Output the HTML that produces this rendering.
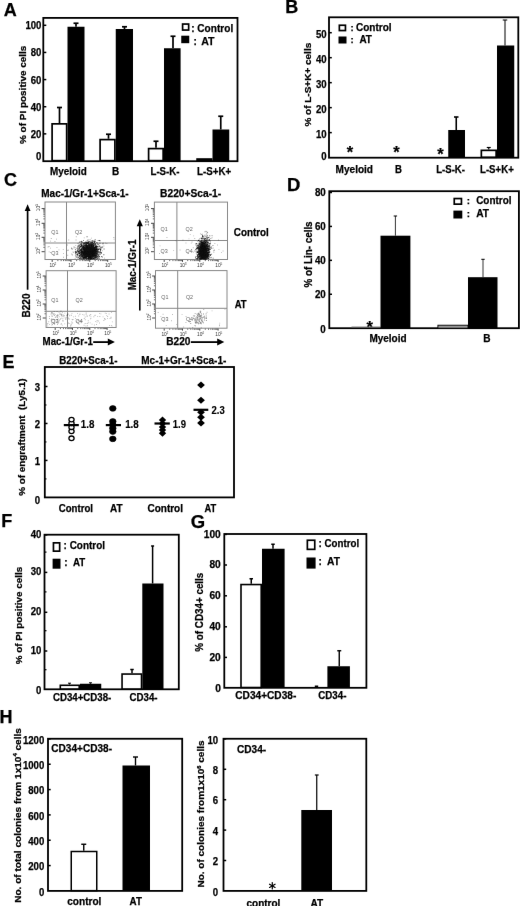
<!DOCTYPE html>
<html><head><meta charset="utf-8"><style>
html,body{margin:0;padding:0;background:#fff;width:520px;height:906px;overflow:hidden}
svg{display:block;will-change:transform;font-family:"Liberation Sans",sans-serif}
</style></head><body><svg width="520" height="906" viewBox="0 0 520 906">
<defs><filter id="bl" x="0" y="0" width="520" height="906" filterUnits="userSpaceOnUse" color-interpolation-filters="sRGB"><feConvolveMatrix order="3" kernelMatrix="0 1 0 1 24 1 0 1 0" divisor="28" edgeMode="duplicate"/></filter></defs>
<g filter="url(#bl)"><rect x="0" y="0" width="520" height="906" fill="#fff"/>
<text x="3.7" y="16.1" font-size="18" font-weight="bold" text-anchor="start" fill="#000" stroke="#000" stroke-width="0.25">A</text>
<rect x="43.3" y="17.9" width="194.2" height="143.3" fill="none" stroke="#000" stroke-width="1.8"/>
<line x1="43.3" y1="25.3" x2="46.3" y2="25.3" stroke="#000" stroke-width="1.5"/>
<text x="41.4" y="29.31" font-size="10.08" font-weight="bold" text-anchor="end" fill="#000" stroke="#000" stroke-width="0.25" textLength="16.01" lengthAdjust="spacingAndGlyphs">100</text>
<line x1="43.3" y1="52.44" x2="46.3" y2="52.44" stroke="#000" stroke-width="1.5"/>
<text x="41.4" y="56.45" font-size="10.08" font-weight="bold" text-anchor="end" fill="#000" stroke="#000" stroke-width="0.25" textLength="10.68" lengthAdjust="spacingAndGlyphs">80</text>
<line x1="43.3" y1="79.58" x2="46.3" y2="79.58" stroke="#000" stroke-width="1.5"/>
<text x="41.4" y="83.59" font-size="10.08" font-weight="bold" text-anchor="end" fill="#000" stroke="#000" stroke-width="0.25" textLength="10.68" lengthAdjust="spacingAndGlyphs">60</text>
<line x1="43.3" y1="106.72" x2="46.3" y2="106.72" stroke="#000" stroke-width="1.5"/>
<text x="41.4" y="110.73" font-size="10.08" font-weight="bold" text-anchor="end" fill="#000" stroke="#000" stroke-width="0.25" textLength="10.68" lengthAdjust="spacingAndGlyphs">40</text>
<line x1="43.3" y1="133.86" x2="46.3" y2="133.86" stroke="#000" stroke-width="1.5"/>
<text x="41.4" y="137.87" font-size="10.08" font-weight="bold" text-anchor="end" fill="#000" stroke="#000" stroke-width="0.25" textLength="10.68" lengthAdjust="spacingAndGlyphs">20</text>
<text x="41.4" y="159.81" font-size="10.08" font-weight="bold" text-anchor="end" fill="#000" stroke="#000" stroke-width="0.25" textLength="5.34" lengthAdjust="spacingAndGlyphs">0</text>
<text transform="translate(26,94.8) rotate(-90)" x="0" y="0" font-size="9.77" font-weight="bold" text-anchor="middle" fill="#000" stroke="#000" stroke-width="0.25" textLength="98.4" lengthAdjust="spacingAndGlyphs">% of PI positive cells</text>
<line x1="59.5" y1="107.5" x2="59.5" y2="123" stroke="#000" stroke-width="1.7"/>
<line x1="57" y1="107.5" x2="62" y2="107.5" stroke="#000" stroke-width="1.7"/>
<rect x="52.1" y="123.85" width="14.55" height="36.8" fill="#fff" stroke="#000" stroke-width="1.7"/>
<line x1="108.5" y1="134.25" x2="108.5" y2="138.75" stroke="#000" stroke-width="1.7"/>
<line x1="106" y1="134.25" x2="111" y2="134.25" stroke="#000" stroke-width="1.7"/>
<rect x="100.1" y="139.6" width="14.8" height="21.05" fill="#fff" stroke="#000" stroke-width="1.7"/>
<line x1="156" y1="141.25" x2="156" y2="147.75" stroke="#000" stroke-width="1.7"/>
<line x1="153.5" y1="141.25" x2="158.5" y2="141.25" stroke="#000" stroke-width="1.7"/>
<rect x="148.6" y="148.6" width="14.55" height="12.05" fill="#fff" stroke="#000" stroke-width="1.7"/>
<rect x="197.1" y="159.05" width="14.55" height="1.6" fill="#fff" stroke="#000" stroke-width="1.7"/>
<line x1="76" y1="23.25" x2="76" y2="26.75" stroke="#000" stroke-width="1.7"/>
<line x1="73.5" y1="23.25" x2="78.5" y2="23.25" stroke="#000" stroke-width="1.7"/>
<rect x="67.5" y="26.75" width="17" height="134.25" fill="#000"/>
<line x1="124.5" y1="26.75" x2="124.5" y2="29" stroke="#000" stroke-width="1.7"/>
<line x1="122" y1="26.75" x2="127" y2="26.75" stroke="#000" stroke-width="1.7"/>
<rect x="115.75" y="29" width="17.25" height="132" fill="#000"/>
<line x1="173" y1="36.25" x2="173" y2="48.25" stroke="#000" stroke-width="1.7"/>
<line x1="170.5" y1="36.25" x2="175.5" y2="36.25" stroke="#000" stroke-width="1.7"/>
<rect x="164" y="48.25" width="16.6" height="112.75" fill="#000"/>
<line x1="220.75" y1="116.25" x2="220.75" y2="129.5" stroke="#000" stroke-width="1.7"/>
<line x1="218.25" y1="116.25" x2="223.25" y2="116.25" stroke="#000" stroke-width="1.7"/>
<rect x="212.5" y="129.5" width="16.75" height="31.5" fill="#000"/>
<rect x="182.6" y="24.05" width="6.05" height="6" fill="#fff" stroke="#000" stroke-width="1.7"/>
<rect x="181.25" y="35.7" width="8" height="7.5" fill="#000"/>
<text x="191.2" y="31.7" font-size="10.5" font-weight="bold" text-anchor="start" fill="#000" stroke="#000" stroke-width="0.25" textLength="42" lengthAdjust="spacingAndGlyphs">: Control</text>
<text x="193.6" y="44.6" font-size="10" font-weight="bold" text-anchor="start" fill="#000" stroke="#000" stroke-width="0.25">:</text>
<text x="201.2" y="44.8" font-size="10.82" font-weight="bold" text-anchor="start" fill="#000" stroke="#000" stroke-width="0.25" textLength="13.3" lengthAdjust="spacingAndGlyphs">AT</text>
<text x="68.4" y="174.9" font-size="10.82" font-weight="bold" text-anchor="middle" fill="#000" stroke="#000" stroke-width="0.25" textLength="36.75" lengthAdjust="spacingAndGlyphs">Myeloid</text>
<text x="115.6" y="174.9" font-size="10.82" font-weight="bold" text-anchor="middle" fill="#000" stroke="#000" stroke-width="0.25" textLength="7.2" lengthAdjust="spacingAndGlyphs">B</text>
<text x="165" y="174.9" font-size="10.82" font-weight="bold" text-anchor="middle" fill="#000" stroke="#000" stroke-width="0.25" textLength="29" lengthAdjust="spacingAndGlyphs">L-S-K-</text>
<text x="214.1" y="174.9" font-size="10.82" font-weight="bold" text-anchor="middle" fill="#000" stroke="#000" stroke-width="0.25" textLength="34.25" lengthAdjust="spacingAndGlyphs">L-S+K+</text>
<text x="285.3" y="13" font-size="18" font-weight="bold" text-anchor="start" fill="#000" stroke="#000" stroke-width="0.25">B</text>
<rect x="329" y="17.3" width="189.3" height="140.4" fill="none" stroke="#000" stroke-width="1.8"/>
<line x1="329" y1="32.7" x2="331.8" y2="32.7" stroke="#000" stroke-width="1.5"/>
<text x="326.6" y="37.88" font-size="10.29" font-weight="bold" text-anchor="end" fill="#000" stroke="#000" stroke-width="0.25" textLength="10.68" lengthAdjust="spacingAndGlyphs">50</text>
<line x1="329" y1="57.68" x2="331.8" y2="57.68" stroke="#000" stroke-width="1.5"/>
<text x="326.6" y="62.86" font-size="10.29" font-weight="bold" text-anchor="end" fill="#000" stroke="#000" stroke-width="0.25" textLength="10.68" lengthAdjust="spacingAndGlyphs">40</text>
<line x1="329" y1="82.66" x2="331.8" y2="82.66" stroke="#000" stroke-width="1.5"/>
<text x="326.6" y="87.84" font-size="10.29" font-weight="bold" text-anchor="end" fill="#000" stroke="#000" stroke-width="0.25" textLength="10.68" lengthAdjust="spacingAndGlyphs">30</text>
<line x1="329" y1="107.64" x2="331.8" y2="107.64" stroke="#000" stroke-width="1.5"/>
<text x="326.6" y="112.82" font-size="10.29" font-weight="bold" text-anchor="end" fill="#000" stroke="#000" stroke-width="0.25" textLength="10.68" lengthAdjust="spacingAndGlyphs">20</text>
<line x1="329" y1="132.62" x2="331.8" y2="132.62" stroke="#000" stroke-width="1.5"/>
<text x="326.6" y="137.8" font-size="10.29" font-weight="bold" text-anchor="end" fill="#000" stroke="#000" stroke-width="0.25" textLength="10.68" lengthAdjust="spacingAndGlyphs">10</text>
<text x="326.6" y="159.58" font-size="10.29" font-weight="bold" text-anchor="end" fill="#000" stroke="#000" stroke-width="0.25" textLength="5.34" lengthAdjust="spacingAndGlyphs">0</text>
<text transform="translate(311.4,84.7) rotate(-90)" x="0" y="0" font-size="9.77" font-weight="bold" text-anchor="middle" fill="#000" stroke="#000" stroke-width="0.25" textLength="83.8" lengthAdjust="spacingAndGlyphs">% of L-S+K+ cells</text>
<rect x="339.35" y="25.25" width="6.1" height="5.3" fill="#fff" stroke="#000" stroke-width="1.7"/>
<rect x="338.5" y="36.5" width="8" height="7" fill="#000"/>
<text x="350.4" y="31" font-size="9.5" font-weight="bold" text-anchor="start" fill="#000" stroke="#000" stroke-width="0.25">:</text>
<text x="356" y="31.2" font-size="10.4" font-weight="bold" text-anchor="start" fill="#000" stroke="#000" stroke-width="0.25" textLength="35.6" lengthAdjust="spacingAndGlyphs">Control</text>
<text x="350.6" y="43" font-size="9.5" font-weight="bold" text-anchor="start" fill="#000" stroke="#000" stroke-width="0.25">:</text>
<text x="359.4" y="43.2" font-size="10.4" font-weight="bold" text-anchor="start" fill="#000" stroke="#000" stroke-width="0.25" textLength="12.5" lengthAdjust="spacingAndGlyphs">AT</text>
<text x="349.9" y="157.68" font-size="16.5" font-weight="bold" text-anchor="middle" fill="#000" stroke="#000" stroke-width="0.25">*</text>
<text x="396.4" y="157.98" font-size="16.5" font-weight="bold" text-anchor="middle" fill="#000" stroke="#000" stroke-width="0.25">*</text>
<text x="440.4" y="160.48" font-size="16.5" font-weight="bold" text-anchor="middle" fill="#000" stroke="#000" stroke-width="0.25">*</text>
<line x1="456.25" y1="117" x2="456.25" y2="130" stroke="#000" stroke-width="1.6"/>
<line x1="454" y1="117" x2="458.5" y2="117" stroke="#000" stroke-width="1.6"/>
<rect x="448.25" y="130" width="16.75" height="27.6" fill="#000"/>
<line x1="488.75" y1="147.5" x2="488.75" y2="149.5" stroke="#000" stroke-width="1.2"/>
<line x1="486.75" y1="147.5" x2="490.75" y2="147.5" stroke="#000" stroke-width="1.2"/>
<rect x="481.35" y="150.35" width="14.8" height="6.9" fill="#fff" stroke="#000" stroke-width="1.7"/>
<line x1="505" y1="20" x2="505" y2="45.5" stroke="#000" stroke-width="1"/>
<line x1="502.75" y1="20" x2="507.25" y2="20" stroke="#000" stroke-width="1"/>
<rect x="497" y="45.5" width="17.25" height="112.1" fill="#000"/>
<text x="354.3" y="172.8" font-size="10.19" font-weight="bold" text-anchor="middle" fill="#000" stroke="#000" stroke-width="0.25" textLength="37.4" lengthAdjust="spacingAndGlyphs">Myeloid</text>
<text x="398.4" y="172.8" font-size="10.19" font-weight="bold" text-anchor="middle" fill="#000" stroke="#000" stroke-width="0.25" textLength="6.9" lengthAdjust="spacingAndGlyphs">B</text>
<text x="450.6" y="172.8" font-size="10.19" font-weight="bold" text-anchor="middle" fill="#000" stroke="#000" stroke-width="0.25" textLength="28.75" lengthAdjust="spacingAndGlyphs">L-S-K-</text>
<text x="496.9" y="172.8" font-size="10.19" font-weight="bold" text-anchor="middle" fill="#000" stroke="#000" stroke-width="0.25" textLength="33.75" lengthAdjust="spacingAndGlyphs">L-S+K+</text>
<text x="3.9" y="186.4" font-size="18" font-weight="bold" text-anchor="start" fill="#000" stroke="#000" stroke-width="0.25">C</text>
<text x="41.3" y="197.1" font-size="10.29" font-weight="bold" text-anchor="start" fill="#000" stroke="#000" stroke-width="0.25" textLength="87.4" lengthAdjust="spacingAndGlyphs">Mac-1/Gr-1+Sca-1-</text>
<text x="160.1" y="197.2" font-size="10.29" font-weight="bold" text-anchor="start" fill="#000" stroke="#000" stroke-width="0.25" textLength="61.1" lengthAdjust="spacingAndGlyphs">B220+Sca-1-</text>
<line x1="52.2" y1="259.5" x2="52.2" y2="261.9" stroke="#333" stroke-width="0.9"/>
<text x="49.4" y="267.4" font-size="4.8" font-weight="normal" text-anchor="start" fill="#333">10</text>
<text x="54.5" y="265.1" font-size="3.2" font-weight="normal" text-anchor="start" fill="#333">2</text>
<line x1="57.86" y1="259.5" x2="57.86" y2="261.1" stroke="#444" stroke-width="0.8"/>
<line x1="61.17" y1="259.5" x2="61.17" y2="261.1" stroke="#444" stroke-width="0.8"/>
<line x1="63.52" y1="259.5" x2="63.52" y2="261.1" stroke="#444" stroke-width="0.8"/>
<line x1="65.34" y1="259.5" x2="65.34" y2="261.1" stroke="#444" stroke-width="0.8"/>
<line x1="66.83" y1="259.5" x2="66.83" y2="261.1" stroke="#444" stroke-width="0.8"/>
<line x1="68.09" y1="259.5" x2="68.09" y2="261.1" stroke="#444" stroke-width="0.8"/>
<line x1="69.18" y1="259.5" x2="69.18" y2="261.1" stroke="#444" stroke-width="0.8"/>
<line x1="70.14" y1="259.5" x2="70.14" y2="261.1" stroke="#444" stroke-width="0.8"/>
<line x1="71" y1="259.5" x2="71" y2="261.9" stroke="#333" stroke-width="0.9"/>
<text x="68.2" y="267.4" font-size="4.8" font-weight="normal" text-anchor="start" fill="#333">10</text>
<text x="73.3" y="265.1" font-size="3.2" font-weight="normal" text-anchor="start" fill="#333">3</text>
<line x1="76.66" y1="259.5" x2="76.66" y2="261.1" stroke="#444" stroke-width="0.8"/>
<line x1="79.97" y1="259.5" x2="79.97" y2="261.1" stroke="#444" stroke-width="0.8"/>
<line x1="82.32" y1="259.5" x2="82.32" y2="261.1" stroke="#444" stroke-width="0.8"/>
<line x1="84.14" y1="259.5" x2="84.14" y2="261.1" stroke="#444" stroke-width="0.8"/>
<line x1="85.63" y1="259.5" x2="85.63" y2="261.1" stroke="#444" stroke-width="0.8"/>
<line x1="86.89" y1="259.5" x2="86.89" y2="261.1" stroke="#444" stroke-width="0.8"/>
<line x1="87.98" y1="259.5" x2="87.98" y2="261.1" stroke="#444" stroke-width="0.8"/>
<line x1="88.94" y1="259.5" x2="88.94" y2="261.1" stroke="#444" stroke-width="0.8"/>
<line x1="89.8" y1="259.5" x2="89.8" y2="261.9" stroke="#333" stroke-width="0.9"/>
<text x="87" y="267.4" font-size="4.8" font-weight="normal" text-anchor="start" fill="#333">10</text>
<text x="92.1" y="265.1" font-size="3.2" font-weight="normal" text-anchor="start" fill="#333">4</text>
<line x1="95.19" y1="259.5" x2="95.19" y2="261.1" stroke="#444" stroke-width="0.8"/>
<line x1="98.34" y1="259.5" x2="98.34" y2="261.1" stroke="#444" stroke-width="0.8"/>
<line x1="100.58" y1="259.5" x2="100.58" y2="261.1" stroke="#444" stroke-width="0.8"/>
<line x1="102.31" y1="259.5" x2="102.31" y2="261.1" stroke="#444" stroke-width="0.8"/>
<line x1="103.73" y1="259.5" x2="103.73" y2="261.1" stroke="#444" stroke-width="0.8"/>
<line x1="104.93" y1="259.5" x2="104.93" y2="261.1" stroke="#444" stroke-width="0.8"/>
<line x1="105.97" y1="259.5" x2="105.97" y2="261.1" stroke="#444" stroke-width="0.8"/>
<line x1="106.88" y1="259.5" x2="106.88" y2="261.1" stroke="#444" stroke-width="0.8"/>
<line x1="107.7" y1="259.5" x2="107.7" y2="261.9" stroke="#333" stroke-width="0.9"/>
<text x="104.9" y="267.4" font-size="4.8" font-weight="normal" text-anchor="start" fill="#333">10</text>
<text x="110" y="265.1" font-size="3.2" font-weight="normal" text-anchor="start" fill="#333">5</text>
<line x1="41.6" y1="251.7" x2="45" y2="251.7" stroke="#333" stroke-width="0.9"/>
<text transform="translate(40,254.3) rotate(-90)" font-size="4.8" fill="#333">10<tspan font-size="3.2" dy="-1.9">2</tspan></text>
<line x1="43.4" y1="247.37" x2="45" y2="247.37" stroke="#444" stroke-width="0.8"/>
<line x1="43.4" y1="244.83" x2="45" y2="244.83" stroke="#444" stroke-width="0.8"/>
<line x1="43.4" y1="243.03" x2="45" y2="243.03" stroke="#444" stroke-width="0.8"/>
<line x1="43.4" y1="241.63" x2="45" y2="241.63" stroke="#444" stroke-width="0.8"/>
<line x1="43.4" y1="240.49" x2="45" y2="240.49" stroke="#444" stroke-width="0.8"/>
<line x1="43.4" y1="239.53" x2="45" y2="239.53" stroke="#444" stroke-width="0.8"/>
<line x1="43.4" y1="238.7" x2="45" y2="238.7" stroke="#444" stroke-width="0.8"/>
<line x1="43.4" y1="237.96" x2="45" y2="237.96" stroke="#444" stroke-width="0.8"/>
<line x1="41.6" y1="237.3" x2="45" y2="237.3" stroke="#333" stroke-width="0.9"/>
<text transform="translate(40,239.9) rotate(-90)" font-size="4.8" fill="#333">10<tspan font-size="3.2" dy="-1.9">3</tspan></text>
<line x1="43.4" y1="233.09" x2="45" y2="233.09" stroke="#444" stroke-width="0.8"/>
<line x1="43.4" y1="230.62" x2="45" y2="230.62" stroke="#444" stroke-width="0.8"/>
<line x1="43.4" y1="228.87" x2="45" y2="228.87" stroke="#444" stroke-width="0.8"/>
<line x1="43.4" y1="227.51" x2="45" y2="227.51" stroke="#444" stroke-width="0.8"/>
<line x1="43.4" y1="226.41" x2="45" y2="226.41" stroke="#444" stroke-width="0.8"/>
<line x1="43.4" y1="225.47" x2="45" y2="225.47" stroke="#444" stroke-width="0.8"/>
<line x1="43.4" y1="224.66" x2="45" y2="224.66" stroke="#444" stroke-width="0.8"/>
<line x1="43.4" y1="223.94" x2="45" y2="223.94" stroke="#444" stroke-width="0.8"/>
<line x1="41.6" y1="223.3" x2="45" y2="223.3" stroke="#333" stroke-width="0.9"/>
<text transform="translate(40,225.9) rotate(-90)" font-size="4.8" fill="#333">10<tspan font-size="3.2" dy="-1.9">4</tspan></text>
<line x1="43.4" y1="218.87" x2="45" y2="218.87" stroke="#444" stroke-width="0.8"/>
<line x1="43.4" y1="216.29" x2="45" y2="216.29" stroke="#444" stroke-width="0.8"/>
<line x1="43.4" y1="214.45" x2="45" y2="214.45" stroke="#444" stroke-width="0.8"/>
<line x1="43.4" y1="213.03" x2="45" y2="213.03" stroke="#444" stroke-width="0.8"/>
<line x1="43.4" y1="211.86" x2="45" y2="211.86" stroke="#444" stroke-width="0.8"/>
<line x1="43.4" y1="210.88" x2="45" y2="210.88" stroke="#444" stroke-width="0.8"/>
<line x1="43.4" y1="210.02" x2="45" y2="210.02" stroke="#444" stroke-width="0.8"/>
<line x1="43.4" y1="209.27" x2="45" y2="209.27" stroke="#444" stroke-width="0.8"/>
<line x1="41.6" y1="208.6" x2="45" y2="208.6" stroke="#333" stroke-width="0.9"/>
<text transform="translate(40,211.2) rotate(-90)" font-size="4.8" fill="#333">10<tspan font-size="3.2" dy="-1.9">5</tspan></text>
<rect x="45" y="202" width="70.4" height="57.5" fill="none" stroke="#888" stroke-width="1"/>
<line x1="66.5" y1="202" x2="66.5" y2="259.5" stroke="#888" stroke-width="1"/>
<line x1="45" y1="243" x2="115.4" y2="243" stroke="#888" stroke-width="1"/>
<text x="51.3" y="234.4" font-size="5.4" font-weight="normal" text-anchor="start" fill="#666">Q1</text>
<text x="75" y="234.4" font-size="5.4" font-weight="normal" text-anchor="start" fill="#666">Q2</text>
<text x="51.3" y="255.4" font-size="5.4" font-weight="normal" text-anchor="start" fill="#666">Q3</text>
<text x="75" y="255.4" font-size="5.4" font-weight="normal" text-anchor="start" fill="#666">Q4</text>
<path d="M68.3 239.5h0.9v0.9h-0.9zM90.9 237.7h0.9v0.9h-0.9zM83.0 244.4h0.9v0.9h-0.9zM50.0 247.7h0.9v0.9h-0.9zM48.6 246.0h0.9v0.9h-0.9zM50.8 238.1h0.9v0.9h-0.9zM75.3 255.0h0.9v0.9h-0.9zM54.5 241.1h0.9v0.9h-0.9zM89.3 257.8h0.9v0.9h-0.9zM85.8 245.1h0.9v0.9h-0.9zM113.4 237.1h0.9v0.9h-0.9zM105.2 242.7h0.9v0.9h-0.9zM56.0 238.7h0.9v0.9h-0.9zM67.3 254.8h0.9v0.9h-0.9zM58.5 249.4h0.9v0.9h-0.9zM90.1 244.6h0.9v0.9h-0.9zM83.8 237.4h0.9v0.9h-0.9zM50.1 240.7h0.9v0.9h-0.9zM92.9 245.8h0.9v0.9h-0.9zM67.7 249.5h0.9v0.9h-0.9zM77.3 242.9h0.9v0.9h-0.9zM100.8 252.1h0.9v0.9h-0.9zM62.8 249.2h0.9v0.9h-0.9zM82.2 256.1h0.9v0.9h-0.9zM96.3 242.6h0.9v0.9h-0.9zM113.6 238.7h0.9v0.9h-0.9zM74.9 253.4h0.9v0.9h-0.9zM56.5 247.2h0.9v0.9h-0.9zM48.7 251.4h0.9v0.9h-0.9zM98.8 249.2h0.9v0.9h-0.9zM106.4 243.2h0.9v0.9h-0.9zM94.0 249.7h0.9v0.9h-0.9zM86.0 246.5h0.9v0.9h-0.9zM104.0 257.7h0.9v0.9h-0.9zM78.7 251.3h0.9v0.9h-0.9zM50.2 252.1h0.9v0.9h-0.9zM90.7 258.8h0.9v0.9h-0.9zM102.7 242.5h0.9v0.9h-0.9zM72.6 251.4h0.9v0.9h-0.9zM47.6 246.6h0.9v0.9h-0.9z" fill="#000" fill-opacity="0.35"/>
<path d="M89.7 253.4h0.9v0.9h-0.9zM96.5 254.2h0.9v0.9h-0.9zM91.1 253.9h0.9v0.9h-0.9zM80.7 257.1h0.9v0.9h-0.9zM93.3 253.8h0.9v0.9h-0.9zM78.6 248.7h0.9v0.9h-0.9zM92.7 243.5h0.9v0.9h-0.9zM87.6 256.0h0.9v0.9h-0.9zM81.9 258.6h0.9v0.9h-0.9zM91.3 250.8h0.9v0.9h-0.9zM90.1 254.4h0.9v0.9h-0.9zM89.1 256.5h0.9v0.9h-0.9zM85.2 249.7h0.9v0.9h-0.9zM93.7 251.6h0.9v0.9h-0.9zM84.1 255.7h0.9v0.9h-0.9zM95.8 249.5h0.9v0.9h-0.9zM81.6 250.9h0.9v0.9h-0.9zM87.8 250.2h0.9v0.9h-0.9zM95.5 247.0h0.9v0.9h-0.9zM94.8 245.9h0.9v0.9h-0.9zM84.6 254.3h0.9v0.9h-0.9zM94.1 255.3h0.9v0.9h-0.9zM90.2 252.1h0.9v0.9h-0.9zM89.3 254.0h0.9v0.9h-0.9zM87.6 252.7h0.9v0.9h-0.9zM91.4 251.5h0.9v0.9h-0.9zM92.3 254.0h0.9v0.9h-0.9zM98.6 252.9h0.9v0.9h-0.9zM86.4 249.9h0.9v0.9h-0.9zM88.4 255.6h0.9v0.9h-0.9zM86.8 253.2h0.9v0.9h-0.9zM97.7 240.2h0.9v0.9h-0.9zM82.9 252.6h0.9v0.9h-0.9zM90.5 252.5h0.9v0.9h-0.9zM86.3 254.4h0.9v0.9h-0.9zM89.9 249.2h0.9v0.9h-0.9zM100.7 253.1h0.9v0.9h-0.9zM85.7 251.1h0.9v0.9h-0.9zM87.4 251.2h0.9v0.9h-0.9zM74.9 249.4h0.9v0.9h-0.9zM93.5 246.4h0.9v0.9h-0.9zM88.2 255.7h0.9v0.9h-0.9zM92.8 258.1h0.9v0.9h-0.9zM80.0 249.9h0.9v0.9h-0.9zM86.8 254.2h0.9v0.9h-0.9zM94.0 239.7h0.9v0.9h-0.9zM93.9 245.1h0.9v0.9h-0.9zM91.9 244.9h0.9v0.9h-0.9zM89.4 256.8h0.9v0.9h-0.9zM87.8 252.3h0.9v0.9h-0.9zM92.5 252.1h0.9v0.9h-0.9zM88.1 258.2h0.9v0.9h-0.9zM93.7 250.2h0.9v0.9h-0.9zM102.2 246.5h0.9v0.9h-0.9zM93.1 250.3h0.9v0.9h-0.9zM89.2 254.6h0.9v0.9h-0.9zM89.6 254.3h0.9v0.9h-0.9zM80.9 244.9h0.9v0.9h-0.9zM91.6 247.3h0.9v0.9h-0.9zM83.4 245.0h0.9v0.9h-0.9zM94.8 254.8h0.9v0.9h-0.9zM95.9 247.4h0.9v0.9h-0.9zM88.5 246.5h0.9v0.9h-0.9zM92.3 258.5h0.9v0.9h-0.9zM84.0 258.4h0.9v0.9h-0.9zM93.4 250.7h0.9v0.9h-0.9zM78.6 257.7h0.9v0.9h-0.9zM88.0 248.8h0.9v0.9h-0.9zM90.5 253.3h0.9v0.9h-0.9zM96.0 247.0h0.9v0.9h-0.9zM94.2 258.0h0.9v0.9h-0.9zM95.8 250.7h0.9v0.9h-0.9zM84.8 256.0h0.9v0.9h-0.9zM89.1 252.0h0.9v0.9h-0.9zM95.6 250.3h0.9v0.9h-0.9zM77.0 249.8h0.9v0.9h-0.9zM79.2 255.1h0.9v0.9h-0.9zM90.1 248.8h0.9v0.9h-0.9zM88.5 255.2h0.9v0.9h-0.9zM88.9 257.3h0.9v0.9h-0.9zM88.2 256.1h0.9v0.9h-0.9zM96.0 258.6h0.9v0.9h-0.9zM85.1 255.4h0.9v0.9h-0.9zM79.1 246.7h0.9v0.9h-0.9zM78.7 256.2h0.9v0.9h-0.9zM82.3 251.4h0.9v0.9h-0.9zM87.5 251.4h0.9v0.9h-0.9zM85.5 252.5h0.9v0.9h-0.9zM97.5 251.7h0.9v0.9h-0.9zM91.2 255.9h0.9v0.9h-0.9zM87.5 246.0h0.9v0.9h-0.9zM85.7 256.2h0.9v0.9h-0.9zM80.3 248.9h0.9v0.9h-0.9zM93.5 255.0h0.9v0.9h-0.9zM88.5 255.0h0.9v0.9h-0.9zM89.3 246.3h0.9v0.9h-0.9zM80.7 248.7h0.9v0.9h-0.9zM93.1 249.0h0.9v0.9h-0.9zM84.0 248.1h0.9v0.9h-0.9zM80.8 251.0h0.9v0.9h-0.9zM82.6 253.1h0.9v0.9h-0.9zM76.7 252.9h0.9v0.9h-0.9zM85.3 243.0h0.9v0.9h-0.9zM92.1 250.3h0.9v0.9h-0.9zM77.3 247.6h0.9v0.9h-0.9zM90.0 249.5h0.9v0.9h-0.9zM92.4 254.8h0.9v0.9h-0.9zM91.8 252.9h0.9v0.9h-0.9zM95.2 254.4h0.9v0.9h-0.9zM90.8 242.3h0.9v0.9h-0.9zM93.0 257.3h0.9v0.9h-0.9zM87.0 249.4h0.9v0.9h-0.9zM98.2 243.8h0.9v0.9h-0.9zM83.9 254.5h0.9v0.9h-0.9zM97.9 251.0h0.9v0.9h-0.9zM91.3 255.5h0.9v0.9h-0.9zM84.0 251.1h0.9v0.9h-0.9zM90.0 255.1h0.9v0.9h-0.9zM88.3 250.6h0.9v0.9h-0.9zM83.4 249.9h0.9v0.9h-0.9zM93.0 251.9h0.9v0.9h-0.9zM84.2 247.8h0.9v0.9h-0.9zM101.8 256.5h0.9v0.9h-0.9zM91.7 240.1h0.9v0.9h-0.9zM91.6 253.6h0.9v0.9h-0.9zM96.9 253.4h0.9v0.9h-0.9zM88.2 253.8h0.9v0.9h-0.9zM78.8 256.0h0.9v0.9h-0.9zM90.1 248.4h0.9v0.9h-0.9zM81.5 248.6h0.9v0.9h-0.9zM90.0 252.3h0.9v0.9h-0.9zM86.5 247.2h0.9v0.9h-0.9zM99.1 256.1h0.9v0.9h-0.9zM82.5 245.6h0.9v0.9h-0.9zM97.0 255.9h0.9v0.9h-0.9zM97.6 255.1h0.9v0.9h-0.9zM84.1 252.6h0.9v0.9h-0.9zM77.7 248.2h0.9v0.9h-0.9zM88.2 253.8h0.9v0.9h-0.9zM84.9 251.0h0.9v0.9h-0.9zM90.8 253.2h0.9v0.9h-0.9zM91.7 252.4h0.9v0.9h-0.9zM86.9 255.0h0.9v0.9h-0.9zM88.7 247.9h0.9v0.9h-0.9zM85.4 251.5h0.9v0.9h-0.9zM88.0 252.2h0.9v0.9h-0.9zM88.5 252.3h0.9v0.9h-0.9zM87.8 246.0h0.9v0.9h-0.9zM90.6 256.1h0.9v0.9h-0.9zM90.7 250.7h0.9v0.9h-0.9zM90.7 247.3h0.9v0.9h-0.9zM79.0 251.8h0.9v0.9h-0.9zM83.8 254.8h0.9v0.9h-0.9zM83.1 239.9h0.9v0.9h-0.9zM83.3 258.4h0.9v0.9h-0.9zM86.6 245.5h0.9v0.9h-0.9zM84.7 253.8h0.9v0.9h-0.9zM91.0 252.3h0.9v0.9h-0.9zM95.9 254.6h0.9v0.9h-0.9zM88.4 254.1h0.9v0.9h-0.9zM96.8 255.8h0.9v0.9h-0.9zM93.6 246.7h0.9v0.9h-0.9zM87.8 254.7h0.9v0.9h-0.9zM87.0 256.2h0.9v0.9h-0.9zM91.5 255.5h0.9v0.9h-0.9zM94.7 250.6h0.9v0.9h-0.9zM86.8 255.3h0.9v0.9h-0.9zM93.4 251.5h0.9v0.9h-0.9zM82.7 252.3h0.9v0.9h-0.9zM90.3 256.5h0.9v0.9h-0.9zM92.4 251.6h0.9v0.9h-0.9zM92.8 253.9h0.9v0.9h-0.9zM89.5 251.7h0.9v0.9h-0.9zM87.3 254.5h0.9v0.9h-0.9zM83.2 248.7h0.9v0.9h-0.9zM88.5 245.1h0.9v0.9h-0.9zM86.3 242.7h0.9v0.9h-0.9zM85.1 254.0h0.9v0.9h-0.9zM91.3 251.3h0.9v0.9h-0.9zM87.3 245.3h0.9v0.9h-0.9zM97.6 253.8h0.9v0.9h-0.9zM94.0 247.6h0.9v0.9h-0.9zM87.6 243.5h0.9v0.9h-0.9zM92.4 255.6h0.9v0.9h-0.9zM79.0 251.3h0.9v0.9h-0.9zM91.7 243.7h0.9v0.9h-0.9zM79.4 246.8h0.9v0.9h-0.9zM85.4 245.3h0.9v0.9h-0.9zM88.7 252.6h0.9v0.9h-0.9zM91.7 254.6h0.9v0.9h-0.9zM96.0 256.6h0.9v0.9h-0.9zM81.9 249.3h0.9v0.9h-0.9zM83.2 246.8h0.9v0.9h-0.9zM88.1 251.5h0.9v0.9h-0.9zM91.0 244.5h0.9v0.9h-0.9zM82.3 251.4h0.9v0.9h-0.9zM87.5 250.1h0.9v0.9h-0.9zM88.2 248.2h0.9v0.9h-0.9zM92.0 253.1h0.9v0.9h-0.9zM88.1 248.5h0.9v0.9h-0.9zM87.6 239.5h0.9v0.9h-0.9zM83.6 251.7h0.9v0.9h-0.9zM81.0 252.4h0.9v0.9h-0.9zM89.2 245.4h0.9v0.9h-0.9zM87.2 250.1h0.9v0.9h-0.9zM90.8 254.2h0.9v0.9h-0.9zM88.3 247.8h0.9v0.9h-0.9zM87.8 251.2h0.9v0.9h-0.9zM92.2 252.8h0.9v0.9h-0.9zM84.9 245.5h0.9v0.9h-0.9zM86.6 248.2h0.9v0.9h-0.9zM82.9 251.0h0.9v0.9h-0.9zM86.0 252.0h0.9v0.9h-0.9zM91.1 249.7h0.9v0.9h-0.9zM100.1 250.1h0.9v0.9h-0.9zM94.0 252.0h0.9v0.9h-0.9zM94.1 241.0h0.9v0.9h-0.9zM84.7 252.6h0.9v0.9h-0.9zM90.1 257.1h0.9v0.9h-0.9zM92.3 255.7h0.9v0.9h-0.9zM91.1 250.8h0.9v0.9h-0.9zM91.0 246.8h0.9v0.9h-0.9zM94.4 247.0h0.9v0.9h-0.9zM87.4 251.6h0.9v0.9h-0.9zM94.3 251.6h0.9v0.9h-0.9zM84.5 252.6h0.9v0.9h-0.9zM91.4 254.6h0.9v0.9h-0.9zM96.8 251.6h0.9v0.9h-0.9zM89.8 249.6h0.9v0.9h-0.9zM95.6 248.4h0.9v0.9h-0.9zM91.9 249.4h0.9v0.9h-0.9zM85.0 254.7h0.9v0.9h-0.9zM95.2 251.5h0.9v0.9h-0.9zM85.1 255.1h0.9v0.9h-0.9zM88.3 252.9h0.9v0.9h-0.9zM96.1 256.5h0.9v0.9h-0.9zM88.5 255.0h0.9v0.9h-0.9zM85.3 251.3h0.9v0.9h-0.9zM95.3 246.2h0.9v0.9h-0.9zM81.0 244.4h0.9v0.9h-0.9zM94.4 249.5h0.9v0.9h-0.9zM88.2 250.1h0.9v0.9h-0.9zM87.9 246.7h0.9v0.9h-0.9zM88.6 245.2h0.9v0.9h-0.9zM88.1 252.9h0.9v0.9h-0.9zM90.8 250.5h0.9v0.9h-0.9zM84.0 252.2h0.9v0.9h-0.9zM86.1 258.4h0.9v0.9h-0.9zM92.3 251.0h0.9v0.9h-0.9zM86.1 248.4h0.9v0.9h-0.9zM83.8 249.9h0.9v0.9h-0.9zM90.0 253.8h0.9v0.9h-0.9zM85.0 251.6h0.9v0.9h-0.9zM102.5 243.3h0.9v0.9h-0.9zM85.9 252.2h0.9v0.9h-0.9zM89.3 253.3h0.9v0.9h-0.9zM87.3 253.1h0.9v0.9h-0.9zM88.8 254.9h0.9v0.9h-0.9zM79.0 247.6h0.9v0.9h-0.9zM88.5 247.0h0.9v0.9h-0.9zM83.3 254.3h0.9v0.9h-0.9zM85.3 254.3h0.9v0.9h-0.9zM92.2 252.8h0.9v0.9h-0.9zM91.0 251.0h0.9v0.9h-0.9zM81.5 251.4h0.9v0.9h-0.9zM90.8 249.2h0.9v0.9h-0.9zM88.0 254.8h0.9v0.9h-0.9zM84.1 254.3h0.9v0.9h-0.9zM97.8 249.1h0.9v0.9h-0.9zM89.2 250.8h0.9v0.9h-0.9zM96.2 252.9h0.9v0.9h-0.9zM93.0 248.5h0.9v0.9h-0.9zM88.4 251.5h0.9v0.9h-0.9zM79.6 257.8h0.9v0.9h-0.9zM93.0 243.8h0.9v0.9h-0.9zM92.2 250.9h0.9v0.9h-0.9zM90.7 253.1h0.9v0.9h-0.9zM81.0 250.6h0.9v0.9h-0.9zM96.0 249.0h0.9v0.9h-0.9zM83.4 245.5h0.9v0.9h-0.9zM82.4 253.0h0.9v0.9h-0.9zM97.0 253.4h0.9v0.9h-0.9zM85.9 248.5h0.9v0.9h-0.9zM91.1 253.9h0.9v0.9h-0.9zM83.4 246.4h0.9v0.9h-0.9zM90.0 252.6h0.9v0.9h-0.9zM82.0 250.6h0.9v0.9h-0.9zM85.8 253.5h0.9v0.9h-0.9zM87.9 251.1h0.9v0.9h-0.9zM86.7 256.1h0.9v0.9h-0.9zM95.5 249.9h0.9v0.9h-0.9zM92.7 248.2h0.9v0.9h-0.9zM88.9 254.8h0.9v0.9h-0.9zM96.1 249.8h0.9v0.9h-0.9zM88.1 252.4h0.9v0.9h-0.9zM81.0 251.6h0.9v0.9h-0.9zM85.1 253.1h0.9v0.9h-0.9zM82.9 242.8h0.9v0.9h-0.9zM88.7 252.6h0.9v0.9h-0.9zM85.8 255.4h0.9v0.9h-0.9zM87.1 248.8h0.9v0.9h-0.9zM90.9 244.6h0.9v0.9h-0.9zM85.1 251.4h0.9v0.9h-0.9zM92.7 250.8h0.9v0.9h-0.9zM90.0 248.6h0.9v0.9h-0.9zM90.0 258.8h0.9v0.9h-0.9zM85.3 251.6h0.9v0.9h-0.9zM89.4 256.0h0.9v0.9h-0.9zM82.3 242.3h0.9v0.9h-0.9zM91.5 255.0h0.9v0.9h-0.9zM89.5 252.6h0.9v0.9h-0.9zM93.1 253.1h0.9v0.9h-0.9zM96.8 246.1h0.9v0.9h-0.9zM86.6 236.3h0.9v0.9h-0.9zM92.6 249.9h0.9v0.9h-0.9zM88.5 250.4h0.9v0.9h-0.9zM86.0 247.8h0.9v0.9h-0.9zM85.3 254.3h0.9v0.9h-0.9zM88.7 251.8h0.9v0.9h-0.9zM87.6 255.5h0.9v0.9h-0.9zM91.0 250.9h0.9v0.9h-0.9zM91.8 250.8h0.9v0.9h-0.9zM82.7 257.9h0.9v0.9h-0.9zM90.8 247.3h0.9v0.9h-0.9zM93.9 253.0h0.9v0.9h-0.9zM80.7 258.6h0.9v0.9h-0.9zM90.2 255.4h0.9v0.9h-0.9zM89.5 250.8h0.9v0.9h-0.9zM80.8 255.8h0.9v0.9h-0.9zM88.7 250.2h0.9v0.9h-0.9zM90.3 251.8h0.9v0.9h-0.9zM91.9 249.9h0.9v0.9h-0.9zM88.3 242.1h0.9v0.9h-0.9zM86.4 254.5h0.9v0.9h-0.9zM95.2 249.9h0.9v0.9h-0.9zM87.9 258.5h0.9v0.9h-0.9zM86.9 254.7h0.9v0.9h-0.9zM96.9 251.7h0.9v0.9h-0.9zM94.6 248.4h0.9v0.9h-0.9zM89.5 251.2h0.9v0.9h-0.9zM89.1 256.5h0.9v0.9h-0.9zM100.4 248.6h0.9v0.9h-0.9zM85.6 253.7h0.9v0.9h-0.9zM83.2 253.7h0.9v0.9h-0.9zM91.4 250.3h0.9v0.9h-0.9zM91.2 244.7h0.9v0.9h-0.9zM92.3 244.7h0.9v0.9h-0.9zM85.0 249.1h0.9v0.9h-0.9zM86.5 255.3h0.9v0.9h-0.9zM88.9 249.8h0.9v0.9h-0.9zM91.2 258.5h0.9v0.9h-0.9zM88.5 253.1h0.9v0.9h-0.9zM94.7 252.7h0.9v0.9h-0.9zM99.5 242.8h0.9v0.9h-0.9zM88.3 253.3h0.9v0.9h-0.9zM93.3 254.4h0.9v0.9h-0.9zM87.1 246.9h0.9v0.9h-0.9zM89.0 256.0h0.9v0.9h-0.9zM83.1 247.0h0.9v0.9h-0.9zM88.4 243.0h0.9v0.9h-0.9zM87.2 249.6h0.9v0.9h-0.9zM90.8 248.4h0.9v0.9h-0.9zM84.1 249.8h0.9v0.9h-0.9zM88.3 248.6h0.9v0.9h-0.9zM88.6 254.8h0.9v0.9h-0.9zM84.6 249.7h0.9v0.9h-0.9zM84.9 251.4h0.9v0.9h-0.9zM91.1 245.5h0.9v0.9h-0.9zM90.8 251.4h0.9v0.9h-0.9zM79.4 252.8h0.9v0.9h-0.9zM94.5 243.3h0.9v0.9h-0.9zM92.5 252.4h0.9v0.9h-0.9zM90.9 253.4h0.9v0.9h-0.9zM95.0 250.5h0.9v0.9h-0.9zM92.9 249.7h0.9v0.9h-0.9zM92.1 247.9h0.9v0.9h-0.9zM90.7 250.8h0.9v0.9h-0.9zM82.8 248.0h0.9v0.9h-0.9zM89.5 255.6h0.9v0.9h-0.9zM90.6 253.8h0.9v0.9h-0.9zM88.3 257.4h0.9v0.9h-0.9zM86.5 249.1h0.9v0.9h-0.9zM92.9 251.8h0.9v0.9h-0.9zM87.1 249.0h0.9v0.9h-0.9zM87.2 254.2h0.9v0.9h-0.9zM90.3 246.2h0.9v0.9h-0.9zM90.6 252.3h0.9v0.9h-0.9zM83.5 254.9h0.9v0.9h-0.9zM87.1 250.0h0.9v0.9h-0.9zM92.5 257.3h0.9v0.9h-0.9zM85.1 253.4h0.9v0.9h-0.9zM86.0 256.8h0.9v0.9h-0.9zM85.3 255.1h0.9v0.9h-0.9zM99.6 240.3h0.9v0.9h-0.9zM86.3 253.7h0.9v0.9h-0.9zM88.0 248.6h0.9v0.9h-0.9zM99.3 251.8h0.9v0.9h-0.9zM80.3 255.3h0.9v0.9h-0.9zM79.9 256.6h0.9v0.9h-0.9zM85.6 252.1h0.9v0.9h-0.9zM94.8 252.0h0.9v0.9h-0.9zM81.5 244.0h0.9v0.9h-0.9zM94.4 254.8h0.9v0.9h-0.9zM84.4 255.3h0.9v0.9h-0.9zM91.0 254.3h0.9v0.9h-0.9zM77.2 250.2h0.9v0.9h-0.9zM93.0 254.7h0.9v0.9h-0.9zM92.9 240.7h0.9v0.9h-0.9zM89.3 253.7h0.9v0.9h-0.9zM101.3 247.3h0.9v0.9h-0.9zM86.9 251.7h0.9v0.9h-0.9zM92.9 249.5h0.9v0.9h-0.9zM94.2 248.0h0.9v0.9h-0.9zM89.8 249.2h0.9v0.9h-0.9zM89.3 248.5h0.9v0.9h-0.9zM80.5 256.3h0.9v0.9h-0.9zM90.0 249.0h0.9v0.9h-0.9zM89.5 255.9h0.9v0.9h-0.9zM83.6 251.0h0.9v0.9h-0.9zM91.2 253.8h0.9v0.9h-0.9zM86.8 242.2h0.9v0.9h-0.9zM94.7 252.9h0.9v0.9h-0.9zM88.6 250.3h0.9v0.9h-0.9zM89.8 249.6h0.9v0.9h-0.9zM83.4 248.2h0.9v0.9h-0.9zM85.5 248.8h0.9v0.9h-0.9zM82.7 254.3h0.9v0.9h-0.9zM82.0 254.4h0.9v0.9h-0.9zM83.4 253.1h0.9v0.9h-0.9zM95.4 252.4h0.9v0.9h-0.9zM84.8 251.7h0.9v0.9h-0.9zM89.2 243.9h0.9v0.9h-0.9zM85.5 252.2h0.9v0.9h-0.9zM86.2 251.9h0.9v0.9h-0.9zM92.2 254.9h0.9v0.9h-0.9zM93.0 254.1h0.9v0.9h-0.9zM87.1 251.4h0.9v0.9h-0.9zM87.1 250.1h0.9v0.9h-0.9zM87.6 243.9h0.9v0.9h-0.9zM86.8 251.4h0.9v0.9h-0.9zM83.6 251.4h0.9v0.9h-0.9zM91.1 250.8h0.9v0.9h-0.9zM98.9 240.0h0.9v0.9h-0.9zM87.5 243.5h0.9v0.9h-0.9zM76.0 252.1h0.9v0.9h-0.9zM91.1 250.2h0.9v0.9h-0.9zM91.3 241.6h0.9v0.9h-0.9zM92.8 253.1h0.9v0.9h-0.9zM88.6 248.9h0.9v0.9h-0.9zM91.7 249.4h0.9v0.9h-0.9zM89.6 249.3h0.9v0.9h-0.9zM77.3 251.4h0.9v0.9h-0.9zM89.5 254.8h0.9v0.9h-0.9zM84.1 251.4h0.9v0.9h-0.9zM91.6 252.1h0.9v0.9h-0.9zM84.0 243.0h0.9v0.9h-0.9zM92.8 258.2h0.9v0.9h-0.9zM93.1 255.1h0.9v0.9h-0.9zM85.4 248.4h0.9v0.9h-0.9zM92.9 247.5h0.9v0.9h-0.9zM79.4 247.1h0.9v0.9h-0.9zM85.1 248.3h0.9v0.9h-0.9zM89.7 248.2h0.9v0.9h-0.9zM95.1 251.2h0.9v0.9h-0.9zM83.1 257.3h0.9v0.9h-0.9zM85.6 252.5h0.9v0.9h-0.9zM88.4 250.1h0.9v0.9h-0.9zM90.1 248.5h0.9v0.9h-0.9zM79.3 241.8h0.9v0.9h-0.9zM82.2 248.2h0.9v0.9h-0.9zM88.4 251.7h0.9v0.9h-0.9zM91.3 252.0h0.9v0.9h-0.9zM84.5 248.4h0.9v0.9h-0.9zM77.9 250.8h0.9v0.9h-0.9zM90.9 253.8h0.9v0.9h-0.9zM87.9 250.7h0.9v0.9h-0.9zM93.2 251.6h0.9v0.9h-0.9zM92.2 254.1h0.9v0.9h-0.9zM89.6 257.2h0.9v0.9h-0.9zM85.6 249.9h0.9v0.9h-0.9zM84.5 248.0h0.9v0.9h-0.9zM88.6 254.0h0.9v0.9h-0.9zM94.4 255.1h0.9v0.9h-0.9zM94.5 245.9h0.9v0.9h-0.9zM85.3 253.5h0.9v0.9h-0.9zM95.7 252.0h0.9v0.9h-0.9zM84.2 249.9h0.9v0.9h-0.9zM85.2 247.7h0.9v0.9h-0.9zM96.0 248.7h0.9v0.9h-0.9zM94.4 253.0h0.9v0.9h-0.9zM85.4 253.3h0.9v0.9h-0.9zM96.6 254.2h0.9v0.9h-0.9zM94.8 251.9h0.9v0.9h-0.9zM91.1 250.6h0.9v0.9h-0.9zM90.6 257.2h0.9v0.9h-0.9zM81.3 251.2h0.9v0.9h-0.9zM89.7 249.0h0.9v0.9h-0.9zM87.0 255.0h0.9v0.9h-0.9zM98.5 254.3h0.9v0.9h-0.9zM90.1 244.7h0.9v0.9h-0.9zM98.1 251.8h0.9v0.9h-0.9zM88.3 246.6h0.9v0.9h-0.9zM88.2 246.7h0.9v0.9h-0.9zM88.9 253.6h0.9v0.9h-0.9zM88.7 252.7h0.9v0.9h-0.9zM84.2 257.8h0.9v0.9h-0.9zM85.2 243.5h0.9v0.9h-0.9zM87.6 248.1h0.9v0.9h-0.9zM83.5 249.9h0.9v0.9h-0.9zM90.0 246.3h0.9v0.9h-0.9zM87.8 257.8h0.9v0.9h-0.9zM91.9 250.8h0.9v0.9h-0.9zM89.1 251.0h0.9v0.9h-0.9zM88.3 254.7h0.9v0.9h-0.9zM88.0 240.9h0.9v0.9h-0.9zM88.4 247.6h0.9v0.9h-0.9zM91.8 248.8h0.9v0.9h-0.9zM83.3 246.6h0.9v0.9h-0.9zM81.4 241.0h0.9v0.9h-0.9zM79.1 253.1h0.9v0.9h-0.9zM85.3 243.3h0.9v0.9h-0.9zM81.1 254.2h0.9v0.9h-0.9zM84.6 249.9h0.9v0.9h-0.9zM90.2 257.5h0.9v0.9h-0.9zM98.2 256.0h0.9v0.9h-0.9zM89.2 252.3h0.9v0.9h-0.9zM97.5 257.8h0.9v0.9h-0.9zM86.9 253.5h0.9v0.9h-0.9zM89.9 251.7h0.9v0.9h-0.9zM86.0 245.7h0.9v0.9h-0.9zM85.8 244.7h0.9v0.9h-0.9zM94.6 253.9h0.9v0.9h-0.9zM82.5 257.6h0.9v0.9h-0.9zM93.0 243.1h0.9v0.9h-0.9zM97.7 255.1h0.9v0.9h-0.9zM98.8 246.1h0.9v0.9h-0.9zM91.2 253.4h0.9v0.9h-0.9zM89.5 252.3h0.9v0.9h-0.9zM93.8 244.9h0.9v0.9h-0.9zM82.3 245.4h0.9v0.9h-0.9zM85.7 248.8h0.9v0.9h-0.9zM90.3 252.7h0.9v0.9h-0.9zM88.7 248.5h0.9v0.9h-0.9zM86.3 255.7h0.9v0.9h-0.9zM92.3 251.9h0.9v0.9h-0.9zM86.9 258.3h0.9v0.9h-0.9zM85.5 254.4h0.9v0.9h-0.9zM94.3 250.3h0.9v0.9h-0.9zM92.6 246.6h0.9v0.9h-0.9zM93.6 252.4h0.9v0.9h-0.9zM80.6 254.4h0.9v0.9h-0.9zM84.0 257.1h0.9v0.9h-0.9zM85.1 250.8h0.9v0.9h-0.9zM89.9 250.0h0.9v0.9h-0.9zM89.8 249.1h0.9v0.9h-0.9zM91.9 251.5h0.9v0.9h-0.9zM89.6 239.4h0.9v0.9h-0.9zM94.3 251.6h0.9v0.9h-0.9zM79.6 251.9h0.9v0.9h-0.9zM90.8 256.2h0.9v0.9h-0.9zM83.1 258.3h0.9v0.9h-0.9zM87.8 254.5h0.9v0.9h-0.9zM86.7 246.6h0.9v0.9h-0.9zM94.0 255.5h0.9v0.9h-0.9zM96.2 255.3h0.9v0.9h-0.9zM85.6 244.2h0.9v0.9h-0.9zM85.2 248.5h0.9v0.9h-0.9zM84.4 254.1h0.9v0.9h-0.9zM90.1 250.3h0.9v0.9h-0.9zM89.4 250.9h0.9v0.9h-0.9zM89.6 254.8h0.9v0.9h-0.9zM93.3 248.5h0.9v0.9h-0.9zM81.0 257.8h0.9v0.9h-0.9zM89.1 256.4h0.9v0.9h-0.9zM80.3 250.0h0.9v0.9h-0.9zM88.6 245.2h0.9v0.9h-0.9zM85.9 254.7h0.9v0.9h-0.9zM93.9 258.5h0.9v0.9h-0.9zM84.2 245.3h0.9v0.9h-0.9zM91.1 255.6h0.9v0.9h-0.9zM89.5 245.8h0.9v0.9h-0.9zM92.4 255.0h0.9v0.9h-0.9zM91.3 249.4h0.9v0.9h-0.9zM90.0 255.0h0.9v0.9h-0.9zM85.7 243.4h0.9v0.9h-0.9zM90.1 253.6h0.9v0.9h-0.9zM88.6 255.4h0.9v0.9h-0.9zM85.6 251.1h0.9v0.9h-0.9zM87.0 254.0h0.9v0.9h-0.9zM96.5 250.4h0.9v0.9h-0.9zM98.8 258.2h0.9v0.9h-0.9zM92.5 254.1h0.9v0.9h-0.9zM97.4 250.7h0.9v0.9h-0.9zM87.9 246.8h0.9v0.9h-0.9zM90.9 257.4h0.9v0.9h-0.9zM91.2 253.4h0.9v0.9h-0.9zM87.5 252.2h0.9v0.9h-0.9zM81.4 256.1h0.9v0.9h-0.9zM86.5 246.6h0.9v0.9h-0.9zM84.7 247.9h0.9v0.9h-0.9zM92.8 256.2h0.9v0.9h-0.9zM81.7 255.6h0.9v0.9h-0.9zM92.9 249.0h0.9v0.9h-0.9zM81.1 248.2h0.9v0.9h-0.9zM85.3 253.0h0.9v0.9h-0.9zM86.7 242.6h0.9v0.9h-0.9zM89.7 244.7h0.9v0.9h-0.9zM93.0 246.2h0.9v0.9h-0.9zM85.0 247.7h0.9v0.9h-0.9zM85.8 257.2h0.9v0.9h-0.9zM92.8 254.1h0.9v0.9h-0.9zM90.1 244.7h0.9v0.9h-0.9zM85.9 249.1h0.9v0.9h-0.9zM83.6 253.7h0.9v0.9h-0.9zM84.8 248.4h0.9v0.9h-0.9zM83.3 242.4h0.9v0.9h-0.9zM91.5 257.4h0.9v0.9h-0.9zM89.4 247.2h0.9v0.9h-0.9zM75.0 252.3h0.9v0.9h-0.9zM94.6 252.8h0.9v0.9h-0.9zM93.1 258.0h0.9v0.9h-0.9zM94.1 249.6h0.9v0.9h-0.9zM93.8 254.9h0.9v0.9h-0.9zM80.8 249.7h0.9v0.9h-0.9zM81.4 251.0h0.9v0.9h-0.9zM91.4 246.8h0.9v0.9h-0.9zM78.2 257.2h0.9v0.9h-0.9zM90.4 258.0h0.9v0.9h-0.9zM81.9 256.2h0.9v0.9h-0.9zM87.4 252.7h0.9v0.9h-0.9zM87.7 255.9h0.9v0.9h-0.9zM93.7 251.9h0.9v0.9h-0.9zM81.7 254.8h0.9v0.9h-0.9zM86.2 254.3h0.9v0.9h-0.9zM89.8 258.6h0.9v0.9h-0.9zM94.2 249.5h0.9v0.9h-0.9zM85.8 253.4h0.9v0.9h-0.9zM94.5 257.0h0.9v0.9h-0.9zM91.1 245.7h0.9v0.9h-0.9zM82.2 252.6h0.9v0.9h-0.9zM84.2 256.5h0.9v0.9h-0.9zM92.4 244.1h0.9v0.9h-0.9zM84.4 252.2h0.9v0.9h-0.9zM86.0 250.8h0.9v0.9h-0.9zM90.9 247.9h0.9v0.9h-0.9zM90.8 248.7h0.9v0.9h-0.9zM85.8 253.9h0.9v0.9h-0.9zM85.6 252.8h0.9v0.9h-0.9zM96.5 251.6h0.9v0.9h-0.9zM87.8 254.7h0.9v0.9h-0.9zM86.7 256.3h0.9v0.9h-0.9zM82.1 254.2h0.9v0.9h-0.9zM85.9 248.0h0.9v0.9h-0.9zM97.3 247.8h0.9v0.9h-0.9zM97.3 254.4h0.9v0.9h-0.9zM95.8 247.2h0.9v0.9h-0.9zM94.5 257.9h0.9v0.9h-0.9zM87.9 250.9h0.9v0.9h-0.9zM100.8 252.3h0.9v0.9h-0.9zM86.4 248.7h0.9v0.9h-0.9zM90.7 253.0h0.9v0.9h-0.9zM86.9 253.6h0.9v0.9h-0.9zM95.8 247.1h0.9v0.9h-0.9zM81.7 246.7h0.9v0.9h-0.9zM83.3 243.4h0.9v0.9h-0.9zM90.8 243.3h0.9v0.9h-0.9zM91.0 257.9h0.9v0.9h-0.9zM80.4 250.1h0.9v0.9h-0.9zM78.9 254.9h0.9v0.9h-0.9zM84.8 250.3h0.9v0.9h-0.9zM88.8 253.9h0.9v0.9h-0.9zM86.8 251.6h0.9v0.9h-0.9zM85.8 252.0h0.9v0.9h-0.9zM82.6 251.8h0.9v0.9h-0.9zM78.8 249.3h0.9v0.9h-0.9zM98.1 251.9h0.9v0.9h-0.9zM82.2 252.6h0.9v0.9h-0.9zM83.6 244.2h0.9v0.9h-0.9zM84.8 254.7h0.9v0.9h-0.9zM90.4 251.1h0.9v0.9h-0.9zM83.9 246.8h0.9v0.9h-0.9zM95.2 252.6h0.9v0.9h-0.9zM83.7 242.2h0.9v0.9h-0.9zM82.8 251.2h0.9v0.9h-0.9zM89.6 250.8h0.9v0.9h-0.9zM87.1 245.5h0.9v0.9h-0.9zM84.7 255.2h0.9v0.9h-0.9zM80.0 250.3h0.9v0.9h-0.9zM89.8 256.1h0.9v0.9h-0.9zM82.9 254.1h0.9v0.9h-0.9zM90.4 248.3h0.9v0.9h-0.9zM90.9 247.5h0.9v0.9h-0.9zM84.5 251.4h0.9v0.9h-0.9zM74.9 251.0h0.9v0.9h-0.9zM83.5 245.1h0.9v0.9h-0.9zM86.4 254.9h0.9v0.9h-0.9zM86.5 257.1h0.9v0.9h-0.9zM82.7 245.7h0.9v0.9h-0.9zM96.3 253.3h0.9v0.9h-0.9zM93.2 247.9h0.9v0.9h-0.9zM92.5 252.6h0.9v0.9h-0.9zM91.7 251.6h0.9v0.9h-0.9zM94.5 248.6h0.9v0.9h-0.9zM83.7 245.0h0.9v0.9h-0.9zM94.3 248.3h0.9v0.9h-0.9zM83.3 247.4h0.9v0.9h-0.9zM86.3 245.9h0.9v0.9h-0.9zM87.0 248.7h0.9v0.9h-0.9zM85.7 247.3h0.9v0.9h-0.9zM88.7 249.5h0.9v0.9h-0.9zM89.1 252.6h0.9v0.9h-0.9zM90.2 241.9h0.9v0.9h-0.9zM85.8 248.0h0.9v0.9h-0.9zM92.4 244.6h0.9v0.9h-0.9zM84.9 250.2h0.9v0.9h-0.9zM86.8 255.9h0.9v0.9h-0.9zM86.3 255.7h0.9v0.9h-0.9zM81.2 243.5h0.9v0.9h-0.9zM94.6 253.4h0.9v0.9h-0.9zM90.9 252.0h0.9v0.9h-0.9zM90.9 246.2h0.9v0.9h-0.9zM93.2 249.2h0.9v0.9h-0.9zM93.4 251.9h0.9v0.9h-0.9zM78.6 245.8h0.9v0.9h-0.9zM94.1 250.9h0.9v0.9h-0.9zM86.5 252.6h0.9v0.9h-0.9zM86.4 249.1h0.9v0.9h-0.9zM89.0 252.1h0.9v0.9h-0.9zM96.1 251.7h0.9v0.9h-0.9zM97.1 256.2h0.9v0.9h-0.9zM89.2 252.1h0.9v0.9h-0.9zM87.8 248.3h0.9v0.9h-0.9zM88.2 248.7h0.9v0.9h-0.9zM96.7 253.9h0.9v0.9h-0.9zM86.3 243.1h0.9v0.9h-0.9zM88.2 249.7h0.9v0.9h-0.9zM83.1 246.5h0.9v0.9h-0.9zM77.2 254.0h0.9v0.9h-0.9zM88.3 250.8h0.9v0.9h-0.9zM95.7 252.1h0.9v0.9h-0.9zM89.3 249.9h0.9v0.9h-0.9zM85.5 258.1h0.9v0.9h-0.9zM86.8 251.6h0.9v0.9h-0.9zM84.1 255.8h0.9v0.9h-0.9zM81.5 254.0h0.9v0.9h-0.9zM94.0 257.7h0.9v0.9h-0.9zM83.8 256.3h0.9v0.9h-0.9zM84.9 248.2h0.9v0.9h-0.9zM81.9 256.6h0.9v0.9h-0.9zM96.7 248.9h0.9v0.9h-0.9zM84.7 250.0h0.9v0.9h-0.9zM101.0 255.9h0.9v0.9h-0.9zM85.8 243.6h0.9v0.9h-0.9zM85.1 256.7h0.9v0.9h-0.9zM97.8 250.3h0.9v0.9h-0.9zM85.0 249.3h0.9v0.9h-0.9zM79.1 255.5h0.9v0.9h-0.9zM83.1 256.2h0.9v0.9h-0.9zM80.0 245.9h0.9v0.9h-0.9zM89.9 248.1h0.9v0.9h-0.9zM92.4 251.5h0.9v0.9h-0.9zM82.6 254.2h0.9v0.9h-0.9zM92.7 243.1h0.9v0.9h-0.9zM97.6 253.7h0.9v0.9h-0.9zM92.3 243.3h0.9v0.9h-0.9zM84.9 250.0h0.9v0.9h-0.9zM93.9 245.1h0.9v0.9h-0.9zM84.1 242.6h0.9v0.9h-0.9zM87.3 253.0h0.9v0.9h-0.9zM80.1 248.9h0.9v0.9h-0.9zM91.1 258.5h0.9v0.9h-0.9zM91.8 250.2h0.9v0.9h-0.9zM82.6 247.4h0.9v0.9h-0.9zM85.2 252.1h0.9v0.9h-0.9zM88.3 258.8h0.9v0.9h-0.9zM89.9 246.8h0.9v0.9h-0.9zM96.2 255.7h0.9v0.9h-0.9zM89.0 248.3h0.9v0.9h-0.9zM79.1 247.0h0.9v0.9h-0.9zM93.1 248.0h0.9v0.9h-0.9zM81.9 252.4h0.9v0.9h-0.9zM89.7 254.2h0.9v0.9h-0.9zM91.8 257.7h0.9v0.9h-0.9zM84.3 255.8h0.9v0.9h-0.9zM83.6 254.6h0.9v0.9h-0.9zM89.4 252.6h0.9v0.9h-0.9zM93.3 251.4h0.9v0.9h-0.9zM94.1 255.4h0.9v0.9h-0.9zM89.2 249.0h0.9v0.9h-0.9zM84.7 249.2h0.9v0.9h-0.9zM87.5 251.4h0.9v0.9h-0.9zM103.4 254.3h0.9v0.9h-0.9zM92.3 247.7h0.9v0.9h-0.9zM84.9 250.1h0.9v0.9h-0.9zM89.5 246.9h0.9v0.9h-0.9zM96.6 249.0h0.9v0.9h-0.9zM93.9 241.2h0.9v0.9h-0.9zM88.5 252.7h0.9v0.9h-0.9zM89.5 254.1h0.9v0.9h-0.9zM89.9 252.2h0.9v0.9h-0.9zM79.0 248.4h0.9v0.9h-0.9zM76.8 254.3h0.9v0.9h-0.9zM90.0 250.6h0.9v0.9h-0.9zM84.4 248.9h0.9v0.9h-0.9zM88.2 257.2h0.9v0.9h-0.9zM80.6 243.0h0.9v0.9h-0.9zM86.1 247.7h0.9v0.9h-0.9zM85.7 252.3h0.9v0.9h-0.9zM103.6 248.6h0.9v0.9h-0.9zM88.7 252.7h0.9v0.9h-0.9zM88.3 255.6h0.9v0.9h-0.9zM97.4 246.0h0.9v0.9h-0.9zM89.3 250.3h0.9v0.9h-0.9zM90.3 244.8h0.9v0.9h-0.9zM79.7 241.3h0.9v0.9h-0.9zM91.1 252.3h0.9v0.9h-0.9zM88.9 241.1h0.9v0.9h-0.9zM86.6 248.2h0.9v0.9h-0.9zM81.4 247.5h0.9v0.9h-0.9zM92.0 253.9h0.9v0.9h-0.9zM88.4 253.8h0.9v0.9h-0.9zM85.5 251.8h0.9v0.9h-0.9zM88.7 253.9h0.9v0.9h-0.9zM88.2 250.9h0.9v0.9h-0.9zM87.8 248.7h0.9v0.9h-0.9zM99.7 253.8h0.9v0.9h-0.9zM95.5 244.7h0.9v0.9h-0.9zM92.0 255.2h0.9v0.9h-0.9zM97.9 257.3h0.9v0.9h-0.9zM92.4 246.3h0.9v0.9h-0.9zM84.1 252.7h0.9v0.9h-0.9zM91.0 247.0h0.9v0.9h-0.9zM86.6 249.7h0.9v0.9h-0.9zM88.8 253.0h0.9v0.9h-0.9zM87.1 246.1h0.9v0.9h-0.9zM94.7 258.5h0.9v0.9h-0.9zM88.0 256.0h0.9v0.9h-0.9zM90.7 254.4h0.9v0.9h-0.9zM90.9 248.1h0.9v0.9h-0.9zM91.4 255.9h0.9v0.9h-0.9zM98.4 254.8h0.9v0.9h-0.9zM86.8 248.9h0.9v0.9h-0.9zM84.4 252.0h0.9v0.9h-0.9zM88.3 254.4h0.9v0.9h-0.9zM99.9 251.4h0.9v0.9h-0.9zM91.9 253.6h0.9v0.9h-0.9zM89.9 250.6h0.9v0.9h-0.9zM87.9 247.9h0.9v0.9h-0.9zM89.4 251.4h0.9v0.9h-0.9zM90.1 247.7h0.9v0.9h-0.9zM88.7 251.7h0.9v0.9h-0.9zM91.5 246.8h0.9v0.9h-0.9zM90.6 255.8h0.9v0.9h-0.9zM91.5 249.9h0.9v0.9h-0.9zM86.0 250.5h0.9v0.9h-0.9zM92.1 258.3h0.9v0.9h-0.9zM87.7 248.7h0.9v0.9h-0.9zM90.4 252.4h0.9v0.9h-0.9zM84.0 248.3h0.9v0.9h-0.9zM88.0 254.5h0.9v0.9h-0.9zM82.5 247.0h0.9v0.9h-0.9zM91.0 246.1h0.9v0.9h-0.9zM89.0 253.0h0.9v0.9h-0.9zM87.9 247.0h0.9v0.9h-0.9zM88.2 250.0h0.9v0.9h-0.9zM90.2 247.8h0.9v0.9h-0.9zM94.0 244.1h0.9v0.9h-0.9zM87.6 251.5h0.9v0.9h-0.9zM93.3 248.8h0.9v0.9h-0.9zM91.2 249.0h0.9v0.9h-0.9zM86.5 253.4h0.9v0.9h-0.9zM83.9 255.8h0.9v0.9h-0.9zM94.6 251.7h0.9v0.9h-0.9zM82.8 253.3h0.9v0.9h-0.9zM94.2 256.3h0.9v0.9h-0.9zM92.6 243.4h0.9v0.9h-0.9zM85.1 257.8h0.9v0.9h-0.9zM82.4 256.5h0.9v0.9h-0.9zM97.9 254.9h0.9v0.9h-0.9zM94.1 250.0h0.9v0.9h-0.9zM82.4 251.0h0.9v0.9h-0.9zM87.5 251.3h0.9v0.9h-0.9zM92.0 250.9h0.9v0.9h-0.9zM89.5 253.4h0.9v0.9h-0.9zM90.7 251.9h0.9v0.9h-0.9zM87.5 248.7h0.9v0.9h-0.9zM95.2 252.2h0.9v0.9h-0.9zM83.1 249.0h0.9v0.9h-0.9zM87.8 249.5h0.9v0.9h-0.9zM93.9 246.4h0.9v0.9h-0.9zM91.0 252.1h0.9v0.9h-0.9zM82.6 251.7h0.9v0.9h-0.9zM88.0 253.7h0.9v0.9h-0.9zM86.2 252.8h0.9v0.9h-0.9zM80.2 246.7h0.9v0.9h-0.9zM92.4 256.1h0.9v0.9h-0.9zM88.4 248.9h0.9v0.9h-0.9zM93.9 242.3h0.9v0.9h-0.9zM84.5 254.5h0.9v0.9h-0.9zM91.8 247.0h0.9v0.9h-0.9zM79.1 257.9h0.9v0.9h-0.9zM89.3 247.6h0.9v0.9h-0.9zM88.8 255.5h0.9v0.9h-0.9zM75.5 256.4h0.9v0.9h-0.9zM92.2 242.3h0.9v0.9h-0.9zM92.4 243.7h0.9v0.9h-0.9zM94.2 253.3h0.9v0.9h-0.9zM99.8 248.8h0.9v0.9h-0.9zM88.5 256.1h0.9v0.9h-0.9zM85.3 248.4h0.9v0.9h-0.9zM86.6 251.2h0.9v0.9h-0.9zM83.1 253.6h0.9v0.9h-0.9zM91.2 251.8h0.9v0.9h-0.9zM97.0 250.1h0.9v0.9h-0.9zM95.0 249.1h0.9v0.9h-0.9zM92.3 243.0h0.9v0.9h-0.9zM89.5 250.7h0.9v0.9h-0.9zM86.0 248.8h0.9v0.9h-0.9zM86.8 248.3h0.9v0.9h-0.9zM77.5 248.9h0.9v0.9h-0.9zM85.8 249.2h0.9v0.9h-0.9zM83.2 250.9h0.9v0.9h-0.9zM92.4 250.4h0.9v0.9h-0.9zM86.0 257.5h0.9v0.9h-0.9zM93.4 255.6h0.9v0.9h-0.9zM94.3 250.1h0.9v0.9h-0.9zM87.9 256.4h0.9v0.9h-0.9zM85.7 251.0h0.9v0.9h-0.9zM90.4 253.1h0.9v0.9h-0.9zM87.1 255.8h0.9v0.9h-0.9zM87.6 254.7h0.9v0.9h-0.9zM93.9 254.4h0.9v0.9h-0.9zM92.2 246.4h0.9v0.9h-0.9zM81.9 248.8h0.9v0.9h-0.9zM90.9 258.1h0.9v0.9h-0.9zM82.4 252.8h0.9v0.9h-0.9zM84.2 248.3h0.9v0.9h-0.9zM87.1 254.5h0.9v0.9h-0.9zM89.6 256.7h0.9v0.9h-0.9zM83.6 255.4h0.9v0.9h-0.9zM93.2 251.8h0.9v0.9h-0.9zM90.9 249.0h0.9v0.9h-0.9zM83.1 249.7h0.9v0.9h-0.9zM86.1 258.8h0.9v0.9h-0.9zM89.5 252.9h0.9v0.9h-0.9zM92.2 248.1h0.9v0.9h-0.9zM93.1 253.2h0.9v0.9h-0.9zM80.9 254.1h0.9v0.9h-0.9zM91.3 253.5h0.9v0.9h-0.9zM96.4 249.7h0.9v0.9h-0.9zM91.1 254.8h0.9v0.9h-0.9zM84.0 256.8h0.9v0.9h-0.9zM81.2 245.8h0.9v0.9h-0.9zM91.1 246.7h0.9v0.9h-0.9zM87.9 244.3h0.9v0.9h-0.9zM88.8 246.5h0.9v0.9h-0.9zM90.2 244.8h0.9v0.9h-0.9zM90.7 250.3h0.9v0.9h-0.9zM88.8 251.2h0.9v0.9h-0.9zM89.2 245.7h0.9v0.9h-0.9zM75.7 251.7h0.9v0.9h-0.9zM83.8 249.5h0.9v0.9h-0.9zM90.6 242.8h0.9v0.9h-0.9zM84.7 248.8h0.9v0.9h-0.9zM83.2 252.9h0.9v0.9h-0.9zM87.8 247.9h0.9v0.9h-0.9zM83.6 255.1h0.9v0.9h-0.9zM85.2 254.1h0.9v0.9h-0.9zM90.7 243.2h0.9v0.9h-0.9zM83.1 251.5h0.9v0.9h-0.9zM90.2 254.9h0.9v0.9h-0.9zM92.5 256.1h0.9v0.9h-0.9zM86.6 250.6h0.9v0.9h-0.9zM92.4 249.6h0.9v0.9h-0.9zM93.8 244.5h0.9v0.9h-0.9zM91.8 250.7h0.9v0.9h-0.9zM78.7 255.8h0.9v0.9h-0.9zM90.1 251.6h0.9v0.9h-0.9zM83.1 249.5h0.9v0.9h-0.9zM96.1 247.9h0.9v0.9h-0.9zM71.1 247.7h0.9v0.9h-0.9zM82.5 250.9h0.9v0.9h-0.9zM86.5 247.5h0.9v0.9h-0.9zM84.3 256.1h0.9v0.9h-0.9zM85.8 246.7h0.9v0.9h-0.9zM92.4 254.0h0.9v0.9h-0.9zM83.3 254.8h0.9v0.9h-0.9zM79.3 247.4h0.9v0.9h-0.9zM94.1 250.4h0.9v0.9h-0.9zM82.0 253.8h0.9v0.9h-0.9zM93.1 251.4h0.9v0.9h-0.9zM79.5 250.0h0.9v0.9h-0.9zM90.6 254.9h0.9v0.9h-0.9zM97.8 250.4h0.9v0.9h-0.9zM86.1 251.3h0.9v0.9h-0.9zM94.5 247.4h0.9v0.9h-0.9zM95.0 239.4h0.9v0.9h-0.9zM92.5 248.5h0.9v0.9h-0.9zM90.8 254.5h0.9v0.9h-0.9zM82.6 251.1h0.9v0.9h-0.9zM89.7 254.1h0.9v0.9h-0.9zM83.8 247.1h0.9v0.9h-0.9zM87.5 250.5h0.9v0.9h-0.9zM81.0 255.6h0.9v0.9h-0.9zM85.8 257.8h0.9v0.9h-0.9zM92.8 251.6h0.9v0.9h-0.9zM92.1 246.6h0.9v0.9h-0.9zM86.9 249.0h0.9v0.9h-0.9zM82.2 251.6h0.9v0.9h-0.9zM87.8 257.8h0.9v0.9h-0.9zM71.7 248.5h0.9v0.9h-0.9zM83.9 249.5h0.9v0.9h-0.9zM90.6 253.3h0.9v0.9h-0.9zM88.6 249.4h0.9v0.9h-0.9zM91.0 253.1h0.9v0.9h-0.9zM79.3 250.3h0.9v0.9h-0.9zM81.6 246.3h0.9v0.9h-0.9zM89.2 251.8h0.9v0.9h-0.9zM89.1 247.6h0.9v0.9h-0.9zM87.5 247.5h0.9v0.9h-0.9zM90.4 254.5h0.9v0.9h-0.9zM97.3 257.1h0.9v0.9h-0.9zM84.5 249.5h0.9v0.9h-0.9zM83.8 252.8h0.9v0.9h-0.9zM98.4 254.6h0.9v0.9h-0.9zM77.5 246.0h0.9v0.9h-0.9zM82.0 253.8h0.9v0.9h-0.9zM88.5 252.8h0.9v0.9h-0.9zM97.4 247.9h0.9v0.9h-0.9zM90.2 248.1h0.9v0.9h-0.9zM78.4 244.8h0.9v0.9h-0.9zM76.3 251.8h0.9v0.9h-0.9zM88.7 255.9h0.9v0.9h-0.9zM87.8 248.4h0.9v0.9h-0.9zM79.7 252.3h0.9v0.9h-0.9zM88.6 254.2h0.9v0.9h-0.9zM86.5 253.7h0.9v0.9h-0.9zM92.6 250.9h0.9v0.9h-0.9zM86.2 250.7h0.9v0.9h-0.9zM83.7 250.6h0.9v0.9h-0.9zM87.0 252.4h0.9v0.9h-0.9zM95.2 257.3h0.9v0.9h-0.9zM86.3 254.2h0.9v0.9h-0.9zM90.0 254.9h0.9v0.9h-0.9zM88.6 252.7h0.9v0.9h-0.9zM86.2 248.0h0.9v0.9h-0.9zM92.9 257.2h0.9v0.9h-0.9zM91.8 253.4h0.9v0.9h-0.9zM89.8 249.5h0.9v0.9h-0.9zM79.6 254.4h0.9v0.9h-0.9zM89.5 249.1h0.9v0.9h-0.9zM83.7 257.1h0.9v0.9h-0.9zM84.9 251.4h0.9v0.9h-0.9zM86.0 252.2h0.9v0.9h-0.9zM87.5 248.2h0.9v0.9h-0.9zM93.9 248.0h0.9v0.9h-0.9zM86.0 253.9h0.9v0.9h-0.9zM85.8 249.6h0.9v0.9h-0.9zM90.3 249.9h0.9v0.9h-0.9zM82.3 251.1h0.9v0.9h-0.9zM83.0 255.8h0.9v0.9h-0.9zM84.6 249.9h0.9v0.9h-0.9zM86.9 252.7h0.9v0.9h-0.9zM85.3 257.4h0.9v0.9h-0.9zM93.5 255.1h0.9v0.9h-0.9zM84.7 255.5h0.9v0.9h-0.9zM88.0 253.1h0.9v0.9h-0.9zM87.2 254.4h0.9v0.9h-0.9zM94.1 256.5h0.9v0.9h-0.9zM87.5 255.9h0.9v0.9h-0.9zM95.8 247.4h0.9v0.9h-0.9zM95.9 245.6h0.9v0.9h-0.9zM91.2 254.1h0.9v0.9h-0.9zM95.9 252.7h0.9v0.9h-0.9zM86.1 248.0h0.9v0.9h-0.9zM82.2 254.9h0.9v0.9h-0.9zM87.3 248.3h0.9v0.9h-0.9zM91.2 248.1h0.9v0.9h-0.9zM86.3 249.5h0.9v0.9h-0.9zM96.8 257.9h0.9v0.9h-0.9zM87.7 244.6h0.9v0.9h-0.9zM89.9 251.8h0.9v0.9h-0.9zM90.2 254.0h0.9v0.9h-0.9zM86.9 255.6h0.9v0.9h-0.9zM92.7 252.4h0.9v0.9h-0.9zM86.5 249.4h0.9v0.9h-0.9zM92.0 246.7h0.9v0.9h-0.9zM87.7 248.2h0.9v0.9h-0.9zM81.5 254.2h0.9v0.9h-0.9zM88.4 251.7h0.9v0.9h-0.9zM92.9 244.9h0.9v0.9h-0.9zM88.2 252.8h0.9v0.9h-0.9zM92.7 246.7h0.9v0.9h-0.9zM92.1 252.5h0.9v0.9h-0.9zM95.3 256.5h0.9v0.9h-0.9zM88.5 249.6h0.9v0.9h-0.9zM86.8 247.4h0.9v0.9h-0.9zM88.4 243.2h0.9v0.9h-0.9zM88.1 253.4h0.9v0.9h-0.9zM93.5 250.0h0.9v0.9h-0.9zM95.4 248.6h0.9v0.9h-0.9zM87.8 243.2h0.9v0.9h-0.9zM84.7 248.0h0.9v0.9h-0.9zM95.8 253.8h0.9v0.9h-0.9zM83.1 253.8h0.9v0.9h-0.9zM90.9 250.5h0.9v0.9h-0.9zM88.6 250.2h0.9v0.9h-0.9zM85.9 243.9h0.9v0.9h-0.9zM88.1 257.0h0.9v0.9h-0.9zM95.5 250.3h0.9v0.9h-0.9zM84.9 250.6h0.9v0.9h-0.9zM92.9 253.0h0.9v0.9h-0.9zM85.7 253.1h0.9v0.9h-0.9zM87.5 253.7h0.9v0.9h-0.9zM86.5 245.2h0.9v0.9h-0.9zM88.8 254.8h0.9v0.9h-0.9zM83.1 251.0h0.9v0.9h-0.9zM92.8 249.9h0.9v0.9h-0.9zM92.5 255.9h0.9v0.9h-0.9zM83.9 258.5h0.9v0.9h-0.9zM80.4 249.3h0.9v0.9h-0.9zM92.1 257.2h0.9v0.9h-0.9zM84.0 248.7h0.9v0.9h-0.9zM89.5 243.2h0.9v0.9h-0.9zM91.6 253.9h0.9v0.9h-0.9zM86.3 253.8h0.9v0.9h-0.9zM92.3 252.8h0.9v0.9h-0.9zM91.0 258.0h0.9v0.9h-0.9zM86.2 252.2h0.9v0.9h-0.9zM86.0 255.9h0.9v0.9h-0.9zM86.5 253.5h0.9v0.9h-0.9zM89.2 251.8h0.9v0.9h-0.9zM96.8 251.1h0.9v0.9h-0.9zM95.4 255.0h0.9v0.9h-0.9zM94.9 250.8h0.9v0.9h-0.9zM93.0 254.7h0.9v0.9h-0.9zM85.5 252.6h0.9v0.9h-0.9zM87.9 251.3h0.9v0.9h-0.9zM94.8 248.4h0.9v0.9h-0.9zM80.4 244.1h0.9v0.9h-0.9zM86.3 248.8h0.9v0.9h-0.9zM88.6 253.9h0.9v0.9h-0.9zM97.0 252.8h0.9v0.9h-0.9zM90.7 248.4h0.9v0.9h-0.9zM91.3 257.3h0.9v0.9h-0.9zM95.0 243.2h0.9v0.9h-0.9z" fill="#000" fill-opacity="0.7"/>
<path d="M92.0 256.1h0.9v0.9h-0.9zM91.8 245.8h0.9v0.9h-0.9zM88.0 252.8h0.9v0.9h-0.9zM90.4 248.1h0.9v0.9h-0.9zM86.0 254.1h0.9v0.9h-0.9zM84.5 255.6h0.9v0.9h-0.9zM89.1 251.8h0.9v0.9h-0.9zM84.5 248.8h0.9v0.9h-0.9zM91.3 245.8h0.9v0.9h-0.9zM96.0 246.1h0.9v0.9h-0.9zM84.9 250.9h0.9v0.9h-0.9zM90.6 253.3h0.9v0.9h-0.9zM87.8 250.1h0.9v0.9h-0.9zM88.2 248.9h0.9v0.9h-0.9zM80.3 254.0h0.9v0.9h-0.9zM89.8 251.3h0.9v0.9h-0.9zM86.9 251.6h0.9v0.9h-0.9zM89.0 250.5h0.9v0.9h-0.9zM92.7 245.0h0.9v0.9h-0.9zM89.8 247.2h0.9v0.9h-0.9zM87.9 255.8h0.9v0.9h-0.9zM85.4 250.5h0.9v0.9h-0.9zM87.0 254.0h0.9v0.9h-0.9zM85.7 245.1h0.9v0.9h-0.9zM90.7 249.6h0.9v0.9h-0.9zM87.9 254.4h0.9v0.9h-0.9zM86.0 249.5h0.9v0.9h-0.9zM89.5 252.2h0.9v0.9h-0.9zM87.3 254.3h0.9v0.9h-0.9zM96.5 249.4h0.9v0.9h-0.9zM95.3 243.7h0.9v0.9h-0.9zM93.7 249.6h0.9v0.9h-0.9zM89.5 249.7h0.9v0.9h-0.9zM86.9 246.5h0.9v0.9h-0.9zM87.7 255.2h0.9v0.9h-0.9zM92.8 249.6h0.9v0.9h-0.9zM87.2 248.4h0.9v0.9h-0.9zM85.0 256.9h0.9v0.9h-0.9zM91.2 251.2h0.9v0.9h-0.9zM87.3 247.4h0.9v0.9h-0.9zM93.4 253.4h0.9v0.9h-0.9zM85.8 254.1h0.9v0.9h-0.9zM85.3 253.0h0.9v0.9h-0.9zM85.8 249.4h0.9v0.9h-0.9zM90.7 252.3h0.9v0.9h-0.9zM92.4 248.0h0.9v0.9h-0.9zM94.3 255.3h0.9v0.9h-0.9zM89.0 252.4h0.9v0.9h-0.9zM86.4 250.3h0.9v0.9h-0.9zM84.6 251.1h0.9v0.9h-0.9zM89.7 255.3h0.9v0.9h-0.9zM92.2 253.5h0.9v0.9h-0.9zM87.8 250.0h0.9v0.9h-0.9zM87.9 251.5h0.9v0.9h-0.9zM82.5 253.4h0.9v0.9h-0.9zM83.7 249.1h0.9v0.9h-0.9zM89.1 249.1h0.9v0.9h-0.9zM94.6 250.5h0.9v0.9h-0.9zM94.3 254.7h0.9v0.9h-0.9zM87.3 252.1h0.9v0.9h-0.9zM93.4 249.7h0.9v0.9h-0.9zM89.3 248.9h0.9v0.9h-0.9zM89.2 249.6h0.9v0.9h-0.9zM89.3 254.2h0.9v0.9h-0.9zM93.7 251.2h0.9v0.9h-0.9zM89.7 253.7h0.9v0.9h-0.9zM88.0 247.2h0.9v0.9h-0.9zM92.7 247.7h0.9v0.9h-0.9zM92.1 247.6h0.9v0.9h-0.9zM95.2 247.3h0.9v0.9h-0.9zM91.9 255.8h0.9v0.9h-0.9zM85.8 255.8h0.9v0.9h-0.9zM86.2 244.9h0.9v0.9h-0.9zM91.4 253.2h0.9v0.9h-0.9zM88.3 242.3h0.9v0.9h-0.9zM88.8 249.8h0.9v0.9h-0.9zM87.7 249.8h0.9v0.9h-0.9zM83.0 248.9h0.9v0.9h-0.9zM95.0 256.0h0.9v0.9h-0.9zM87.8 248.4h0.9v0.9h-0.9zM90.3 254.4h0.9v0.9h-0.9zM91.4 246.9h0.9v0.9h-0.9zM89.5 251.3h0.9v0.9h-0.9zM93.8 254.8h0.9v0.9h-0.9zM90.8 254.9h0.9v0.9h-0.9zM87.7 256.0h0.9v0.9h-0.9zM87.6 252.1h0.9v0.9h-0.9zM92.1 247.7h0.9v0.9h-0.9zM86.6 244.9h0.9v0.9h-0.9zM89.6 250.6h0.9v0.9h-0.9zM87.9 252.5h0.9v0.9h-0.9zM81.9 250.7h0.9v0.9h-0.9zM89.3 249.9h0.9v0.9h-0.9zM91.7 256.7h0.9v0.9h-0.9zM87.5 247.6h0.9v0.9h-0.9zM87.0 251.1h0.9v0.9h-0.9zM91.0 247.9h0.9v0.9h-0.9zM92.4 247.4h0.9v0.9h-0.9zM91.8 252.2h0.9v0.9h-0.9zM90.6 258.0h0.9v0.9h-0.9zM88.1 250.2h0.9v0.9h-0.9zM90.6 253.7h0.9v0.9h-0.9zM84.5 251.7h0.9v0.9h-0.9zM86.5 252.9h0.9v0.9h-0.9zM93.6 251.0h0.9v0.9h-0.9zM88.6 251.4h0.9v0.9h-0.9zM79.1 253.4h0.9v0.9h-0.9zM90.9 251.4h0.9v0.9h-0.9zM87.7 248.3h0.9v0.9h-0.9zM88.4 254.9h0.9v0.9h-0.9zM88.7 255.3h0.9v0.9h-0.9zM80.4 249.3h0.9v0.9h-0.9zM89.9 250.8h0.9v0.9h-0.9zM83.4 248.6h0.9v0.9h-0.9zM93.2 246.5h0.9v0.9h-0.9zM85.7 247.1h0.9v0.9h-0.9zM87.1 253.0h0.9v0.9h-0.9zM91.0 244.0h0.9v0.9h-0.9zM93.9 248.8h0.9v0.9h-0.9zM87.0 256.4h0.9v0.9h-0.9zM88.7 246.6h0.9v0.9h-0.9zM86.9 248.4h0.9v0.9h-0.9zM85.6 249.7h0.9v0.9h-0.9zM91.9 252.0h0.9v0.9h-0.9zM85.7 251.2h0.9v0.9h-0.9zM89.1 253.4h0.9v0.9h-0.9zM87.9 252.3h0.9v0.9h-0.9zM96.1 251.1h0.9v0.9h-0.9zM85.4 251.9h0.9v0.9h-0.9zM86.3 249.6h0.9v0.9h-0.9zM89.6 251.9h0.9v0.9h-0.9zM88.0 253.7h0.9v0.9h-0.9zM88.4 246.4h0.9v0.9h-0.9zM91.9 249.6h0.9v0.9h-0.9zM93.1 248.6h0.9v0.9h-0.9zM90.9 251.9h0.9v0.9h-0.9zM79.9 245.8h0.9v0.9h-0.9zM85.2 255.5h0.9v0.9h-0.9zM82.7 253.9h0.9v0.9h-0.9zM92.7 252.5h0.9v0.9h-0.9zM91.3 249.1h0.9v0.9h-0.9zM89.0 251.6h0.9v0.9h-0.9zM90.4 253.2h0.9v0.9h-0.9zM88.3 248.4h0.9v0.9h-0.9zM87.1 252.2h0.9v0.9h-0.9zM83.4 246.6h0.9v0.9h-0.9zM87.6 248.9h0.9v0.9h-0.9zM88.1 241.9h0.9v0.9h-0.9zM87.9 250.0h0.9v0.9h-0.9zM91.6 244.1h0.9v0.9h-0.9zM88.0 252.4h0.9v0.9h-0.9zM90.6 254.8h0.9v0.9h-0.9zM92.5 247.3h0.9v0.9h-0.9zM91.1 249.7h0.9v0.9h-0.9zM86.3 256.0h0.9v0.9h-0.9zM86.9 247.9h0.9v0.9h-0.9zM87.6 247.9h0.9v0.9h-0.9zM92.4 252.1h0.9v0.9h-0.9zM93.7 252.2h0.9v0.9h-0.9zM86.9 254.3h0.9v0.9h-0.9zM86.8 249.2h0.9v0.9h-0.9zM88.4 250.9h0.9v0.9h-0.9zM93.0 248.8h0.9v0.9h-0.9zM90.2 250.7h0.9v0.9h-0.9zM84.8 247.1h0.9v0.9h-0.9zM88.3 252.2h0.9v0.9h-0.9zM90.1 252.4h0.9v0.9h-0.9zM89.2 249.3h0.9v0.9h-0.9zM90.4 247.4h0.9v0.9h-0.9zM84.5 249.7h0.9v0.9h-0.9zM84.2 249.1h0.9v0.9h-0.9zM86.5 248.9h0.9v0.9h-0.9zM88.8 248.1h0.9v0.9h-0.9zM87.6 245.0h0.9v0.9h-0.9zM89.5 247.8h0.9v0.9h-0.9zM90.4 241.3h0.9v0.9h-0.9zM86.3 251.6h0.9v0.9h-0.9zM80.8 249.6h0.9v0.9h-0.9zM89.3 251.1h0.9v0.9h-0.9zM84.0 251.6h0.9v0.9h-0.9zM89.5 247.5h0.9v0.9h-0.9zM91.5 250.6h0.9v0.9h-0.9zM89.1 249.3h0.9v0.9h-0.9zM90.8 251.1h0.9v0.9h-0.9zM92.8 252.3h0.9v0.9h-0.9zM86.9 250.0h0.9v0.9h-0.9zM92.1 249.6h0.9v0.9h-0.9zM90.3 252.6h0.9v0.9h-0.9zM88.4 242.9h0.9v0.9h-0.9zM89.4 251.5h0.9v0.9h-0.9zM89.5 248.2h0.9v0.9h-0.9zM93.1 250.3h0.9v0.9h-0.9zM86.9 248.4h0.9v0.9h-0.9zM90.2 247.1h0.9v0.9h-0.9zM85.6 257.6h0.9v0.9h-0.9zM93.4 254.4h0.9v0.9h-0.9zM93.6 252.8h0.9v0.9h-0.9zM83.3 254.8h0.9v0.9h-0.9zM93.2 252.5h0.9v0.9h-0.9zM82.4 255.0h0.9v0.9h-0.9zM93.6 249.1h0.9v0.9h-0.9zM89.4 253.4h0.9v0.9h-0.9zM88.7 254.5h0.9v0.9h-0.9zM89.3 253.1h0.9v0.9h-0.9zM89.3 245.8h0.9v0.9h-0.9zM89.9 255.2h0.9v0.9h-0.9zM92.9 256.6h0.9v0.9h-0.9zM90.9 248.8h0.9v0.9h-0.9zM89.1 244.3h0.9v0.9h-0.9zM88.4 253.9h0.9v0.9h-0.9zM81.7 251.5h0.9v0.9h-0.9zM91.8 255.3h0.9v0.9h-0.9zM85.9 248.6h0.9v0.9h-0.9zM82.6 247.3h0.9v0.9h-0.9zM90.8 257.8h0.9v0.9h-0.9zM85.1 255.5h0.9v0.9h-0.9zM90.5 249.1h0.9v0.9h-0.9zM96.5 242.2h0.9v0.9h-0.9zM88.8 251.5h0.9v0.9h-0.9zM96.2 256.9h0.9v0.9h-0.9zM96.7 251.3h0.9v0.9h-0.9zM92.3 255.4h0.9v0.9h-0.9zM90.7 252.0h0.9v0.9h-0.9zM88.4 249.4h0.9v0.9h-0.9zM84.8 257.4h0.9v0.9h-0.9zM87.5 243.7h0.9v0.9h-0.9zM89.9 250.7h0.9v0.9h-0.9zM89.6 257.0h0.9v0.9h-0.9zM88.6 249.9h0.9v0.9h-0.9zM86.5 250.7h0.9v0.9h-0.9zM87.5 251.5h0.9v0.9h-0.9zM99.6 252.1h0.9v0.9h-0.9zM86.1 257.4h0.9v0.9h-0.9zM91.9 253.6h0.9v0.9h-0.9zM91.4 253.6h0.9v0.9h-0.9zM91.3 255.6h0.9v0.9h-0.9zM92.4 255.4h0.9v0.9h-0.9zM87.3 250.8h0.9v0.9h-0.9zM86.5 254.1h0.9v0.9h-0.9zM91.8 249.2h0.9v0.9h-0.9zM93.2 247.0h0.9v0.9h-0.9zM88.7 253.0h0.9v0.9h-0.9zM88.9 252.1h0.9v0.9h-0.9zM93.0 251.9h0.9v0.9h-0.9zM85.3 253.2h0.9v0.9h-0.9zM88.7 251.2h0.9v0.9h-0.9zM87.1 246.1h0.9v0.9h-0.9zM84.8 249.6h0.9v0.9h-0.9zM85.4 241.5h0.9v0.9h-0.9zM92.9 246.8h0.9v0.9h-0.9zM86.5 252.6h0.9v0.9h-0.9zM80.8 255.4h0.9v0.9h-0.9zM86.4 253.0h0.9v0.9h-0.9zM87.4 251.8h0.9v0.9h-0.9zM89.4 250.8h0.9v0.9h-0.9zM82.8 245.8h0.9v0.9h-0.9zM88.9 255.6h0.9v0.9h-0.9zM87.1 252.6h0.9v0.9h-0.9zM89.6 252.4h0.9v0.9h-0.9zM92.4 245.7h0.9v0.9h-0.9zM89.9 250.2h0.9v0.9h-0.9zM87.9 247.9h0.9v0.9h-0.9zM86.3 247.3h0.9v0.9h-0.9zM94.8 250.8h0.9v0.9h-0.9zM91.5 247.5h0.9v0.9h-0.9zM79.5 244.6h0.9v0.9h-0.9zM89.5 255.7h0.9v0.9h-0.9zM88.9 247.4h0.9v0.9h-0.9zM88.2 247.4h0.9v0.9h-0.9zM84.2 250.0h0.9v0.9h-0.9zM87.6 248.0h0.9v0.9h-0.9zM86.0 247.6h0.9v0.9h-0.9zM89.8 255.6h0.9v0.9h-0.9zM88.3 258.4h0.9v0.9h-0.9zM83.5 251.7h0.9v0.9h-0.9zM85.1 250.3h0.9v0.9h-0.9zM89.3 252.7h0.9v0.9h-0.9zM92.9 248.9h0.9v0.9h-0.9zM84.8 250.2h0.9v0.9h-0.9zM90.0 248.4h0.9v0.9h-0.9zM92.0 256.5h0.9v0.9h-0.9zM84.1 252.0h0.9v0.9h-0.9zM92.5 244.2h0.9v0.9h-0.9zM89.7 250.0h0.9v0.9h-0.9zM84.1 255.3h0.9v0.9h-0.9zM89.7 249.2h0.9v0.9h-0.9zM90.5 253.0h0.9v0.9h-0.9zM91.6 252.8h0.9v0.9h-0.9zM90.4 246.8h0.9v0.9h-0.9zM87.6 251.2h0.9v0.9h-0.9zM79.6 258.1h0.9v0.9h-0.9zM87.7 247.2h0.9v0.9h-0.9zM82.8 251.6h0.9v0.9h-0.9zM89.1 248.8h0.9v0.9h-0.9zM87.6 247.8h0.9v0.9h-0.9zM86.4 250.5h0.9v0.9h-0.9zM86.8 253.1h0.9v0.9h-0.9zM88.5 251.3h0.9v0.9h-0.9zM90.4 255.1h0.9v0.9h-0.9zM91.1 251.6h0.9v0.9h-0.9zM88.4 248.1h0.9v0.9h-0.9zM87.8 253.1h0.9v0.9h-0.9zM89.8 249.5h0.9v0.9h-0.9zM84.5 245.6h0.9v0.9h-0.9zM90.1 254.3h0.9v0.9h-0.9zM90.3 246.1h0.9v0.9h-0.9zM88.3 251.6h0.9v0.9h-0.9zM85.9 252.0h0.9v0.9h-0.9zM88.3 248.0h0.9v0.9h-0.9zM84.8 253.6h0.9v0.9h-0.9zM90.2 247.8h0.9v0.9h-0.9zM85.5 253.8h0.9v0.9h-0.9zM91.0 249.8h0.9v0.9h-0.9zM94.4 249.8h0.9v0.9h-0.9zM85.4 254.5h0.9v0.9h-0.9zM88.4 252.0h0.9v0.9h-0.9zM89.1 247.4h0.9v0.9h-0.9zM85.0 250.1h0.9v0.9h-0.9zM93.8 247.4h0.9v0.9h-0.9zM93.6 251.6h0.9v0.9h-0.9zM85.2 251.7h0.9v0.9h-0.9zM90.9 247.7h0.9v0.9h-0.9zM81.7 252.0h0.9v0.9h-0.9zM85.2 252.3h0.9v0.9h-0.9zM82.5 250.3h0.9v0.9h-0.9zM86.2 245.8h0.9v0.9h-0.9zM88.2 251.4h0.9v0.9h-0.9zM87.1 246.8h0.9v0.9h-0.9zM89.7 244.8h0.9v0.9h-0.9zM90.8 252.5h0.9v0.9h-0.9zM94.7 253.8h0.9v0.9h-0.9zM90.2 251.7h0.9v0.9h-0.9zM89.1 246.3h0.9v0.9h-0.9zM94.0 252.6h0.9v0.9h-0.9zM88.0 246.9h0.9v0.9h-0.9zM94.0 252.6h0.9v0.9h-0.9zM85.0 253.1h0.9v0.9h-0.9zM95.4 250.7h0.9v0.9h-0.9zM90.4 249.4h0.9v0.9h-0.9zM86.9 254.4h0.9v0.9h-0.9zM99.5 251.2h0.9v0.9h-0.9zM88.6 253.5h0.9v0.9h-0.9zM88.0 253.3h0.9v0.9h-0.9zM91.8 247.3h0.9v0.9h-0.9zM85.4 250.5h0.9v0.9h-0.9zM91.8 251.7h0.9v0.9h-0.9zM93.2 246.1h0.9v0.9h-0.9zM90.7 248.7h0.9v0.9h-0.9zM89.3 251.9h0.9v0.9h-0.9zM85.7 250.0h0.9v0.9h-0.9zM85.0 251.7h0.9v0.9h-0.9zM86.1 249.1h0.9v0.9h-0.9zM89.7 248.6h0.9v0.9h-0.9zM92.9 248.6h0.9v0.9h-0.9zM91.9 251.8h0.9v0.9h-0.9zM85.5 250.1h0.9v0.9h-0.9zM86.2 249.6h0.9v0.9h-0.9zM88.1 257.0h0.9v0.9h-0.9zM87.6 256.1h0.9v0.9h-0.9zM90.5 246.4h0.9v0.9h-0.9zM81.2 253.1h0.9v0.9h-0.9zM82.2 253.2h0.9v0.9h-0.9zM92.5 252.1h0.9v0.9h-0.9zM88.3 249.9h0.9v0.9h-0.9zM89.9 249.8h0.9v0.9h-0.9zM87.2 249.5h0.9v0.9h-0.9zM93.0 248.7h0.9v0.9h-0.9zM90.3 246.9h0.9v0.9h-0.9zM86.6 246.1h0.9v0.9h-0.9zM88.3 253.1h0.9v0.9h-0.9zM90.0 249.1h0.9v0.9h-0.9zM91.1 249.6h0.9v0.9h-0.9zM90.3 251.7h0.9v0.9h-0.9zM90.8 242.4h0.9v0.9h-0.9zM84.6 253.4h0.9v0.9h-0.9zM88.6 258.4h0.9v0.9h-0.9zM88.2 248.9h0.9v0.9h-0.9zM94.1 252.7h0.9v0.9h-0.9zM95.4 252.5h0.9v0.9h-0.9zM88.3 253.3h0.9v0.9h-0.9zM86.3 249.3h0.9v0.9h-0.9zM87.1 250.0h0.9v0.9h-0.9zM91.6 249.2h0.9v0.9h-0.9zM90.1 249.1h0.9v0.9h-0.9zM92.0 241.5h0.9v0.9h-0.9zM88.3 251.4h0.9v0.9h-0.9zM85.3 254.2h0.9v0.9h-0.9zM89.7 255.1h0.9v0.9h-0.9zM92.3 253.0h0.9v0.9h-0.9zM88.5 247.1h0.9v0.9h-0.9zM88.3 249.2h0.9v0.9h-0.9zM89.8 249.2h0.9v0.9h-0.9zM99.3 245.4h0.9v0.9h-0.9zM93.0 249.2h0.9v0.9h-0.9zM88.2 253.9h0.9v0.9h-0.9zM89.0 246.7h0.9v0.9h-0.9zM90.4 250.1h0.9v0.9h-0.9zM82.0 251.5h0.9v0.9h-0.9zM85.4 248.3h0.9v0.9h-0.9zM90.6 251.8h0.9v0.9h-0.9zM88.0 258.1h0.9v0.9h-0.9zM90.4 248.7h0.9v0.9h-0.9zM89.8 250.4h0.9v0.9h-0.9zM81.6 245.5h0.9v0.9h-0.9zM84.3 257.8h0.9v0.9h-0.9zM88.4 249.9h0.9v0.9h-0.9zM87.1 254.1h0.9v0.9h-0.9zM89.1 256.6h0.9v0.9h-0.9zM91.7 256.4h0.9v0.9h-0.9zM88.6 252.1h0.9v0.9h-0.9zM87.5 250.2h0.9v0.9h-0.9zM83.2 248.8h0.9v0.9h-0.9zM85.8 248.6h0.9v0.9h-0.9zM93.1 251.7h0.9v0.9h-0.9zM93.1 253.7h0.9v0.9h-0.9zM92.1 254.2h0.9v0.9h-0.9zM87.0 253.5h0.9v0.9h-0.9zM87.9 249.0h0.9v0.9h-0.9zM93.0 258.1h0.9v0.9h-0.9zM85.7 256.7h0.9v0.9h-0.9zM91.8 247.9h0.9v0.9h-0.9zM89.9 252.1h0.9v0.9h-0.9zM90.3 249.6h0.9v0.9h-0.9zM84.7 250.9h0.9v0.9h-0.9zM91.9 253.4h0.9v0.9h-0.9zM91.2 254.5h0.9v0.9h-0.9zM85.7 250.7h0.9v0.9h-0.9zM90.1 254.2h0.9v0.9h-0.9zM89.5 252.5h0.9v0.9h-0.9zM89.5 257.9h0.9v0.9h-0.9zM81.6 250.7h0.9v0.9h-0.9zM97.3 251.6h0.9v0.9h-0.9zM82.8 251.3h0.9v0.9h-0.9zM84.2 248.5h0.9v0.9h-0.9zM89.8 256.6h0.9v0.9h-0.9zM90.6 253.1h0.9v0.9h-0.9zM92.4 251.5h0.9v0.9h-0.9zM86.1 250.5h0.9v0.9h-0.9zM90.1 249.9h0.9v0.9h-0.9zM86.7 249.6h0.9v0.9h-0.9zM83.9 247.3h0.9v0.9h-0.9zM88.7 249.6h0.9v0.9h-0.9zM89.1 255.5h0.9v0.9h-0.9zM90.0 250.7h0.9v0.9h-0.9zM85.0 247.2h0.9v0.9h-0.9zM90.3 247.9h0.9v0.9h-0.9zM90.4 247.2h0.9v0.9h-0.9zM89.5 250.6h0.9v0.9h-0.9zM92.4 249.5h0.9v0.9h-0.9zM87.7 251.6h0.9v0.9h-0.9zM89.2 256.5h0.9v0.9h-0.9zM88.1 249.0h0.9v0.9h-0.9zM87.9 252.4h0.9v0.9h-0.9zM89.8 253.1h0.9v0.9h-0.9zM95.2 250.7h0.9v0.9h-0.9zM84.9 251.3h0.9v0.9h-0.9zM90.4 243.3h0.9v0.9h-0.9zM89.0 245.8h0.9v0.9h-0.9zM90.5 255.5h0.9v0.9h-0.9zM92.5 245.7h0.9v0.9h-0.9zM93.7 253.9h0.9v0.9h-0.9zM87.8 252.5h0.9v0.9h-0.9zM94.1 249.7h0.9v0.9h-0.9zM88.9 248.9h0.9v0.9h-0.9zM92.9 243.5h0.9v0.9h-0.9zM93.8 247.5h0.9v0.9h-0.9zM92.1 245.3h0.9v0.9h-0.9zM85.8 248.8h0.9v0.9h-0.9zM91.8 245.3h0.9v0.9h-0.9zM91.0 248.7h0.9v0.9h-0.9zM93.2 249.8h0.9v0.9h-0.9zM90.6 250.2h0.9v0.9h-0.9zM95.0 249.6h0.9v0.9h-0.9zM88.9 257.5h0.9v0.9h-0.9zM89.3 253.1h0.9v0.9h-0.9zM86.5 251.5h0.9v0.9h-0.9zM81.4 251.2h0.9v0.9h-0.9zM86.8 245.7h0.9v0.9h-0.9zM84.2 254.6h0.9v0.9h-0.9zM90.4 245.7h0.9v0.9h-0.9zM95.1 248.5h0.9v0.9h-0.9zM87.8 251.6h0.9v0.9h-0.9zM85.2 245.4h0.9v0.9h-0.9zM86.5 254.8h0.9v0.9h-0.9zM92.2 245.5h0.9v0.9h-0.9zM93.1 250.9h0.9v0.9h-0.9zM90.7 251.0h0.9v0.9h-0.9zM90.4 247.4h0.9v0.9h-0.9zM85.9 248.4h0.9v0.9h-0.9zM87.8 252.9h0.9v0.9h-0.9zM84.9 256.2h0.9v0.9h-0.9zM86.9 248.8h0.9v0.9h-0.9zM91.4 252.3h0.9v0.9h-0.9zM87.9 247.2h0.9v0.9h-0.9zM85.6 245.4h0.9v0.9h-0.9zM92.9 254.4h0.9v0.9h-0.9zM95.3 252.5h0.9v0.9h-0.9zM90.1 253.4h0.9v0.9h-0.9zM92.2 249.9h0.9v0.9h-0.9zM90.2 258.1h0.9v0.9h-0.9zM83.3 246.1h0.9v0.9h-0.9zM85.8 253.3h0.9v0.9h-0.9zM93.0 249.7h0.9v0.9h-0.9zM91.3 250.6h0.9v0.9h-0.9zM90.0 249.0h0.9v0.9h-0.9zM88.9 250.8h0.9v0.9h-0.9zM92.8 258.3h0.9v0.9h-0.9zM82.9 252.6h0.9v0.9h-0.9zM89.0 254.1h0.9v0.9h-0.9zM92.6 253.4h0.9v0.9h-0.9zM91.7 247.6h0.9v0.9h-0.9zM83.3 256.4h0.9v0.9h-0.9zM93.1 247.6h0.9v0.9h-0.9zM93.3 253.0h0.9v0.9h-0.9zM80.7 253.8h0.9v0.9h-0.9zM85.7 254.7h0.9v0.9h-0.9zM86.7 248.3h0.9v0.9h-0.9zM83.8 250.1h0.9v0.9h-0.9zM92.4 248.5h0.9v0.9h-0.9zM82.7 258.0h0.9v0.9h-0.9zM95.2 253.1h0.9v0.9h-0.9zM87.2 246.7h0.9v0.9h-0.9zM83.5 252.7h0.9v0.9h-0.9zM93.4 247.2h0.9v0.9h-0.9zM89.0 249.9h0.9v0.9h-0.9zM88.1 252.5h0.9v0.9h-0.9zM96.1 248.7h0.9v0.9h-0.9zM91.9 254.5h0.9v0.9h-0.9zM88.0 250.3h0.9v0.9h-0.9zM84.5 254.4h0.9v0.9h-0.9zM87.2 248.6h0.9v0.9h-0.9zM89.2 247.9h0.9v0.9h-0.9zM85.5 249.8h0.9v0.9h-0.9zM94.0 250.1h0.9v0.9h-0.9zM90.8 245.9h0.9v0.9h-0.9zM82.4 256.9h0.9v0.9h-0.9zM87.7 245.6h0.9v0.9h-0.9zM88.6 252.8h0.9v0.9h-0.9zM83.2 247.8h0.9v0.9h-0.9zM89.9 247.7h0.9v0.9h-0.9zM91.7 254.0h0.9v0.9h-0.9zM90.5 249.4h0.9v0.9h-0.9zM88.8 248.7h0.9v0.9h-0.9zM88.6 251.9h0.9v0.9h-0.9zM88.0 254.1h0.9v0.9h-0.9zM97.8 249.0h0.9v0.9h-0.9zM90.2 253.6h0.9v0.9h-0.9zM91.2 250.0h0.9v0.9h-0.9zM87.4 254.2h0.9v0.9h-0.9zM91.1 252.5h0.9v0.9h-0.9zM86.3 252.9h0.9v0.9h-0.9zM91.7 250.2h0.9v0.9h-0.9zM91.2 258.1h0.9v0.9h-0.9zM82.7 252.9h0.9v0.9h-0.9zM85.0 246.2h0.9v0.9h-0.9zM88.2 252.6h0.9v0.9h-0.9zM89.2 246.9h0.9v0.9h-0.9zM84.1 248.9h0.9v0.9h-0.9zM89.0 248.0h0.9v0.9h-0.9zM83.9 256.7h0.9v0.9h-0.9zM86.2 250.3h0.9v0.9h-0.9zM87.1 248.8h0.9v0.9h-0.9zM89.1 249.8h0.9v0.9h-0.9zM91.1 246.8h0.9v0.9h-0.9zM84.0 257.4h0.9v0.9h-0.9zM88.7 253.4h0.9v0.9h-0.9zM93.0 252.7h0.9v0.9h-0.9zM89.1 245.5h0.9v0.9h-0.9zM83.6 254.1h0.9v0.9h-0.9zM91.3 252.7h0.9v0.9h-0.9zM83.4 243.6h0.9v0.9h-0.9zM85.4 246.8h0.9v0.9h-0.9zM89.5 247.3h0.9v0.9h-0.9zM94.4 248.7h0.9v0.9h-0.9zM87.1 253.7h0.9v0.9h-0.9zM90.1 247.7h0.9v0.9h-0.9zM91.8 257.3h0.9v0.9h-0.9zM84.8 250.0h0.9v0.9h-0.9zM85.3 244.2h0.9v0.9h-0.9zM91.1 253.2h0.9v0.9h-0.9zM92.3 252.3h0.9v0.9h-0.9zM82.2 250.7h0.9v0.9h-0.9zM86.7 246.8h0.9v0.9h-0.9zM85.2 253.4h0.9v0.9h-0.9zM88.0 257.5h0.9v0.9h-0.9zM90.6 244.3h0.9v0.9h-0.9zM92.0 255.0h0.9v0.9h-0.9zM89.1 246.7h0.9v0.9h-0.9zM95.0 246.3h0.9v0.9h-0.9zM88.7 244.3h0.9v0.9h-0.9zM84.7 245.0h0.9v0.9h-0.9zM92.7 254.8h0.9v0.9h-0.9zM87.6 246.2h0.9v0.9h-0.9zM88.8 252.1h0.9v0.9h-0.9zM83.8 246.9h0.9v0.9h-0.9zM88.7 253.2h0.9v0.9h-0.9zM89.3 252.3h0.9v0.9h-0.9zM84.7 242.3h0.9v0.9h-0.9zM90.1 247.7h0.9v0.9h-0.9zM88.6 249.5h0.9v0.9h-0.9zM90.6 248.2h0.9v0.9h-0.9zM93.9 250.9h0.9v0.9h-0.9zM90.8 252.9h0.9v0.9h-0.9zM92.5 252.2h0.9v0.9h-0.9zM83.0 248.7h0.9v0.9h-0.9zM95.4 252.4h0.9v0.9h-0.9zM90.9 252.4h0.9v0.9h-0.9zM86.8 248.5h0.9v0.9h-0.9zM86.8 254.8h0.9v0.9h-0.9zM90.2 256.9h0.9v0.9h-0.9zM90.7 257.3h0.9v0.9h-0.9zM90.6 246.7h0.9v0.9h-0.9zM95.0 252.0h0.9v0.9h-0.9zM93.1 251.5h0.9v0.9h-0.9zM87.9 251.4h0.9v0.9h-0.9zM85.2 246.7h0.9v0.9h-0.9zM86.0 249.0h0.9v0.9h-0.9zM84.3 250.4h0.9v0.9h-0.9zM90.0 257.8h0.9v0.9h-0.9zM95.3 250.6h0.9v0.9h-0.9zM92.0 250.0h0.9v0.9h-0.9zM90.3 250.7h0.9v0.9h-0.9zM87.1 251.1h0.9v0.9h-0.9zM83.9 252.3h0.9v0.9h-0.9zM88.0 247.1h0.9v0.9h-0.9zM87.8 252.7h0.9v0.9h-0.9zM86.7 252.4h0.9v0.9h-0.9zM91.0 256.2h0.9v0.9h-0.9zM85.3 250.4h0.9v0.9h-0.9zM90.8 256.0h0.9v0.9h-0.9zM89.9 253.4h0.9v0.9h-0.9zM83.9 248.8h0.9v0.9h-0.9zM94.7 249.8h0.9v0.9h-0.9zM96.5 248.3h0.9v0.9h-0.9zM88.0 245.3h0.9v0.9h-0.9zM91.2 251.7h0.9v0.9h-0.9zM96.0 251.4h0.9v0.9h-0.9zM88.1 245.9h0.9v0.9h-0.9zM88.7 254.1h0.9v0.9h-0.9zM91.6 255.0h0.9v0.9h-0.9zM92.0 250.6h0.9v0.9h-0.9zM91.1 251.4h0.9v0.9h-0.9zM84.4 256.7h0.9v0.9h-0.9zM90.3 247.2h0.9v0.9h-0.9zM90.3 251.8h0.9v0.9h-0.9zM92.4 255.8h0.9v0.9h-0.9zM78.5 252.7h0.9v0.9h-0.9zM94.3 247.5h0.9v0.9h-0.9zM82.6 251.8h0.9v0.9h-0.9zM90.2 252.0h0.9v0.9h-0.9zM85.2 249.2h0.9v0.9h-0.9zM89.7 253.4h0.9v0.9h-0.9zM96.6 251.8h0.9v0.9h-0.9zM86.9 242.6h0.9v0.9h-0.9zM92.7 250.3h0.9v0.9h-0.9zM88.6 247.4h0.9v0.9h-0.9zM91.5 244.6h0.9v0.9h-0.9zM89.4 251.2h0.9v0.9h-0.9zM90.0 255.3h0.9v0.9h-0.9zM88.7 251.1h0.9v0.9h-0.9zM92.0 245.4h0.9v0.9h-0.9zM88.0 251.0h0.9v0.9h-0.9zM92.3 248.0h0.9v0.9h-0.9zM91.8 252.1h0.9v0.9h-0.9zM83.8 245.7h0.9v0.9h-0.9zM84.0 251.3h0.9v0.9h-0.9zM89.7 253.3h0.9v0.9h-0.9zM91.9 248.9h0.9v0.9h-0.9zM92.7 253.6h0.9v0.9h-0.9zM90.6 252.5h0.9v0.9h-0.9zM84.5 252.1h0.9v0.9h-0.9zM85.4 246.7h0.9v0.9h-0.9zM87.8 251.3h0.9v0.9h-0.9zM88.8 249.7h0.9v0.9h-0.9zM85.5 251.4h0.9v0.9h-0.9zM86.4 245.9h0.9v0.9h-0.9zM89.3 255.9h0.9v0.9h-0.9zM87.6 247.1h0.9v0.9h-0.9zM93.8 256.8h0.9v0.9h-0.9zM88.0 250.1h0.9v0.9h-0.9zM89.5 254.3h0.9v0.9h-0.9zM90.5 244.5h0.9v0.9h-0.9zM85.2 246.5h0.9v0.9h-0.9zM90.5 251.2h0.9v0.9h-0.9zM95.2 249.9h0.9v0.9h-0.9zM90.1 251.1h0.9v0.9h-0.9zM89.5 258.9h0.9v0.9h-0.9zM90.0 255.9h0.9v0.9h-0.9zM93.5 248.7h0.9v0.9h-0.9zM91.4 249.5h0.9v0.9h-0.9zM89.4 251.4h0.9v0.9h-0.9zM89.1 249.2h0.9v0.9h-0.9zM94.4 249.9h0.9v0.9h-0.9zM91.5 256.7h0.9v0.9h-0.9zM91.2 254.4h0.9v0.9h-0.9zM93.8 254.6h0.9v0.9h-0.9zM95.0 245.8h0.9v0.9h-0.9zM95.8 250.9h0.9v0.9h-0.9zM82.9 248.6h0.9v0.9h-0.9zM84.1 250.7h0.9v0.9h-0.9zM83.8 247.3h0.9v0.9h-0.9zM90.0 251.3h0.9v0.9h-0.9zM86.2 250.0h0.9v0.9h-0.9zM88.7 251.1h0.9v0.9h-0.9zM89.0 250.0h0.9v0.9h-0.9zM92.1 245.2h0.9v0.9h-0.9zM87.3 251.3h0.9v0.9h-0.9zM87.6 248.9h0.9v0.9h-0.9zM87.5 251.5h0.9v0.9h-0.9zM93.4 250.2h0.9v0.9h-0.9zM88.1 252.0h0.9v0.9h-0.9zM88.2 244.0h0.9v0.9h-0.9zM89.9 249.5h0.9v0.9h-0.9zM87.0 253.0h0.9v0.9h-0.9zM89.2 248.8h0.9v0.9h-0.9zM81.4 244.8h0.9v0.9h-0.9zM89.0 250.4h0.9v0.9h-0.9zM90.5 251.6h0.9v0.9h-0.9zM87.3 246.4h0.9v0.9h-0.9zM85.2 250.3h0.9v0.9h-0.9zM85.0 253.4h0.9v0.9h-0.9zM84.4 244.5h0.9v0.9h-0.9zM88.3 244.6h0.9v0.9h-0.9zM94.7 247.3h0.9v0.9h-0.9zM88.8 249.9h0.9v0.9h-0.9zM86.1 244.6h0.9v0.9h-0.9zM82.5 253.8h0.9v0.9h-0.9zM92.6 258.4h0.9v0.9h-0.9zM83.9 252.8h0.9v0.9h-0.9zM89.0 253.8h0.9v0.9h-0.9zM87.2 253.3h0.9v0.9h-0.9zM92.1 252.9h0.9v0.9h-0.9zM94.1 250.2h0.9v0.9h-0.9zM94.4 248.3h0.9v0.9h-0.9zM94.8 241.2h0.9v0.9h-0.9zM89.0 248.0h0.9v0.9h-0.9zM89.0 254.4h0.9v0.9h-0.9zM91.5 251.1h0.9v0.9h-0.9zM95.0 245.6h0.9v0.9h-0.9zM86.2 256.1h0.9v0.9h-0.9zM90.1 243.5h0.9v0.9h-0.9zM90.2 246.7h0.9v0.9h-0.9zM94.2 254.8h0.9v0.9h-0.9zM87.1 255.3h0.9v0.9h-0.9zM86.1 254.0h0.9v0.9h-0.9zM91.0 250.4h0.9v0.9h-0.9zM84.0 249.8h0.9v0.9h-0.9zM81.0 248.8h0.9v0.9h-0.9zM82.5 255.1h0.9v0.9h-0.9zM85.6 242.3h0.9v0.9h-0.9zM91.0 252.1h0.9v0.9h-0.9zM87.2 258.2h0.9v0.9h-0.9zM91.7 251.0h0.9v0.9h-0.9zM86.7 240.5h0.9v0.9h-0.9zM90.7 254.2h0.9v0.9h-0.9zM86.9 245.9h0.9v0.9h-0.9zM88.9 244.9h0.9v0.9h-0.9zM89.0 253.5h0.9v0.9h-0.9zM94.3 251.7h0.9v0.9h-0.9zM89.7 253.4h0.9v0.9h-0.9zM93.9 249.7h0.9v0.9h-0.9zM84.7 248.0h0.9v0.9h-0.9zM84.6 247.7h0.9v0.9h-0.9zM88.6 252.0h0.9v0.9h-0.9zM89.5 251.0h0.9v0.9h-0.9zM87.8 252.3h0.9v0.9h-0.9zM92.1 253.5h0.9v0.9h-0.9zM94.2 249.8h0.9v0.9h-0.9zM88.1 256.7h0.9v0.9h-0.9zM89.7 252.2h0.9v0.9h-0.9zM87.8 254.2h0.9v0.9h-0.9zM87.6 247.3h0.9v0.9h-0.9zM88.8 249.3h0.9v0.9h-0.9zM91.9 249.5h0.9v0.9h-0.9zM89.4 250.0h0.9v0.9h-0.9zM90.2 248.6h0.9v0.9h-0.9zM92.9 245.8h0.9v0.9h-0.9zM87.7 248.3h0.9v0.9h-0.9zM91.3 250.9h0.9v0.9h-0.9zM90.7 249.6h0.9v0.9h-0.9zM86.5 246.9h0.9v0.9h-0.9zM87.8 248.9h0.9v0.9h-0.9zM90.0 252.0h0.9v0.9h-0.9zM92.4 250.4h0.9v0.9h-0.9zM86.4 247.1h0.9v0.9h-0.9zM89.2 252.1h0.9v0.9h-0.9zM95.8 251.4h0.9v0.9h-0.9zM95.2 257.4h0.9v0.9h-0.9zM85.3 255.0h0.9v0.9h-0.9zM93.0 255.5h0.9v0.9h-0.9zM89.0 254.1h0.9v0.9h-0.9zM87.3 250.6h0.9v0.9h-0.9zM89.1 257.0h0.9v0.9h-0.9zM88.2 254.1h0.9v0.9h-0.9zM89.2 248.3h0.9v0.9h-0.9zM89.8 253.1h0.9v0.9h-0.9zM86.5 253.0h0.9v0.9h-0.9zM86.5 247.7h0.9v0.9h-0.9zM89.8 250.0h0.9v0.9h-0.9zM85.6 245.1h0.9v0.9h-0.9zM89.1 251.7h0.9v0.9h-0.9zM87.4 251.5h0.9v0.9h-0.9zM83.7 252.2h0.9v0.9h-0.9zM90.5 251.8h0.9v0.9h-0.9zM86.9 251.1h0.9v0.9h-0.9zM89.5 254.5h0.9v0.9h-0.9zM90.0 251.7h0.9v0.9h-0.9zM86.5 253.8h0.9v0.9h-0.9zM93.1 249.1h0.9v0.9h-0.9zM91.2 251.9h0.9v0.9h-0.9zM88.8 246.3h0.9v0.9h-0.9zM95.1 244.3h0.9v0.9h-0.9zM90.1 249.5h0.9v0.9h-0.9zM93.0 249.3h0.9v0.9h-0.9zM89.1 252.9h0.9v0.9h-0.9zM90.6 249.0h0.9v0.9h-0.9zM91.4 252.2h0.9v0.9h-0.9zM92.5 249.0h0.9v0.9h-0.9zM88.8 249.4h0.9v0.9h-0.9zM86.1 251.7h0.9v0.9h-0.9zM90.4 255.8h0.9v0.9h-0.9zM87.9 252.2h0.9v0.9h-0.9zM93.0 250.4h0.9v0.9h-0.9zM89.2 251.3h0.9v0.9h-0.9zM86.6 247.3h0.9v0.9h-0.9zM92.9 251.4h0.9v0.9h-0.9zM88.7 246.5h0.9v0.9h-0.9zM89.4 254.9h0.9v0.9h-0.9zM85.0 247.7h0.9v0.9h-0.9zM92.9 255.8h0.9v0.9h-0.9zM94.4 248.9h0.9v0.9h-0.9zM91.1 248.2h0.9v0.9h-0.9zM90.8 249.5h0.9v0.9h-0.9zM89.7 255.5h0.9v0.9h-0.9zM90.2 250.0h0.9v0.9h-0.9zM89.2 251.7h0.9v0.9h-0.9zM87.2 251.5h0.9v0.9h-0.9zM91.1 256.2h0.9v0.9h-0.9zM81.8 246.7h0.9v0.9h-0.9zM84.7 253.8h0.9v0.9h-0.9zM97.5 251.5h0.9v0.9h-0.9zM89.4 254.8h0.9v0.9h-0.9zM80.5 250.2h0.9v0.9h-0.9zM78.2 251.3h0.9v0.9h-0.9zM87.2 249.1h0.9v0.9h-0.9zM90.2 248.8h0.9v0.9h-0.9zM92.9 250.8h0.9v0.9h-0.9zM87.4 254.0h0.9v0.9h-0.9zM86.1 255.1h0.9v0.9h-0.9zM92.4 251.3h0.9v0.9h-0.9zM92.4 256.4h0.9v0.9h-0.9zM93.8 250.8h0.9v0.9h-0.9zM88.8 254.6h0.9v0.9h-0.9zM83.9 248.7h0.9v0.9h-0.9zM90.7 252.8h0.9v0.9h-0.9zM95.5 256.9h0.9v0.9h-0.9zM90.1 252.3h0.9v0.9h-0.9zM84.4 250.2h0.9v0.9h-0.9zM89.9 250.0h0.9v0.9h-0.9zM89.2 252.9h0.9v0.9h-0.9zM85.7 248.8h0.9v0.9h-0.9zM82.8 254.8h0.9v0.9h-0.9zM85.3 244.9h0.9v0.9h-0.9zM91.7 250.1h0.9v0.9h-0.9zM92.3 249.5h0.9v0.9h-0.9zM96.4 253.3h0.9v0.9h-0.9zM89.5 251.2h0.9v0.9h-0.9zM88.3 253.6h0.9v0.9h-0.9zM95.9 249.3h0.9v0.9h-0.9zM85.2 252.9h0.9v0.9h-0.9zM92.7 245.6h0.9v0.9h-0.9zM86.6 247.4h0.9v0.9h-0.9zM90.9 252.5h0.9v0.9h-0.9zM86.5 246.9h0.9v0.9h-0.9zM91.4 243.7h0.9v0.9h-0.9zM91.2 250.3h0.9v0.9h-0.9zM95.6 254.2h0.9v0.9h-0.9zM87.0 249.9h0.9v0.9h-0.9zM88.0 248.3h0.9v0.9h-0.9zM89.3 254.1h0.9v0.9h-0.9zM83.8 250.0h0.9v0.9h-0.9zM94.2 253.4h0.9v0.9h-0.9zM86.2 248.0h0.9v0.9h-0.9zM86.0 245.3h0.9v0.9h-0.9zM93.0 251.0h0.9v0.9h-0.9zM86.6 245.9h0.9v0.9h-0.9zM87.7 249.0h0.9v0.9h-0.9zM94.9 249.2h0.9v0.9h-0.9zM89.4 254.5h0.9v0.9h-0.9zM91.3 250.2h0.9v0.9h-0.9zM81.5 255.6h0.9v0.9h-0.9zM91.1 249.3h0.9v0.9h-0.9zM88.7 247.5h0.9v0.9h-0.9zM85.9 245.7h0.9v0.9h-0.9zM90.7 252.6h0.9v0.9h-0.9zM89.6 253.5h0.9v0.9h-0.9zM90.8 251.2h0.9v0.9h-0.9zM86.0 252.8h0.9v0.9h-0.9zM93.1 253.0h0.9v0.9h-0.9zM93.3 249.2h0.9v0.9h-0.9zM85.6 255.1h0.9v0.9h-0.9zM87.0 251.6h0.9v0.9h-0.9zM88.3 250.9h0.9v0.9h-0.9zM88.1 248.9h0.9v0.9h-0.9zM82.9 257.3h0.9v0.9h-0.9zM89.7 244.2h0.9v0.9h-0.9zM85.9 246.9h0.9v0.9h-0.9zM86.5 242.0h0.9v0.9h-0.9zM91.0 256.4h0.9v0.9h-0.9zM88.2 253.4h0.9v0.9h-0.9zM91.1 246.5h0.9v0.9h-0.9zM93.2 245.0h0.9v0.9h-0.9zM87.0 249.6h0.9v0.9h-0.9zM93.3 251.2h0.9v0.9h-0.9zM88.6 248.0h0.9v0.9h-0.9zM89.3 250.9h0.9v0.9h-0.9zM91.5 255.6h0.9v0.9h-0.9zM91.5 250.9h0.9v0.9h-0.9zM88.5 256.3h0.9v0.9h-0.9zM89.7 250.7h0.9v0.9h-0.9zM95.2 256.2h0.9v0.9h-0.9zM91.0 250.4h0.9v0.9h-0.9zM86.8 254.5h0.9v0.9h-0.9zM87.4 254.1h0.9v0.9h-0.9zM86.3 251.2h0.9v0.9h-0.9zM90.4 251.3h0.9v0.9h-0.9zM89.8 252.1h0.9v0.9h-0.9zM85.2 247.0h0.9v0.9h-0.9zM88.5 257.0h0.9v0.9h-0.9zM88.6 247.6h0.9v0.9h-0.9zM86.7 250.9h0.9v0.9h-0.9zM93.0 248.9h0.9v0.9h-0.9zM90.9 251.4h0.9v0.9h-0.9zM87.8 247.6h0.9v0.9h-0.9zM88.5 248.3h0.9v0.9h-0.9zM90.8 244.8h0.9v0.9h-0.9zM92.9 253.4h0.9v0.9h-0.9zM91.0 255.9h0.9v0.9h-0.9zM91.1 245.0h0.9v0.9h-0.9zM89.2 252.3h0.9v0.9h-0.9zM86.7 246.9h0.9v0.9h-0.9zM90.5 252.5h0.9v0.9h-0.9zM87.5 250.0h0.9v0.9h-0.9zM87.3 248.9h0.9v0.9h-0.9zM88.8 254.5h0.9v0.9h-0.9zM83.5 249.6h0.9v0.9h-0.9zM94.5 251.9h0.9v0.9h-0.9zM89.5 253.7h0.9v0.9h-0.9zM85.6 246.7h0.9v0.9h-0.9zM83.3 245.8h0.9v0.9h-0.9zM89.8 253.7h0.9v0.9h-0.9zM87.6 248.5h0.9v0.9h-0.9zM90.4 252.9h0.9v0.9h-0.9zM89.9 244.3h0.9v0.9h-0.9zM87.1 242.2h0.9v0.9h-0.9zM89.8 247.9h0.9v0.9h-0.9zM86.8 255.9h0.9v0.9h-0.9zM93.5 252.4h0.9v0.9h-0.9zM89.9 251.4h0.9v0.9h-0.9zM87.0 250.6h0.9v0.9h-0.9zM95.5 247.8h0.9v0.9h-0.9zM86.7 251.4h0.9v0.9h-0.9zM92.0 253.6h0.9v0.9h-0.9zM85.7 250.4h0.9v0.9h-0.9zM88.1 246.6h0.9v0.9h-0.9zM89.3 249.2h0.9v0.9h-0.9zM92.1 252.3h0.9v0.9h-0.9zM86.3 251.1h0.9v0.9h-0.9zM87.8 248.6h0.9v0.9h-0.9zM87.3 254.4h0.9v0.9h-0.9zM87.6 245.0h0.9v0.9h-0.9zM86.4 253.5h0.9v0.9h-0.9zM96.3 247.2h0.9v0.9h-0.9zM87.8 249.7h0.9v0.9h-0.9zM84.2 252.2h0.9v0.9h-0.9zM88.8 251.8h0.9v0.9h-0.9zM96.6 249.9h0.9v0.9h-0.9zM91.7 253.6h0.9v0.9h-0.9zM86.8 248.8h0.9v0.9h-0.9zM94.3 253.2h0.9v0.9h-0.9zM89.5 247.1h0.9v0.9h-0.9zM92.0 252.6h0.9v0.9h-0.9zM96.5 255.8h0.9v0.9h-0.9zM91.7 251.7h0.9v0.9h-0.9zM89.2 248.9h0.9v0.9h-0.9zM90.1 251.6h0.9v0.9h-0.9zM91.2 254.5h0.9v0.9h-0.9zM90.1 249.0h0.9v0.9h-0.9zM91.7 256.1h0.9v0.9h-0.9zM86.2 252.2h0.9v0.9h-0.9zM90.9 252.6h0.9v0.9h-0.9zM90.7 250.5h0.9v0.9h-0.9zM88.7 256.5h0.9v0.9h-0.9zM94.9 246.0h0.9v0.9h-0.9zM80.4 252.3h0.9v0.9h-0.9zM86.7 249.0h0.9v0.9h-0.9zM83.6 252.0h0.9v0.9h-0.9zM88.8 249.0h0.9v0.9h-0.9zM94.0 254.8h0.9v0.9h-0.9zM87.6 253.0h0.9v0.9h-0.9zM88.9 254.7h0.9v0.9h-0.9zM91.0 250.7h0.9v0.9h-0.9zM90.9 248.4h0.9v0.9h-0.9zM91.7 255.9h0.9v0.9h-0.9zM87.8 252.7h0.9v0.9h-0.9zM83.3 254.0h0.9v0.9h-0.9zM92.0 247.3h0.9v0.9h-0.9zM94.9 251.2h0.9v0.9h-0.9zM83.1 246.1h0.9v0.9h-0.9zM92.0 249.9h0.9v0.9h-0.9zM92.8 245.5h0.9v0.9h-0.9zM88.7 254.1h0.9v0.9h-0.9zM86.7 253.1h0.9v0.9h-0.9zM87.8 252.0h0.9v0.9h-0.9zM90.1 258.4h0.9v0.9h-0.9zM84.8 253.5h0.9v0.9h-0.9zM93.5 247.0h0.9v0.9h-0.9zM89.3 258.7h0.9v0.9h-0.9zM92.6 240.7h0.9v0.9h-0.9zM88.2 245.0h0.9v0.9h-0.9zM90.0 248.3h0.9v0.9h-0.9zM87.1 248.0h0.9v0.9h-0.9zM90.0 249.2h0.9v0.9h-0.9zM85.9 250.0h0.9v0.9h-0.9zM90.4 247.9h0.9v0.9h-0.9zM92.8 245.2h0.9v0.9h-0.9zM90.4 249.5h0.9v0.9h-0.9zM94.4 248.6h0.9v0.9h-0.9zM86.7 246.2h0.9v0.9h-0.9zM95.8 252.9h0.9v0.9h-0.9zM85.3 249.7h0.9v0.9h-0.9zM85.7 256.0h0.9v0.9h-0.9zM90.4 243.9h0.9v0.9h-0.9zM89.7 253.9h0.9v0.9h-0.9zM89.0 252.4h0.9v0.9h-0.9zM88.6 251.5h0.9v0.9h-0.9zM89.7 248.4h0.9v0.9h-0.9zM90.2 251.4h0.9v0.9h-0.9zM88.9 248.5h0.9v0.9h-0.9zM85.6 251.6h0.9v0.9h-0.9zM91.8 242.6h0.9v0.9h-0.9zM87.2 255.4h0.9v0.9h-0.9zM92.1 248.4h0.9v0.9h-0.9zM93.6 247.4h0.9v0.9h-0.9zM86.3 257.4h0.9v0.9h-0.9zM87.5 250.1h0.9v0.9h-0.9zM83.4 247.4h0.9v0.9h-0.9zM85.0 250.3h0.9v0.9h-0.9zM82.8 254.4h0.9v0.9h-0.9zM87.8 248.7h0.9v0.9h-0.9zM86.8 253.3h0.9v0.9h-0.9zM94.2 249.4h0.9v0.9h-0.9zM94.5 256.3h0.9v0.9h-0.9zM93.6 251.8h0.9v0.9h-0.9zM83.9 253.1h0.9v0.9h-0.9zM87.6 251.5h0.9v0.9h-0.9zM82.6 249.8h0.9v0.9h-0.9zM89.8 247.6h0.9v0.9h-0.9zM90.0 256.5h0.9v0.9h-0.9zM89.8 248.5h0.9v0.9h-0.9zM97.1 243.5h0.9v0.9h-0.9zM85.9 252.2h0.9v0.9h-0.9zM87.0 243.0h0.9v0.9h-0.9zM89.9 253.6h0.9v0.9h-0.9zM86.3 255.8h0.9v0.9h-0.9zM90.7 254.9h0.9v0.9h-0.9zM83.8 250.8h0.9v0.9h-0.9zM94.5 257.7h0.9v0.9h-0.9zM93.5 250.8h0.9v0.9h-0.9zM89.6 248.7h0.9v0.9h-0.9zM92.7 248.4h0.9v0.9h-0.9zM89.4 243.8h0.9v0.9h-0.9zM83.9 256.9h0.9v0.9h-0.9zM89.2 251.5h0.9v0.9h-0.9zM81.5 250.7h0.9v0.9h-0.9zM96.1 245.7h0.9v0.9h-0.9zM80.9 250.2h0.9v0.9h-0.9zM87.2 250.1h0.9v0.9h-0.9zM84.7 246.2h0.9v0.9h-0.9zM84.8 253.0h0.9v0.9h-0.9zM88.8 253.6h0.9v0.9h-0.9zM85.3 252.8h0.9v0.9h-0.9zM87.5 251.1h0.9v0.9h-0.9zM92.2 250.9h0.9v0.9h-0.9zM87.8 245.1h0.9v0.9h-0.9zM89.2 253.5h0.9v0.9h-0.9zM86.8 250.6h0.9v0.9h-0.9zM83.0 246.2h0.9v0.9h-0.9zM90.4 255.2h0.9v0.9h-0.9zM87.9 245.1h0.9v0.9h-0.9zM87.7 245.4h0.9v0.9h-0.9zM88.1 257.4h0.9v0.9h-0.9zM90.0 250.3h0.9v0.9h-0.9zM92.6 249.5h0.9v0.9h-0.9zM90.1 251.5h0.9v0.9h-0.9zM90.5 245.8h0.9v0.9h-0.9zM91.4 253.8h0.9v0.9h-0.9zM81.2 241.5h0.9v0.9h-0.9zM85.9 255.9h0.9v0.9h-0.9zM89.1 253.1h0.9v0.9h-0.9zM90.9 253.9h0.9v0.9h-0.9zM86.8 248.8h0.9v0.9h-0.9zM90.3 252.9h0.9v0.9h-0.9zM91.0 252.0h0.9v0.9h-0.9zM87.3 254.6h0.9v0.9h-0.9zM90.6 254.5h0.9v0.9h-0.9zM80.3 254.3h0.9v0.9h-0.9zM80.6 251.5h0.9v0.9h-0.9zM86.7 251.2h0.9v0.9h-0.9zM87.4 249.7h0.9v0.9h-0.9zM89.7 252.0h0.9v0.9h-0.9zM86.2 242.1h0.9v0.9h-0.9zM86.3 252.7h0.9v0.9h-0.9zM86.1 252.3h0.9v0.9h-0.9zM87.7 247.5h0.9v0.9h-0.9zM93.0 256.5h0.9v0.9h-0.9zM88.6 250.6h0.9v0.9h-0.9zM92.3 246.2h0.9v0.9h-0.9zM86.0 254.7h0.9v0.9h-0.9zM92.1 249.1h0.9v0.9h-0.9zM86.3 252.0h0.9v0.9h-0.9zM84.1 249.1h0.9v0.9h-0.9zM88.2 242.3h0.9v0.9h-0.9zM91.0 253.4h0.9v0.9h-0.9zM92.7 245.8h0.9v0.9h-0.9zM84.6 248.0h0.9v0.9h-0.9zM84.5 257.9h0.9v0.9h-0.9zM85.6 249.7h0.9v0.9h-0.9zM89.7 252.4h0.9v0.9h-0.9zM94.0 247.0h0.9v0.9h-0.9zM92.0 251.3h0.9v0.9h-0.9zM84.9 251.3h0.9v0.9h-0.9zM84.1 256.4h0.9v0.9h-0.9zM86.5 254.3h0.9v0.9h-0.9zM93.5 248.7h0.9v0.9h-0.9zM85.9 251.3h0.9v0.9h-0.9zM85.4 253.9h0.9v0.9h-0.9zM89.6 248.1h0.9v0.9h-0.9zM86.6 253.3h0.9v0.9h-0.9zM84.0 256.7h0.9v0.9h-0.9zM86.3 250.1h0.9v0.9h-0.9zM85.8 256.4h0.9v0.9h-0.9zM91.9 255.3h0.9v0.9h-0.9zM91.3 251.1h0.9v0.9h-0.9zM94.9 253.1h0.9v0.9h-0.9zM90.5 252.8h0.9v0.9h-0.9zM91.6 251.8h0.9v0.9h-0.9zM88.4 245.2h0.9v0.9h-0.9zM96.2 246.3h0.9v0.9h-0.9zM81.5 248.3h0.9v0.9h-0.9zM95.7 255.1h0.9v0.9h-0.9zM86.9 251.7h0.9v0.9h-0.9zM88.9 243.9h0.9v0.9h-0.9zM87.8 251.8h0.9v0.9h-0.9zM93.1 246.6h0.9v0.9h-0.9zM81.1 245.3h0.9v0.9h-0.9zM90.2 251.1h0.9v0.9h-0.9zM89.5 251.3h0.9v0.9h-0.9zM87.7 246.0h0.9v0.9h-0.9zM90.6 252.1h0.9v0.9h-0.9zM91.0 255.2h0.9v0.9h-0.9zM84.7 242.6h0.9v0.9h-0.9zM82.8 258.3h0.9v0.9h-0.9zM85.8 252.2h0.9v0.9h-0.9zM88.9 253.3h0.9v0.9h-0.9zM100.2 249.0h0.9v0.9h-0.9zM88.4 248.7h0.9v0.9h-0.9zM89.9 252.6h0.9v0.9h-0.9zM85.6 255.4h0.9v0.9h-0.9zM93.0 252.4h0.9v0.9h-0.9zM88.6 250.0h0.9v0.9h-0.9zM83.2 253.1h0.9v0.9h-0.9zM85.6 249.0h0.9v0.9h-0.9zM92.5 247.6h0.9v0.9h-0.9zM87.2 253.8h0.9v0.9h-0.9zM95.5 248.4h0.9v0.9h-0.9zM92.9 248.5h0.9v0.9h-0.9zM90.4 252.5h0.9v0.9h-0.9zM85.0 254.4h0.9v0.9h-0.9zM95.3 251.0h0.9v0.9h-0.9zM89.9 246.7h0.9v0.9h-0.9zM95.3 251.0h0.9v0.9h-0.9zM84.5 253.5h0.9v0.9h-0.9zM83.9 248.4h0.9v0.9h-0.9zM81.5 255.6h0.9v0.9h-0.9zM96.7 248.6h0.9v0.9h-0.9zM86.7 248.8h0.9v0.9h-0.9zM87.0 252.7h0.9v0.9h-0.9zM94.1 247.3h0.9v0.9h-0.9zM90.5 244.5h0.9v0.9h-0.9zM94.3 250.5h0.9v0.9h-0.9zM86.5 256.2h0.9v0.9h-0.9zM88.6 255.6h0.9v0.9h-0.9zM92.8 256.6h0.9v0.9h-0.9zM86.2 251.0h0.9v0.9h-0.9zM90.3 250.1h0.9v0.9h-0.9zM94.3 248.3h0.9v0.9h-0.9zM92.5 255.6h0.9v0.9h-0.9zM82.2 247.4h0.9v0.9h-0.9zM85.8 248.9h0.9v0.9h-0.9zM90.4 250.2h0.9v0.9h-0.9zM89.3 249.2h0.9v0.9h-0.9zM88.7 252.5h0.9v0.9h-0.9zM91.6 248.1h0.9v0.9h-0.9zM88.6 248.1h0.9v0.9h-0.9zM88.4 245.8h0.9v0.9h-0.9zM92.3 253.2h0.9v0.9h-0.9zM88.6 248.4h0.9v0.9h-0.9zM87.4 248.5h0.9v0.9h-0.9zM83.6 256.5h0.9v0.9h-0.9zM100.5 246.5h0.9v0.9h-0.9zM84.9 252.8h0.9v0.9h-0.9zM91.1 245.3h0.9v0.9h-0.9zM82.3 252.7h0.9v0.9h-0.9zM82.0 255.8h0.9v0.9h-0.9zM87.3 251.1h0.9v0.9h-0.9zM89.0 248.8h0.9v0.9h-0.9zM88.5 249.8h0.9v0.9h-0.9zM93.4 250.5h0.9v0.9h-0.9zM88.9 248.9h0.9v0.9h-0.9zM86.8 248.2h0.9v0.9h-0.9zM89.0 257.2h0.9v0.9h-0.9zM92.9 251.6h0.9v0.9h-0.9zM94.8 254.3h0.9v0.9h-0.9zM89.7 250.2h0.9v0.9h-0.9zM85.2 251.7h0.9v0.9h-0.9zM87.9 245.3h0.9v0.9h-0.9zM84.5 257.6h0.9v0.9h-0.9zM89.8 252.5h0.9v0.9h-0.9zM89.7 249.2h0.9v0.9h-0.9zM90.6 254.6h0.9v0.9h-0.9zM87.9 252.6h0.9v0.9h-0.9zM92.6 249.1h0.9v0.9h-0.9zM89.6 248.2h0.9v0.9h-0.9zM91.1 249.5h0.9v0.9h-0.9zM93.0 248.1h0.9v0.9h-0.9zM94.9 249.7h0.9v0.9h-0.9zM86.1 247.6h0.9v0.9h-0.9zM91.3 247.8h0.9v0.9h-0.9zM95.3 255.3h0.9v0.9h-0.9zM90.8 245.8h0.9v0.9h-0.9zM88.9 248.3h0.9v0.9h-0.9zM82.7 252.3h0.9v0.9h-0.9zM96.7 248.9h0.9v0.9h-0.9zM91.8 255.3h0.9v0.9h-0.9zM85.6 249.6h0.9v0.9h-0.9zM89.9 252.5h0.9v0.9h-0.9zM85.0 251.6h0.9v0.9h-0.9zM88.6 254.1h0.9v0.9h-0.9zM83.4 248.8h0.9v0.9h-0.9zM87.2 249.7h0.9v0.9h-0.9zM91.5 248.6h0.9v0.9h-0.9zM98.6 248.3h0.9v0.9h-0.9zM91.9 254.4h0.9v0.9h-0.9zM92.4 250.1h0.9v0.9h-0.9zM86.1 249.9h0.9v0.9h-0.9zM91.3 251.2h0.9v0.9h-0.9zM91.0 252.8h0.9v0.9h-0.9zM85.9 247.5h0.9v0.9h-0.9zM94.0 249.1h0.9v0.9h-0.9zM83.5 257.3h0.9v0.9h-0.9zM86.1 247.5h0.9v0.9h-0.9zM92.4 246.8h0.9v0.9h-0.9zM86.0 254.5h0.9v0.9h-0.9zM89.5 251.0h0.9v0.9h-0.9zM86.8 250.0h0.9v0.9h-0.9zM87.2 250.7h0.9v0.9h-0.9zM91.7 246.4h0.9v0.9h-0.9zM85.8 243.5h0.9v0.9h-0.9zM94.3 250.5h0.9v0.9h-0.9zM89.0 250.6h0.9v0.9h-0.9zM92.5 251.9h0.9v0.9h-0.9zM92.0 250.2h0.9v0.9h-0.9zM88.6 250.6h0.9v0.9h-0.9zM82.5 254.6h0.9v0.9h-0.9zM83.5 247.3h0.9v0.9h-0.9zM91.3 251.0h0.9v0.9h-0.9zM91.8 256.8h0.9v0.9h-0.9zM95.5 255.6h0.9v0.9h-0.9zM88.2 258.0h0.9v0.9h-0.9zM85.9 250.5h0.9v0.9h-0.9zM92.5 250.1h0.9v0.9h-0.9zM88.6 249.6h0.9v0.9h-0.9zM93.8 242.2h0.9v0.9h-0.9zM93.5 254.5h0.9v0.9h-0.9zM88.7 252.8h0.9v0.9h-0.9zM85.6 254.7h0.9v0.9h-0.9zM99.7 247.6h0.9v0.9h-0.9zM93.9 250.6h0.9v0.9h-0.9zM87.8 249.1h0.9v0.9h-0.9z" fill="#000" fill-opacity="0.8"/>
<path d="M83.6 244.7h0.9v0.9h-0.9zM84.9 253.8h0.9v0.9h-0.9zM87.3 253.4h0.9v0.9h-0.9zM73.6 246.3h0.9v0.9h-0.9zM89.7 256.0h0.9v0.9h-0.9zM76.4 248.1h0.9v0.9h-0.9zM77.0 254.3h0.9v0.9h-0.9zM87.6 251.2h0.9v0.9h-0.9zM80.1 252.7h0.9v0.9h-0.9zM85.2 247.3h0.9v0.9h-0.9zM87.5 247.7h0.9v0.9h-0.9zM92.1 254.1h0.9v0.9h-0.9zM79.8 253.9h0.9v0.9h-0.9zM85.5 247.5h0.9v0.9h-0.9zM78.1 242.7h0.9v0.9h-0.9zM76.5 252.7h0.9v0.9h-0.9zM94.1 247.9h0.9v0.9h-0.9zM86.2 252.7h0.9v0.9h-0.9zM90.9 253.2h0.9v0.9h-0.9zM94.2 254.8h0.9v0.9h-0.9zM79.3 253.0h0.9v0.9h-0.9zM67.4 250.1h0.9v0.9h-0.9zM85.2 253.9h0.9v0.9h-0.9zM82.7 255.2h0.9v0.9h-0.9zM94.9 246.8h0.9v0.9h-0.9zM80.9 252.3h0.9v0.9h-0.9zM88.7 251.7h0.9v0.9h-0.9zM91.2 245.1h0.9v0.9h-0.9zM90.8 256.8h0.9v0.9h-0.9zM93.3 253.1h0.9v0.9h-0.9zM83.2 253.0h0.9v0.9h-0.9zM84.4 243.1h0.9v0.9h-0.9zM80.5 250.8h0.9v0.9h-0.9zM81.1 246.3h0.9v0.9h-0.9zM83.3 249.1h0.9v0.9h-0.9zM85.5 250.8h0.9v0.9h-0.9zM86.3 256.0h0.9v0.9h-0.9zM86.0 253.0h0.9v0.9h-0.9zM75.8 236.3h0.9v0.9h-0.9zM82.0 254.4h0.9v0.9h-0.9zM82.5 247.9h0.9v0.9h-0.9zM75.7 255.5h0.9v0.9h-0.9zM81.0 252.2h0.9v0.9h-0.9zM93.5 253.7h0.9v0.9h-0.9zM101.8 250.3h0.9v0.9h-0.9zM92.2 254.5h0.9v0.9h-0.9zM80.1 251.2h0.9v0.9h-0.9zM80.8 245.9h0.9v0.9h-0.9zM87.2 247.1h0.9v0.9h-0.9zM97.6 247.3h0.9v0.9h-0.9zM80.9 251.5h0.9v0.9h-0.9zM81.1 251.3h0.9v0.9h-0.9zM80.4 243.9h0.9v0.9h-0.9zM66.9 244.6h0.9v0.9h-0.9zM96.4 253.2h0.9v0.9h-0.9zM86.2 248.7h0.9v0.9h-0.9zM83.9 252.5h0.9v0.9h-0.9zM74.6 247.0h0.9v0.9h-0.9zM78.3 257.3h0.9v0.9h-0.9zM77.1 256.9h0.9v0.9h-0.9zM84.4 251.2h0.9v0.9h-0.9zM95.1 255.4h0.9v0.9h-0.9zM92.0 245.7h0.9v0.9h-0.9zM84.2 248.6h0.9v0.9h-0.9zM76.8 256.1h0.9v0.9h-0.9zM87.2 251.0h0.9v0.9h-0.9zM91.6 250.9h0.9v0.9h-0.9zM96.1 246.2h0.9v0.9h-0.9zM91.6 246.0h0.9v0.9h-0.9zM95.6 249.6h0.9v0.9h-0.9zM94.2 248.9h0.9v0.9h-0.9zM88.0 256.7h0.9v0.9h-0.9zM78.2 251.5h0.9v0.9h-0.9zM78.7 255.3h0.9v0.9h-0.9zM80.5 249.1h0.9v0.9h-0.9zM83.5 256.8h0.9v0.9h-0.9zM77.2 250.9h0.9v0.9h-0.9zM82.5 248.3h0.9v0.9h-0.9zM79.1 250.2h0.9v0.9h-0.9zM86.5 243.3h0.9v0.9h-0.9zM86.8 245.1h0.9v0.9h-0.9zM77.7 250.7h0.9v0.9h-0.9zM83.1 255.9h0.9v0.9h-0.9zM81.4 242.1h0.9v0.9h-0.9zM72.9 251.9h0.9v0.9h-0.9zM86.9 256.3h0.9v0.9h-0.9zM81.0 254.3h0.9v0.9h-0.9zM77.0 257.5h0.9v0.9h-0.9zM84.5 247.6h0.9v0.9h-0.9zM78.6 244.8h0.9v0.9h-0.9zM77.4 245.2h0.9v0.9h-0.9zM84.6 252.8h0.9v0.9h-0.9zM83.8 252.0h0.9v0.9h-0.9zM93.9 249.6h0.9v0.9h-0.9zM75.6 239.6h0.9v0.9h-0.9zM86.8 247.6h0.9v0.9h-0.9zM83.1 253.0h0.9v0.9h-0.9zM88.5 243.2h0.9v0.9h-0.9zM77.8 251.4h0.9v0.9h-0.9zM83.9 256.7h0.9v0.9h-0.9zM81.2 240.7h0.9v0.9h-0.9zM93.8 242.8h0.9v0.9h-0.9zM77.7 252.9h0.9v0.9h-0.9zM86.8 253.7h0.9v0.9h-0.9zM89.0 247.4h0.9v0.9h-0.9zM94.4 242.6h0.9v0.9h-0.9zM80.6 252.4h0.9v0.9h-0.9zM86.0 246.2h0.9v0.9h-0.9zM96.9 258.4h0.9v0.9h-0.9zM78.0 252.9h0.9v0.9h-0.9zM80.2 248.8h0.9v0.9h-0.9zM92.4 251.6h0.9v0.9h-0.9zM84.2 251.5h0.9v0.9h-0.9zM76.2 257.1h0.9v0.9h-0.9zM79.4 257.5h0.9v0.9h-0.9zM81.6 248.7h0.9v0.9h-0.9zM96.1 252.0h0.9v0.9h-0.9zM80.2 248.3h0.9v0.9h-0.9zM89.6 249.0h0.9v0.9h-0.9zM76.6 247.6h0.9v0.9h-0.9zM84.1 252.2h0.9v0.9h-0.9zM80.1 257.4h0.9v0.9h-0.9zM77.8 247.4h0.9v0.9h-0.9zM88.7 253.4h0.9v0.9h-0.9zM82.1 255.8h0.9v0.9h-0.9zM85.4 257.6h0.9v0.9h-0.9zM83.5 252.0h0.9v0.9h-0.9zM88.9 242.3h0.9v0.9h-0.9zM63.1 252.9h0.9v0.9h-0.9zM91.9 252.6h0.9v0.9h-0.9zM86.5 257.9h0.9v0.9h-0.9zM87.5 241.5h0.9v0.9h-0.9zM77.9 249.5h0.9v0.9h-0.9zM86.1 248.8h0.9v0.9h-0.9zM63.0 256.8h0.9v0.9h-0.9zM92.0 254.0h0.9v0.9h-0.9zM85.1 251.3h0.9v0.9h-0.9zM87.7 252.2h0.9v0.9h-0.9zM79.6 254.9h0.9v0.9h-0.9zM78.8 250.8h0.9v0.9h-0.9zM82.3 245.2h0.9v0.9h-0.9zM89.5 250.7h0.9v0.9h-0.9zM76.3 250.6h0.9v0.9h-0.9zM74.7 258.2h0.9v0.9h-0.9zM80.8 254.5h0.9v0.9h-0.9zM77.8 246.7h0.9v0.9h-0.9zM84.3 253.1h0.9v0.9h-0.9zM91.9 249.7h0.9v0.9h-0.9zM93.3 255.8h0.9v0.9h-0.9zM78.5 250.1h0.9v0.9h-0.9zM80.9 255.4h0.9v0.9h-0.9zM91.8 249.7h0.9v0.9h-0.9zM81.4 252.7h0.9v0.9h-0.9zM79.2 244.7h0.9v0.9h-0.9zM77.8 252.7h0.9v0.9h-0.9zM71.3 253.5h0.9v0.9h-0.9zM76.4 256.8h0.9v0.9h-0.9zM90.2 251.6h0.9v0.9h-0.9zM96.0 249.1h0.9v0.9h-0.9zM81.0 245.8h0.9v0.9h-0.9zM80.1 251.6h0.9v0.9h-0.9zM90.0 257.4h0.9v0.9h-0.9zM83.0 247.4h0.9v0.9h-0.9zM82.5 248.9h0.9v0.9h-0.9zM81.5 249.0h0.9v0.9h-0.9zM78.5 250.7h0.9v0.9h-0.9zM81.2 250.2h0.9v0.9h-0.9zM74.7 251.7h0.9v0.9h-0.9zM89.3 254.2h0.9v0.9h-0.9zM80.9 245.3h0.9v0.9h-0.9zM75.3 245.2h0.9v0.9h-0.9zM80.2 249.5h0.9v0.9h-0.9zM71.8 254.3h0.9v0.9h-0.9zM73.5 247.6h0.9v0.9h-0.9zM79.6 255.1h0.9v0.9h-0.9zM98.7 249.2h0.9v0.9h-0.9zM83.0 249.1h0.9v0.9h-0.9zM83.5 250.2h0.9v0.9h-0.9zM103.4 245.6h0.9v0.9h-0.9zM84.2 247.1h0.9v0.9h-0.9zM87.7 248.4h0.9v0.9h-0.9zM89.3 245.6h0.9v0.9h-0.9zM100.7 252.0h0.9v0.9h-0.9zM71.9 254.5h0.9v0.9h-0.9zM81.5 245.3h0.9v0.9h-0.9zM88.3 248.4h0.9v0.9h-0.9zM90.5 248.3h0.9v0.9h-0.9zM91.7 251.7h0.9v0.9h-0.9zM87.7 251.8h0.9v0.9h-0.9zM82.3 249.2h0.9v0.9h-0.9zM88.4 254.5h0.9v0.9h-0.9zM97.6 245.3h0.9v0.9h-0.9zM93.1 250.7h0.9v0.9h-0.9zM86.7 247.1h0.9v0.9h-0.9zM97.3 246.9h0.9v0.9h-0.9zM84.4 247.4h0.9v0.9h-0.9zM99.3 257.2h0.9v0.9h-0.9zM75.2 248.8h0.9v0.9h-0.9zM87.7 248.9h0.9v0.9h-0.9zM82.4 245.7h0.9v0.9h-0.9zM86.9 245.6h0.9v0.9h-0.9z" fill="#000" fill-opacity="0.35"/>
<line x1="55.2" y1="327.5" x2="55.2" y2="329.9" stroke="#333" stroke-width="0.9"/>
<text x="52.4" y="335.4" font-size="4.8" font-weight="normal" text-anchor="start" fill="#333">10</text>
<text x="57.5" y="333.1" font-size="3.2" font-weight="normal" text-anchor="start" fill="#333">2</text>
<line x1="60.41" y1="327.5" x2="60.41" y2="329.1" stroke="#444" stroke-width="0.8"/>
<line x1="63.45" y1="327.5" x2="63.45" y2="329.1" stroke="#444" stroke-width="0.8"/>
<line x1="65.62" y1="327.5" x2="65.62" y2="329.1" stroke="#444" stroke-width="0.8"/>
<line x1="67.29" y1="327.5" x2="67.29" y2="329.1" stroke="#444" stroke-width="0.8"/>
<line x1="68.66" y1="327.5" x2="68.66" y2="329.1" stroke="#444" stroke-width="0.8"/>
<line x1="69.82" y1="327.5" x2="69.82" y2="329.1" stroke="#444" stroke-width="0.8"/>
<line x1="70.82" y1="327.5" x2="70.82" y2="329.1" stroke="#444" stroke-width="0.8"/>
<line x1="71.71" y1="327.5" x2="71.71" y2="329.1" stroke="#444" stroke-width="0.8"/>
<line x1="72.5" y1="327.5" x2="72.5" y2="329.9" stroke="#333" stroke-width="0.9"/>
<text x="69.7" y="335.4" font-size="4.8" font-weight="normal" text-anchor="start" fill="#333">10</text>
<text x="74.8" y="333.1" font-size="3.2" font-weight="normal" text-anchor="start" fill="#333">3</text>
<line x1="77.71" y1="327.5" x2="77.71" y2="329.1" stroke="#444" stroke-width="0.8"/>
<line x1="80.75" y1="327.5" x2="80.75" y2="329.1" stroke="#444" stroke-width="0.8"/>
<line x1="82.92" y1="327.5" x2="82.92" y2="329.1" stroke="#444" stroke-width="0.8"/>
<line x1="84.59" y1="327.5" x2="84.59" y2="329.1" stroke="#444" stroke-width="0.8"/>
<line x1="85.96" y1="327.5" x2="85.96" y2="329.1" stroke="#444" stroke-width="0.8"/>
<line x1="87.12" y1="327.5" x2="87.12" y2="329.1" stroke="#444" stroke-width="0.8"/>
<line x1="88.12" y1="327.5" x2="88.12" y2="329.1" stroke="#444" stroke-width="0.8"/>
<line x1="89.01" y1="327.5" x2="89.01" y2="329.1" stroke="#444" stroke-width="0.8"/>
<line x1="89.8" y1="327.5" x2="89.8" y2="329.9" stroke="#333" stroke-width="0.9"/>
<text x="87" y="335.4" font-size="4.8" font-weight="normal" text-anchor="start" fill="#333">10</text>
<text x="92.1" y="333.1" font-size="3.2" font-weight="normal" text-anchor="start" fill="#333">4</text>
<line x1="95.01" y1="327.5" x2="95.01" y2="329.1" stroke="#444" stroke-width="0.8"/>
<line x1="98.05" y1="327.5" x2="98.05" y2="329.1" stroke="#444" stroke-width="0.8"/>
<line x1="100.22" y1="327.5" x2="100.22" y2="329.1" stroke="#444" stroke-width="0.8"/>
<line x1="101.89" y1="327.5" x2="101.89" y2="329.1" stroke="#444" stroke-width="0.8"/>
<line x1="103.26" y1="327.5" x2="103.26" y2="329.1" stroke="#444" stroke-width="0.8"/>
<line x1="104.42" y1="327.5" x2="104.42" y2="329.1" stroke="#444" stroke-width="0.8"/>
<line x1="105.42" y1="327.5" x2="105.42" y2="329.1" stroke="#444" stroke-width="0.8"/>
<line x1="106.31" y1="327.5" x2="106.31" y2="329.1" stroke="#444" stroke-width="0.8"/>
<line x1="107.1" y1="327.5" x2="107.1" y2="329.9" stroke="#333" stroke-width="0.9"/>
<text x="104.3" y="335.4" font-size="4.8" font-weight="normal" text-anchor="start" fill="#333">10</text>
<text x="109.4" y="333.1" font-size="3.2" font-weight="normal" text-anchor="start" fill="#333">5</text>
<line x1="42.7" y1="318" x2="46.1" y2="318" stroke="#333" stroke-width="0.9"/>
<text transform="translate(41.1,320.6) rotate(-90)" font-size="4.8" fill="#333">10<tspan font-size="3.2" dy="-1.9">2</tspan></text>
<line x1="44.5" y1="313.79" x2="46.1" y2="313.79" stroke="#444" stroke-width="0.8"/>
<line x1="44.5" y1="311.32" x2="46.1" y2="311.32" stroke="#444" stroke-width="0.8"/>
<line x1="44.5" y1="309.57" x2="46.1" y2="309.57" stroke="#444" stroke-width="0.8"/>
<line x1="44.5" y1="308.21" x2="46.1" y2="308.21" stroke="#444" stroke-width="0.8"/>
<line x1="44.5" y1="307.11" x2="46.1" y2="307.11" stroke="#444" stroke-width="0.8"/>
<line x1="44.5" y1="306.17" x2="46.1" y2="306.17" stroke="#444" stroke-width="0.8"/>
<line x1="44.5" y1="305.36" x2="46.1" y2="305.36" stroke="#444" stroke-width="0.8"/>
<line x1="44.5" y1="304.64" x2="46.1" y2="304.64" stroke="#444" stroke-width="0.8"/>
<line x1="42.7" y1="304" x2="46.1" y2="304" stroke="#333" stroke-width="0.9"/>
<text transform="translate(41.1,306.6) rotate(-90)" font-size="4.8" fill="#333">10<tspan font-size="3.2" dy="-1.9">3</tspan></text>
<line x1="44.5" y1="299.79" x2="46.1" y2="299.79" stroke="#444" stroke-width="0.8"/>
<line x1="44.5" y1="297.32" x2="46.1" y2="297.32" stroke="#444" stroke-width="0.8"/>
<line x1="44.5" y1="295.57" x2="46.1" y2="295.57" stroke="#444" stroke-width="0.8"/>
<line x1="44.5" y1="294.21" x2="46.1" y2="294.21" stroke="#444" stroke-width="0.8"/>
<line x1="44.5" y1="293.11" x2="46.1" y2="293.11" stroke="#444" stroke-width="0.8"/>
<line x1="44.5" y1="292.17" x2="46.1" y2="292.17" stroke="#444" stroke-width="0.8"/>
<line x1="44.5" y1="291.36" x2="46.1" y2="291.36" stroke="#444" stroke-width="0.8"/>
<line x1="44.5" y1="290.64" x2="46.1" y2="290.64" stroke="#444" stroke-width="0.8"/>
<line x1="42.7" y1="290" x2="46.1" y2="290" stroke="#333" stroke-width="0.9"/>
<text transform="translate(41.1,292.6) rotate(-90)" font-size="4.8" fill="#333">10<tspan font-size="3.2" dy="-1.9">4</tspan></text>
<line x1="44.5" y1="285.79" x2="46.1" y2="285.79" stroke="#444" stroke-width="0.8"/>
<line x1="44.5" y1="283.32" x2="46.1" y2="283.32" stroke="#444" stroke-width="0.8"/>
<line x1="44.5" y1="281.57" x2="46.1" y2="281.57" stroke="#444" stroke-width="0.8"/>
<line x1="44.5" y1="280.21" x2="46.1" y2="280.21" stroke="#444" stroke-width="0.8"/>
<line x1="44.5" y1="279.11" x2="46.1" y2="279.11" stroke="#444" stroke-width="0.8"/>
<line x1="44.5" y1="278.17" x2="46.1" y2="278.17" stroke="#444" stroke-width="0.8"/>
<line x1="44.5" y1="277.36" x2="46.1" y2="277.36" stroke="#444" stroke-width="0.8"/>
<line x1="44.5" y1="276.64" x2="46.1" y2="276.64" stroke="#444" stroke-width="0.8"/>
<line x1="42.7" y1="276" x2="46.1" y2="276" stroke="#333" stroke-width="0.9"/>
<text transform="translate(41.1,278.6) rotate(-90)" font-size="4.8" fill="#333">10<tspan font-size="3.2" dy="-1.9">5</tspan></text>
<rect x="46.1" y="270.7" width="70" height="56.8" fill="none" stroke="#888" stroke-width="1"/>
<line x1="67.5" y1="270.7" x2="67.5" y2="327.5" stroke="#888" stroke-width="1"/>
<line x1="46.1" y1="311.3" x2="116.1" y2="311.3" stroke="#888" stroke-width="1"/>
<text x="51.3" y="301.9" font-size="5.4" font-weight="normal" text-anchor="start" fill="#666">Q1</text>
<text x="75.5" y="301.9" font-size="5.4" font-weight="normal" text-anchor="start" fill="#666">Q2</text>
<text x="51.3" y="322.6" font-size="5.4" font-weight="normal" text-anchor="start" fill="#666">Q3</text>
<text x="75.5" y="322.6" font-size="5.4" font-weight="normal" text-anchor="start" fill="#666">Q4</text>
<path d="M52.6 322.8h0.9v0.9h-0.9zM63.6 315.6h0.9v0.9h-0.9zM60.9 317.7h0.9v0.9h-0.9zM51.5 315.2h0.9v0.9h-0.9zM66.1 317.3h0.9v0.9h-0.9zM57.2 319.3h0.9v0.9h-0.9zM47.5 322.9h0.9v0.9h-0.9zM61.9 324.7h0.9v0.9h-0.9zM54.1 315.0h0.9v0.9h-0.9zM53.9 322.6h0.9v0.9h-0.9zM60.2 317.9h0.9v0.9h-0.9zM57.5 314.2h0.9v0.9h-0.9zM65.4 318.8h0.9v0.9h-0.9zM57.1 323.4h0.9v0.9h-0.9zM51.0 322.5h0.9v0.9h-0.9zM54.1 323.8h0.9v0.9h-0.9zM48.9 316.0h0.9v0.9h-0.9zM59.7 319.0h0.9v0.9h-0.9zM54.5 320.4h0.9v0.9h-0.9zM51.4 318.3h0.9v0.9h-0.9zM47.0 323.6h0.9v0.9h-0.9zM52.1 324.0h0.9v0.9h-0.9zM58.0 320.7h0.9v0.9h-0.9zM59.5 313.8h0.9v0.9h-0.9zM62.5 316.2h0.9v0.9h-0.9zM64.3 323.4h0.9v0.9h-0.9zM60.6 323.8h0.9v0.9h-0.9zM55.7 321.8h0.9v0.9h-0.9zM66.1 314.7h0.9v0.9h-0.9zM49.0 318.0h0.9v0.9h-0.9zM57.2 314.2h0.9v0.9h-0.9zM51.4 324.6h0.9v0.9h-0.9zM54.8 314.2h0.9v0.9h-0.9zM50.7 320.4h0.9v0.9h-0.9zM50.8 318.9h0.9v0.9h-0.9zM57.8 318.4h0.9v0.9h-0.9zM57.1 324.1h0.9v0.9h-0.9zM47.3 325.5h0.9v0.9h-0.9zM51.0 312.6h0.9v0.9h-0.9zM62.4 320.3h0.9v0.9h-0.9zM57.8 315.2h0.9v0.9h-0.9zM62.6 316.4h0.9v0.9h-0.9zM61.5 315.3h0.9v0.9h-0.9zM58.5 321.4h0.9v0.9h-0.9zM54.4 319.0h0.9v0.9h-0.9zM48.3 321.3h0.9v0.9h-0.9zM60.8 314.2h0.9v0.9h-0.9zM58.0 322.6h0.9v0.9h-0.9zM49.0 324.2h0.9v0.9h-0.9zM64.4 312.7h0.9v0.9h-0.9zM52.0 313.2h0.9v0.9h-0.9zM52.1 313.3h0.9v0.9h-0.9zM56.8 315.6h0.9v0.9h-0.9zM53.0 318.7h0.9v0.9h-0.9zM54.4 323.4h0.9v0.9h-0.9zM61.5 313.7h0.9v0.9h-0.9zM51.5 312.1h0.9v0.9h-0.9zM53.6 313.6h0.9v0.9h-0.9zM60.9 323.3h0.9v0.9h-0.9zM66.9 315.0h0.9v0.9h-0.9z" fill="#000" fill-opacity="0.3"/>
<path d="M68.7 323.0h0.9v0.9h-0.9zM85.5 325.5h0.9v0.9h-0.9zM84.7 316.5h0.9v0.9h-0.9zM70.3 325.7h0.9v0.9h-0.9zM90.0 318.4h0.9v0.9h-0.9zM86.7 323.1h0.9v0.9h-0.9zM104.4 318.9h0.9v0.9h-0.9zM75.0 317.9h0.9v0.9h-0.9zM107.1 317.9h0.9v0.9h-0.9zM96.7 320.1h0.9v0.9h-0.9zM87.8 320.3h0.9v0.9h-0.9zM78.0 320.1h0.9v0.9h-0.9zM105.9 313.2h0.9v0.9h-0.9zM83.6 324.8h0.9v0.9h-0.9zM111.0 312.2h0.9v0.9h-0.9zM95.2 321.2h0.9v0.9h-0.9zM104.9 318.8h0.9v0.9h-0.9zM72.9 316.4h0.9v0.9h-0.9zM99.1 322.6h0.9v0.9h-0.9zM76.2 321.3h0.9v0.9h-0.9zM96.6 321.5h0.9v0.9h-0.9zM68.0 318.4h0.9v0.9h-0.9zM81.6 320.7h0.9v0.9h-0.9zM82.2 313.9h0.9v0.9h-0.9zM97.2 316.2h0.9v0.9h-0.9zM102.6 316.4h0.9v0.9h-0.9zM91.6 323.7h0.9v0.9h-0.9zM72.2 322.6h0.9v0.9h-0.9zM70.1 325.6h0.9v0.9h-0.9zM68.1 322.5h0.9v0.9h-0.9zM83.6 314.6h0.9v0.9h-0.9zM84.8 319.3h0.9v0.9h-0.9zM85.7 313.8h0.9v0.9h-0.9zM90.5 316.4h0.9v0.9h-0.9zM110.5 317.6h0.9v0.9h-0.9zM86.6 315.3h0.9v0.9h-0.9zM110.6 316.7h0.9v0.9h-0.9zM96.1 324.1h0.9v0.9h-0.9zM84.7 323.0h0.9v0.9h-0.9zM79.5 313.6h0.9v0.9h-0.9zM68.9 318.5h0.9v0.9h-0.9zM106.3 314.9h0.9v0.9h-0.9zM86.8 323.1h0.9v0.9h-0.9zM79.4 314.2h0.9v0.9h-0.9zM90.4 318.2h0.9v0.9h-0.9zM109.2 325.0h0.9v0.9h-0.9zM77.7 320.1h0.9v0.9h-0.9zM85.7 312.5h0.9v0.9h-0.9zM87.0 325.3h0.9v0.9h-0.9zM80.6 320.5h0.9v0.9h-0.9zM99.0 312.9h0.9v0.9h-0.9zM108.6 313.6h0.9v0.9h-0.9zM80.6 322.4h0.9v0.9h-0.9zM67.9 317.4h0.9v0.9h-0.9zM72.7 318.9h0.9v0.9h-0.9zM67.7 314.2h0.9v0.9h-0.9zM77.0 313.2h0.9v0.9h-0.9zM71.1 314.8h0.9v0.9h-0.9zM90.3 314.0h0.9v0.9h-0.9zM104.0 318.0h0.9v0.9h-0.9zM78.3 315.5h0.9v0.9h-0.9zM104.8 312.7h0.9v0.9h-0.9zM100.4 313.4h0.9v0.9h-0.9zM109.5 317.9h0.9v0.9h-0.9zM93.9 324.5h0.9v0.9h-0.9zM71.5 312.9h0.9v0.9h-0.9zM98.2 320.5h0.9v0.9h-0.9zM99.4 316.0h0.9v0.9h-0.9zM89.4 314.7h0.9v0.9h-0.9zM86.7 316.1h0.9v0.9h-0.9zM93.4 316.3h0.9v0.9h-0.9zM79.4 321.3h0.9v0.9h-0.9zM70.8 323.6h0.9v0.9h-0.9zM89.3 315.3h0.9v0.9h-0.9zM72.2 319.4h0.9v0.9h-0.9zM89.7 322.4h0.9v0.9h-0.9zM83.8 318.0h0.9v0.9h-0.9zM107.2 316.0h0.9v0.9h-0.9zM111.1 324.9h0.9v0.9h-0.9zM111.6 325.7h0.9v0.9h-0.9zM78.6 323.8h0.9v0.9h-0.9zM94.5 315.0h0.9v0.9h-0.9zM111.9 321.4h0.9v0.9h-0.9zM103.4 320.1h0.9v0.9h-0.9zM70.6 324.5h0.9v0.9h-0.9zM74.9 315.8h0.9v0.9h-0.9zM94.7 314.8h0.9v0.9h-0.9zM87.8 322.3h0.9v0.9h-0.9zM71.3 321.6h0.9v0.9h-0.9zM71.7 318.9h0.9v0.9h-0.9z" fill="#000" fill-opacity="0.3"/>
<path d="M51.6 311.9h0.9v0.9h-0.9zM60.8 315.4h0.9v0.9h-0.9zM62.8 314.4h0.9v0.9h-0.9zM51.8 316.1h0.9v0.9h-0.9zM53.7 311.1h0.9v0.9h-0.9zM53.4 312.9h0.9v0.9h-0.9zM50.5 313.7h0.9v0.9h-0.9zM62.6 320.6h0.9v0.9h-0.9zM67.1 314.1h0.9v0.9h-0.9zM63.7 314.9h0.9v0.9h-0.9zM59.4 313.4h0.9v0.9h-0.9zM56.6 311.0h0.9v0.9h-0.9zM67.5 313.2h0.9v0.9h-0.9zM60.4 313.6h0.9v0.9h-0.9zM58.6 312.2h0.9v0.9h-0.9zM54.8 317.2h0.9v0.9h-0.9zM60.5 310.4h0.9v0.9h-0.9zM62.0 311.9h0.9v0.9h-0.9zM58.7 316.3h0.9v0.9h-0.9zM53.2 314.3h0.9v0.9h-0.9zM55.6 316.0h0.9v0.9h-0.9zM62.4 318.3h0.9v0.9h-0.9zM58.9 319.8h0.9v0.9h-0.9zM51.4 319.3h0.9v0.9h-0.9zM55.5 316.9h0.9v0.9h-0.9zM56.3 315.2h0.9v0.9h-0.9zM51.6 316.0h0.9v0.9h-0.9zM68.9 315.4h0.9v0.9h-0.9zM56.9 315.1h0.9v0.9h-0.9zM61.2 314.6h0.9v0.9h-0.9zM57.0 315.6h0.9v0.9h-0.9zM64.7 317.3h0.9v0.9h-0.9zM50.8 313.5h0.9v0.9h-0.9zM57.1 317.1h0.9v0.9h-0.9zM62.7 314.5h0.9v0.9h-0.9zM69.5 314.7h0.9v0.9h-0.9zM65.3 318.4h0.9v0.9h-0.9zM66.4 315.5h0.9v0.9h-0.9zM60.4 311.4h0.9v0.9h-0.9z" fill="#000" fill-opacity="0.3"/>
<line x1="164.2" y1="259.5" x2="164.2" y2="261.9" stroke="#333" stroke-width="0.9"/>
<text x="161.4" y="267.4" font-size="4.8" font-weight="normal" text-anchor="start" fill="#333">10</text>
<text x="166.5" y="265.1" font-size="3.2" font-weight="normal" text-anchor="start" fill="#333">2</text>
<line x1="169.71" y1="259.5" x2="169.71" y2="261.1" stroke="#444" stroke-width="0.8"/>
<line x1="172.93" y1="259.5" x2="172.93" y2="261.1" stroke="#444" stroke-width="0.8"/>
<line x1="175.22" y1="259.5" x2="175.22" y2="261.1" stroke="#444" stroke-width="0.8"/>
<line x1="176.99" y1="259.5" x2="176.99" y2="261.1" stroke="#444" stroke-width="0.8"/>
<line x1="178.44" y1="259.5" x2="178.44" y2="261.1" stroke="#444" stroke-width="0.8"/>
<line x1="179.67" y1="259.5" x2="179.67" y2="261.1" stroke="#444" stroke-width="0.8"/>
<line x1="180.73" y1="259.5" x2="180.73" y2="261.1" stroke="#444" stroke-width="0.8"/>
<line x1="181.66" y1="259.5" x2="181.66" y2="261.1" stroke="#444" stroke-width="0.8"/>
<line x1="182.5" y1="259.5" x2="182.5" y2="261.9" stroke="#333" stroke-width="0.9"/>
<text x="179.7" y="267.4" font-size="4.8" font-weight="normal" text-anchor="start" fill="#333">10</text>
<text x="184.8" y="265.1" font-size="3.2" font-weight="normal" text-anchor="start" fill="#333">3</text>
<line x1="187.71" y1="259.5" x2="187.71" y2="261.1" stroke="#444" stroke-width="0.8"/>
<line x1="190.75" y1="259.5" x2="190.75" y2="261.1" stroke="#444" stroke-width="0.8"/>
<line x1="192.92" y1="259.5" x2="192.92" y2="261.1" stroke="#444" stroke-width="0.8"/>
<line x1="194.59" y1="259.5" x2="194.59" y2="261.1" stroke="#444" stroke-width="0.8"/>
<line x1="195.96" y1="259.5" x2="195.96" y2="261.1" stroke="#444" stroke-width="0.8"/>
<line x1="197.12" y1="259.5" x2="197.12" y2="261.1" stroke="#444" stroke-width="0.8"/>
<line x1="198.12" y1="259.5" x2="198.12" y2="261.1" stroke="#444" stroke-width="0.8"/>
<line x1="199.01" y1="259.5" x2="199.01" y2="261.1" stroke="#444" stroke-width="0.8"/>
<line x1="199.8" y1="259.5" x2="199.8" y2="261.9" stroke="#333" stroke-width="0.9"/>
<text x="197" y="267.4" font-size="4.8" font-weight="normal" text-anchor="start" fill="#333">10</text>
<text x="202.1" y="265.1" font-size="3.2" font-weight="normal" text-anchor="start" fill="#333">4</text>
<line x1="205.31" y1="259.5" x2="205.31" y2="261.1" stroke="#444" stroke-width="0.8"/>
<line x1="208.53" y1="259.5" x2="208.53" y2="261.1" stroke="#444" stroke-width="0.8"/>
<line x1="210.82" y1="259.5" x2="210.82" y2="261.1" stroke="#444" stroke-width="0.8"/>
<line x1="212.59" y1="259.5" x2="212.59" y2="261.1" stroke="#444" stroke-width="0.8"/>
<line x1="214.04" y1="259.5" x2="214.04" y2="261.1" stroke="#444" stroke-width="0.8"/>
<line x1="215.27" y1="259.5" x2="215.27" y2="261.1" stroke="#444" stroke-width="0.8"/>
<line x1="216.33" y1="259.5" x2="216.33" y2="261.1" stroke="#444" stroke-width="0.8"/>
<line x1="217.26" y1="259.5" x2="217.26" y2="261.1" stroke="#444" stroke-width="0.8"/>
<line x1="218.1" y1="259.5" x2="218.1" y2="261.9" stroke="#333" stroke-width="0.9"/>
<text x="215.3" y="267.4" font-size="4.8" font-weight="normal" text-anchor="start" fill="#333">10</text>
<text x="220.4" y="265.1" font-size="3.2" font-weight="normal" text-anchor="start" fill="#333">5</text>
<line x1="151" y1="251.7" x2="154.4" y2="251.7" stroke="#333" stroke-width="0.9"/>
<text transform="translate(149.4,254.3) rotate(-90)" font-size="4.8" fill="#333">10<tspan font-size="3.2" dy="-1.9">2</tspan></text>
<line x1="152.8" y1="247.37" x2="154.4" y2="247.37" stroke="#444" stroke-width="0.8"/>
<line x1="152.8" y1="244.83" x2="154.4" y2="244.83" stroke="#444" stroke-width="0.8"/>
<line x1="152.8" y1="243.03" x2="154.4" y2="243.03" stroke="#444" stroke-width="0.8"/>
<line x1="152.8" y1="241.63" x2="154.4" y2="241.63" stroke="#444" stroke-width="0.8"/>
<line x1="152.8" y1="240.49" x2="154.4" y2="240.49" stroke="#444" stroke-width="0.8"/>
<line x1="152.8" y1="239.53" x2="154.4" y2="239.53" stroke="#444" stroke-width="0.8"/>
<line x1="152.8" y1="238.7" x2="154.4" y2="238.7" stroke="#444" stroke-width="0.8"/>
<line x1="152.8" y1="237.96" x2="154.4" y2="237.96" stroke="#444" stroke-width="0.8"/>
<line x1="151" y1="237.3" x2="154.4" y2="237.3" stroke="#333" stroke-width="0.9"/>
<text transform="translate(149.4,239.9) rotate(-90)" font-size="4.8" fill="#333">10<tspan font-size="3.2" dy="-1.9">3</tspan></text>
<line x1="152.8" y1="233.09" x2="154.4" y2="233.09" stroke="#444" stroke-width="0.8"/>
<line x1="152.8" y1="230.62" x2="154.4" y2="230.62" stroke="#444" stroke-width="0.8"/>
<line x1="152.8" y1="228.87" x2="154.4" y2="228.87" stroke="#444" stroke-width="0.8"/>
<line x1="152.8" y1="227.51" x2="154.4" y2="227.51" stroke="#444" stroke-width="0.8"/>
<line x1="152.8" y1="226.41" x2="154.4" y2="226.41" stroke="#444" stroke-width="0.8"/>
<line x1="152.8" y1="225.47" x2="154.4" y2="225.47" stroke="#444" stroke-width="0.8"/>
<line x1="152.8" y1="224.66" x2="154.4" y2="224.66" stroke="#444" stroke-width="0.8"/>
<line x1="152.8" y1="223.94" x2="154.4" y2="223.94" stroke="#444" stroke-width="0.8"/>
<line x1="151" y1="223.3" x2="154.4" y2="223.3" stroke="#333" stroke-width="0.9"/>
<text transform="translate(149.4,225.9) rotate(-90)" font-size="4.8" fill="#333">10<tspan font-size="3.2" dy="-1.9">4</tspan></text>
<line x1="152.8" y1="218.87" x2="154.4" y2="218.87" stroke="#444" stroke-width="0.8"/>
<line x1="152.8" y1="216.29" x2="154.4" y2="216.29" stroke="#444" stroke-width="0.8"/>
<line x1="152.8" y1="214.45" x2="154.4" y2="214.45" stroke="#444" stroke-width="0.8"/>
<line x1="152.8" y1="213.03" x2="154.4" y2="213.03" stroke="#444" stroke-width="0.8"/>
<line x1="152.8" y1="211.86" x2="154.4" y2="211.86" stroke="#444" stroke-width="0.8"/>
<line x1="152.8" y1="210.88" x2="154.4" y2="210.88" stroke="#444" stroke-width="0.8"/>
<line x1="152.8" y1="210.02" x2="154.4" y2="210.02" stroke="#444" stroke-width="0.8"/>
<line x1="152.8" y1="209.27" x2="154.4" y2="209.27" stroke="#444" stroke-width="0.8"/>
<line x1="151" y1="208.6" x2="154.4" y2="208.6" stroke="#333" stroke-width="0.9"/>
<text transform="translate(149.4,211.2) rotate(-90)" font-size="4.8" fill="#333">10<tspan font-size="3.2" dy="-1.9">5</tspan></text>
<rect x="154.4" y="202.1" width="73.1" height="57.4" fill="none" stroke="#888" stroke-width="1"/>
<line x1="176.9" y1="202.1" x2="176.9" y2="259.5" stroke="#888" stroke-width="1"/>
<line x1="154.4" y1="240.5" x2="227.5" y2="240.5" stroke="#888" stroke-width="1"/>
<text x="160.5" y="230.8" font-size="5.4" font-weight="normal" text-anchor="start" fill="#666">Q1</text>
<text x="185.5" y="230.8" font-size="5.4" font-weight="normal" text-anchor="start" fill="#666">Q2</text>
<text x="160.5" y="252.9" font-size="5.4" font-weight="normal" text-anchor="start" fill="#666">Q3</text>
<text x="185.5" y="252.9" font-size="5.4" font-weight="normal" text-anchor="start" fill="#666">Q4</text>
<path d="M205.2 256.7h0.9v0.9h-0.9zM202.9 256.5h0.9v0.9h-0.9zM198.7 246.8h0.9v0.9h-0.9zM200.5 245.6h0.9v0.9h-0.9zM207.9 246.3h0.9v0.9h-0.9zM200.8 249.0h0.9v0.9h-0.9zM205.7 248.7h0.9v0.9h-0.9zM205.3 254.0h0.9v0.9h-0.9zM201.4 238.7h0.9v0.9h-0.9zM200.6 244.6h0.9v0.9h-0.9zM207.8 247.3h0.9v0.9h-0.9zM200.2 253.1h0.9v0.9h-0.9zM203.4 246.2h0.9v0.9h-0.9zM206.3 255.9h0.9v0.9h-0.9zM204.0 247.1h0.9v0.9h-0.9zM200.7 240.4h0.9v0.9h-0.9zM204.3 253.1h0.9v0.9h-0.9zM200.6 251.2h0.9v0.9h-0.9zM212.5 245.2h0.9v0.9h-0.9zM198.3 254.3h0.9v0.9h-0.9zM202.0 248.5h0.9v0.9h-0.9zM205.0 250.4h0.9v0.9h-0.9zM206.0 253.8h0.9v0.9h-0.9zM206.5 251.7h0.9v0.9h-0.9zM197.1 258.2h0.9v0.9h-0.9zM198.4 256.5h0.9v0.9h-0.9zM203.9 243.8h0.9v0.9h-0.9zM203.4 255.7h0.9v0.9h-0.9zM200.3 251.3h0.9v0.9h-0.9zM201.1 245.8h0.9v0.9h-0.9zM201.4 257.7h0.9v0.9h-0.9zM205.2 250.9h0.9v0.9h-0.9zM203.0 251.7h0.9v0.9h-0.9zM204.0 252.0h0.9v0.9h-0.9zM198.3 255.9h0.9v0.9h-0.9zM200.8 237.5h0.9v0.9h-0.9zM205.2 244.8h0.9v0.9h-0.9zM202.8 250.6h0.9v0.9h-0.9zM201.5 253.9h0.9v0.9h-0.9zM202.4 249.6h0.9v0.9h-0.9zM200.5 249.6h0.9v0.9h-0.9zM200.3 251.3h0.9v0.9h-0.9zM207.0 256.3h0.9v0.9h-0.9zM204.4 243.9h0.9v0.9h-0.9zM206.1 255.9h0.9v0.9h-0.9zM209.1 239.3h0.9v0.9h-0.9zM203.2 249.3h0.9v0.9h-0.9zM206.3 245.4h0.9v0.9h-0.9zM206.0 240.6h0.9v0.9h-0.9zM203.3 258.2h0.9v0.9h-0.9zM201.4 254.2h0.9v0.9h-0.9zM203.5 243.4h0.9v0.9h-0.9zM201.4 257.0h0.9v0.9h-0.9zM206.6 247.9h0.9v0.9h-0.9zM206.4 247.3h0.9v0.9h-0.9zM203.9 250.9h0.9v0.9h-0.9zM199.6 252.7h0.9v0.9h-0.9zM202.1 236.7h0.9v0.9h-0.9zM200.8 246.6h0.9v0.9h-0.9zM200.8 245.9h0.9v0.9h-0.9zM201.2 238.2h0.9v0.9h-0.9zM205.7 251.4h0.9v0.9h-0.9zM203.9 249.6h0.9v0.9h-0.9zM203.4 249.7h0.9v0.9h-0.9zM200.1 243.1h0.9v0.9h-0.9zM203.4 256.4h0.9v0.9h-0.9zM199.3 249.7h0.9v0.9h-0.9zM201.4 257.5h0.9v0.9h-0.9zM208.0 248.3h0.9v0.9h-0.9zM205.3 249.8h0.9v0.9h-0.9zM200.4 250.5h0.9v0.9h-0.9zM204.9 257.3h0.9v0.9h-0.9zM204.2 238.3h0.9v0.9h-0.9zM205.5 251.5h0.9v0.9h-0.9zM196.4 251.6h0.9v0.9h-0.9zM200.3 255.2h0.9v0.9h-0.9zM204.2 250.1h0.9v0.9h-0.9zM202.4 253.8h0.9v0.9h-0.9zM204.8 254.5h0.9v0.9h-0.9zM202.0 244.1h0.9v0.9h-0.9zM207.0 257.9h0.9v0.9h-0.9zM201.6 250.9h0.9v0.9h-0.9zM205.5 241.8h0.9v0.9h-0.9zM204.0 247.3h0.9v0.9h-0.9zM209.0 251.1h0.9v0.9h-0.9zM203.8 248.8h0.9v0.9h-0.9zM203.7 241.6h0.9v0.9h-0.9zM199.5 243.3h0.9v0.9h-0.9zM205.8 250.5h0.9v0.9h-0.9zM206.5 240.3h0.9v0.9h-0.9zM201.5 258.7h0.9v0.9h-0.9zM200.9 241.2h0.9v0.9h-0.9zM201.1 249.2h0.9v0.9h-0.9zM203.2 257.9h0.9v0.9h-0.9zM204.9 248.4h0.9v0.9h-0.9zM201.8 243.2h0.9v0.9h-0.9zM206.8 257.6h0.9v0.9h-0.9zM203.5 246.3h0.9v0.9h-0.9zM205.1 253.6h0.9v0.9h-0.9zM203.6 244.9h0.9v0.9h-0.9zM203.9 248.0h0.9v0.9h-0.9zM205.3 254.2h0.9v0.9h-0.9zM204.5 248.8h0.9v0.9h-0.9zM207.5 255.1h0.9v0.9h-0.9zM206.8 255.4h0.9v0.9h-0.9zM205.1 253.1h0.9v0.9h-0.9zM200.2 241.4h0.9v0.9h-0.9zM200.5 254.2h0.9v0.9h-0.9zM205.8 252.0h0.9v0.9h-0.9zM202.1 241.6h0.9v0.9h-0.9zM198.8 249.3h0.9v0.9h-0.9zM205.2 254.9h0.9v0.9h-0.9zM202.6 255.3h0.9v0.9h-0.9zM203.1 247.2h0.9v0.9h-0.9zM202.1 255.0h0.9v0.9h-0.9zM205.9 245.1h0.9v0.9h-0.9zM200.4 251.7h0.9v0.9h-0.9zM209.3 244.8h0.9v0.9h-0.9zM199.6 253.2h0.9v0.9h-0.9zM204.6 247.8h0.9v0.9h-0.9zM203.1 253.6h0.9v0.9h-0.9zM198.2 250.9h0.9v0.9h-0.9zM204.9 255.9h0.9v0.9h-0.9zM206.5 250.6h0.9v0.9h-0.9zM199.1 258.1h0.9v0.9h-0.9zM205.4 247.6h0.9v0.9h-0.9zM206.1 256.5h0.9v0.9h-0.9zM202.8 238.6h0.9v0.9h-0.9zM201.9 247.0h0.9v0.9h-0.9zM200.8 250.6h0.9v0.9h-0.9zM200.1 253.1h0.9v0.9h-0.9zM208.6 244.7h0.9v0.9h-0.9zM206.2 248.2h0.9v0.9h-0.9zM204.7 250.3h0.9v0.9h-0.9zM206.8 247.3h0.9v0.9h-0.9zM205.3 246.9h0.9v0.9h-0.9zM203.9 250.9h0.9v0.9h-0.9zM206.3 242.7h0.9v0.9h-0.9zM199.4 258.3h0.9v0.9h-0.9zM200.3 252.1h0.9v0.9h-0.9zM203.1 248.6h0.9v0.9h-0.9zM205.2 250.5h0.9v0.9h-0.9zM201.1 255.0h0.9v0.9h-0.9zM197.8 245.7h0.9v0.9h-0.9zM207.1 248.4h0.9v0.9h-0.9zM202.3 253.0h0.9v0.9h-0.9zM206.4 253.8h0.9v0.9h-0.9zM200.5 248.0h0.9v0.9h-0.9zM206.2 250.4h0.9v0.9h-0.9zM201.4 255.6h0.9v0.9h-0.9zM200.1 247.3h0.9v0.9h-0.9zM201.2 252.9h0.9v0.9h-0.9zM201.8 256.9h0.9v0.9h-0.9zM195.6 256.1h0.9v0.9h-0.9zM201.4 249.6h0.9v0.9h-0.9zM204.8 252.1h0.9v0.9h-0.9zM204.8 248.4h0.9v0.9h-0.9zM203.8 245.2h0.9v0.9h-0.9zM199.7 249.4h0.9v0.9h-0.9zM204.2 251.5h0.9v0.9h-0.9zM201.0 243.7h0.9v0.9h-0.9zM204.2 246.8h0.9v0.9h-0.9zM206.6 253.9h0.9v0.9h-0.9zM202.0 247.8h0.9v0.9h-0.9zM206.4 252.7h0.9v0.9h-0.9zM207.8 252.9h0.9v0.9h-0.9zM201.5 247.8h0.9v0.9h-0.9zM201.2 252.3h0.9v0.9h-0.9zM203.9 254.2h0.9v0.9h-0.9zM204.5 245.5h0.9v0.9h-0.9zM202.6 246.0h0.9v0.9h-0.9zM204.6 244.1h0.9v0.9h-0.9zM201.6 246.5h0.9v0.9h-0.9zM201.5 249.6h0.9v0.9h-0.9zM207.5 249.7h0.9v0.9h-0.9zM199.1 249.4h0.9v0.9h-0.9zM205.3 253.9h0.9v0.9h-0.9zM206.3 251.5h0.9v0.9h-0.9zM206.6 243.9h0.9v0.9h-0.9zM202.7 246.4h0.9v0.9h-0.9zM200.3 258.5h0.9v0.9h-0.9zM198.4 246.5h0.9v0.9h-0.9zM206.0 250.5h0.9v0.9h-0.9zM203.6 250.9h0.9v0.9h-0.9zM203.7 250.1h0.9v0.9h-0.9zM200.4 249.5h0.9v0.9h-0.9zM203.5 246.3h0.9v0.9h-0.9zM198.6 248.1h0.9v0.9h-0.9zM202.4 251.1h0.9v0.9h-0.9zM203.5 247.2h0.9v0.9h-0.9zM203.1 251.0h0.9v0.9h-0.9zM203.6 243.2h0.9v0.9h-0.9zM198.8 254.1h0.9v0.9h-0.9zM202.2 247.7h0.9v0.9h-0.9zM199.4 249.4h0.9v0.9h-0.9zM202.9 247.4h0.9v0.9h-0.9zM202.2 255.7h0.9v0.9h-0.9zM205.4 253.9h0.9v0.9h-0.9zM202.7 243.8h0.9v0.9h-0.9zM205.4 258.9h0.9v0.9h-0.9zM206.8 257.1h0.9v0.9h-0.9zM204.0 253.0h0.9v0.9h-0.9zM203.2 257.6h0.9v0.9h-0.9zM205.4 249.3h0.9v0.9h-0.9zM203.2 242.5h0.9v0.9h-0.9zM201.1 249.4h0.9v0.9h-0.9zM210.1 246.7h0.9v0.9h-0.9zM205.8 251.4h0.9v0.9h-0.9zM202.4 254.3h0.9v0.9h-0.9zM197.6 256.0h0.9v0.9h-0.9zM208.7 252.6h0.9v0.9h-0.9zM203.0 251.8h0.9v0.9h-0.9zM205.1 248.4h0.9v0.9h-0.9zM203.5 253.7h0.9v0.9h-0.9zM202.2 253.1h0.9v0.9h-0.9zM204.1 254.8h0.9v0.9h-0.9zM200.4 248.2h0.9v0.9h-0.9zM202.0 257.3h0.9v0.9h-0.9zM203.9 242.3h0.9v0.9h-0.9zM204.2 244.2h0.9v0.9h-0.9zM200.6 251.8h0.9v0.9h-0.9zM202.2 249.4h0.9v0.9h-0.9zM208.6 245.8h0.9v0.9h-0.9zM207.6 252.8h0.9v0.9h-0.9zM203.5 257.8h0.9v0.9h-0.9zM204.6 246.6h0.9v0.9h-0.9zM198.9 251.1h0.9v0.9h-0.9zM204.6 258.2h0.9v0.9h-0.9zM195.8 258.1h0.9v0.9h-0.9zM205.4 252.1h0.9v0.9h-0.9zM204.4 253.1h0.9v0.9h-0.9zM201.4 250.4h0.9v0.9h-0.9zM203.6 248.6h0.9v0.9h-0.9zM199.1 243.4h0.9v0.9h-0.9zM204.6 253.8h0.9v0.9h-0.9zM203.5 244.8h0.9v0.9h-0.9zM205.6 248.9h0.9v0.9h-0.9zM204.7 248.7h0.9v0.9h-0.9zM196.6 247.3h0.9v0.9h-0.9zM207.4 258.2h0.9v0.9h-0.9zM203.9 242.0h0.9v0.9h-0.9zM202.1 249.5h0.9v0.9h-0.9zM204.5 250.3h0.9v0.9h-0.9zM204.2 242.4h0.9v0.9h-0.9zM201.4 258.6h0.9v0.9h-0.9zM199.1 255.9h0.9v0.9h-0.9zM209.7 254.4h0.9v0.9h-0.9zM199.3 257.6h0.9v0.9h-0.9zM198.0 252.8h0.9v0.9h-0.9zM202.1 257.5h0.9v0.9h-0.9zM206.5 252.0h0.9v0.9h-0.9zM208.2 256.2h0.9v0.9h-0.9zM201.9 245.8h0.9v0.9h-0.9zM210.1 248.9h0.9v0.9h-0.9zM204.4 250.4h0.9v0.9h-0.9zM201.9 242.5h0.9v0.9h-0.9zM202.8 250.4h0.9v0.9h-0.9zM206.0 248.3h0.9v0.9h-0.9zM198.8 245.3h0.9v0.9h-0.9zM203.1 252.3h0.9v0.9h-0.9zM205.2 249.0h0.9v0.9h-0.9zM204.7 251.8h0.9v0.9h-0.9zM208.0 250.7h0.9v0.9h-0.9zM203.6 254.0h0.9v0.9h-0.9zM206.6 246.1h0.9v0.9h-0.9zM201.9 249.5h0.9v0.9h-0.9zM197.2 257.9h0.9v0.9h-0.9zM206.2 251.1h0.9v0.9h-0.9zM212.7 257.7h0.9v0.9h-0.9zM205.8 243.5h0.9v0.9h-0.9zM207.5 253.2h0.9v0.9h-0.9zM199.8 251.3h0.9v0.9h-0.9zM205.3 256.2h0.9v0.9h-0.9zM203.7 248.2h0.9v0.9h-0.9zM205.4 247.0h0.9v0.9h-0.9zM203.0 255.0h0.9v0.9h-0.9zM199.1 253.0h0.9v0.9h-0.9zM197.7 246.1h0.9v0.9h-0.9zM199.7 250.5h0.9v0.9h-0.9zM205.2 250.7h0.9v0.9h-0.9zM205.8 251.5h0.9v0.9h-0.9zM202.6 253.6h0.9v0.9h-0.9zM202.5 251.7h0.9v0.9h-0.9zM206.1 248.0h0.9v0.9h-0.9zM206.4 245.1h0.9v0.9h-0.9zM202.6 241.8h0.9v0.9h-0.9zM204.2 257.7h0.9v0.9h-0.9zM199.1 245.6h0.9v0.9h-0.9zM204.5 255.4h0.9v0.9h-0.9zM205.6 242.1h0.9v0.9h-0.9zM204.6 250.6h0.9v0.9h-0.9zM203.5 253.5h0.9v0.9h-0.9zM202.4 242.0h0.9v0.9h-0.9zM200.2 243.3h0.9v0.9h-0.9zM199.5 250.3h0.9v0.9h-0.9zM206.9 247.2h0.9v0.9h-0.9zM201.0 244.9h0.9v0.9h-0.9zM198.3 251.4h0.9v0.9h-0.9zM201.8 249.7h0.9v0.9h-0.9zM200.5 253.6h0.9v0.9h-0.9zM199.8 253.9h0.9v0.9h-0.9zM201.3 255.2h0.9v0.9h-0.9zM200.7 253.4h0.9v0.9h-0.9zM204.4 250.6h0.9v0.9h-0.9zM207.8 251.9h0.9v0.9h-0.9zM200.7 254.7h0.9v0.9h-0.9zM200.9 248.1h0.9v0.9h-0.9zM203.2 252.0h0.9v0.9h-0.9zM208.0 241.7h0.9v0.9h-0.9zM202.5 257.0h0.9v0.9h-0.9zM202.8 252.7h0.9v0.9h-0.9zM207.5 244.5h0.9v0.9h-0.9zM203.3 255.2h0.9v0.9h-0.9zM201.5 241.7h0.9v0.9h-0.9zM200.4 252.0h0.9v0.9h-0.9zM206.9 242.8h0.9v0.9h-0.9zM206.1 255.9h0.9v0.9h-0.9zM207.8 250.2h0.9v0.9h-0.9zM201.6 251.8h0.9v0.9h-0.9zM207.6 254.3h0.9v0.9h-0.9zM208.0 255.2h0.9v0.9h-0.9zM201.5 245.6h0.9v0.9h-0.9zM208.4 243.0h0.9v0.9h-0.9zM202.2 249.3h0.9v0.9h-0.9zM200.6 248.0h0.9v0.9h-0.9zM203.0 248.2h0.9v0.9h-0.9zM203.6 256.0h0.9v0.9h-0.9zM200.9 248.8h0.9v0.9h-0.9zM198.3 254.7h0.9v0.9h-0.9zM205.7 249.5h0.9v0.9h-0.9zM202.1 249.4h0.9v0.9h-0.9zM199.8 255.1h0.9v0.9h-0.9zM201.5 247.2h0.9v0.9h-0.9zM204.7 251.6h0.9v0.9h-0.9zM201.5 249.8h0.9v0.9h-0.9zM201.8 258.2h0.9v0.9h-0.9zM206.0 247.1h0.9v0.9h-0.9zM203.1 258.3h0.9v0.9h-0.9zM204.5 254.6h0.9v0.9h-0.9zM197.3 255.5h0.9v0.9h-0.9zM204.2 254.1h0.9v0.9h-0.9zM204.6 253.8h0.9v0.9h-0.9zM201.8 255.8h0.9v0.9h-0.9zM203.4 245.4h0.9v0.9h-0.9zM200.3 251.9h0.9v0.9h-0.9zM204.1 239.3h0.9v0.9h-0.9zM197.4 256.6h0.9v0.9h-0.9zM198.9 249.7h0.9v0.9h-0.9zM201.5 254.0h0.9v0.9h-0.9zM200.3 257.6h0.9v0.9h-0.9zM199.8 252.6h0.9v0.9h-0.9zM203.7 254.3h0.9v0.9h-0.9zM200.9 258.1h0.9v0.9h-0.9zM203.0 250.9h0.9v0.9h-0.9zM202.4 245.3h0.9v0.9h-0.9zM205.2 252.8h0.9v0.9h-0.9zM200.7 249.5h0.9v0.9h-0.9zM203.2 255.6h0.9v0.9h-0.9zM202.7 256.0h0.9v0.9h-0.9zM204.5 241.6h0.9v0.9h-0.9zM201.3 240.2h0.9v0.9h-0.9zM202.4 248.8h0.9v0.9h-0.9zM204.9 251.9h0.9v0.9h-0.9zM203.0 257.7h0.9v0.9h-0.9zM204.9 244.4h0.9v0.9h-0.9zM201.2 252.8h0.9v0.9h-0.9zM208.0 249.9h0.9v0.9h-0.9zM202.7 252.4h0.9v0.9h-0.9zM205.4 250.5h0.9v0.9h-0.9zM204.0 248.8h0.9v0.9h-0.9zM201.6 246.8h0.9v0.9h-0.9zM205.1 248.0h0.9v0.9h-0.9zM204.8 253.2h0.9v0.9h-0.9zM206.0 236.7h0.9v0.9h-0.9zM200.5 244.5h0.9v0.9h-0.9zM202.7 255.3h0.9v0.9h-0.9zM207.0 253.0h0.9v0.9h-0.9zM202.1 253.9h0.9v0.9h-0.9zM197.0 256.0h0.9v0.9h-0.9zM203.2 254.3h0.9v0.9h-0.9zM200.3 245.2h0.9v0.9h-0.9zM201.4 250.8h0.9v0.9h-0.9zM204.2 249.1h0.9v0.9h-0.9zM204.2 254.6h0.9v0.9h-0.9zM199.9 250.5h0.9v0.9h-0.9zM198.8 248.1h0.9v0.9h-0.9zM205.8 247.2h0.9v0.9h-0.9zM208.5 253.7h0.9v0.9h-0.9zM205.7 251.6h0.9v0.9h-0.9zM205.7 256.8h0.9v0.9h-0.9zM203.5 248.2h0.9v0.9h-0.9zM202.7 248.6h0.9v0.9h-0.9zM201.2 242.0h0.9v0.9h-0.9zM201.8 252.7h0.9v0.9h-0.9zM201.8 246.9h0.9v0.9h-0.9zM204.4 253.5h0.9v0.9h-0.9zM202.0 252.6h0.9v0.9h-0.9zM200.4 255.6h0.9v0.9h-0.9zM200.4 249.2h0.9v0.9h-0.9zM203.6 248.8h0.9v0.9h-0.9zM207.5 241.7h0.9v0.9h-0.9zM203.5 244.2h0.9v0.9h-0.9zM204.1 244.0h0.9v0.9h-0.9zM204.8 253.8h0.9v0.9h-0.9zM208.0 257.4h0.9v0.9h-0.9zM201.9 256.1h0.9v0.9h-0.9zM201.9 250.4h0.9v0.9h-0.9zM201.8 241.6h0.9v0.9h-0.9zM204.9 240.1h0.9v0.9h-0.9zM202.5 253.8h0.9v0.9h-0.9zM203.5 242.6h0.9v0.9h-0.9zM201.4 254.6h0.9v0.9h-0.9zM198.1 253.5h0.9v0.9h-0.9zM201.8 255.1h0.9v0.9h-0.9zM198.4 250.2h0.9v0.9h-0.9zM205.2 247.5h0.9v0.9h-0.9zM202.2 245.8h0.9v0.9h-0.9zM206.4 243.9h0.9v0.9h-0.9zM200.6 249.2h0.9v0.9h-0.9zM204.0 246.5h0.9v0.9h-0.9zM204.8 252.8h0.9v0.9h-0.9zM204.0 250.7h0.9v0.9h-0.9zM204.5 244.7h0.9v0.9h-0.9zM199.8 248.7h0.9v0.9h-0.9zM200.1 254.8h0.9v0.9h-0.9zM208.7 257.6h0.9v0.9h-0.9zM204.5 252.8h0.9v0.9h-0.9zM201.3 244.0h0.9v0.9h-0.9zM204.8 243.1h0.9v0.9h-0.9zM204.1 250.2h0.9v0.9h-0.9zM205.3 251.3h0.9v0.9h-0.9zM203.5 247.9h0.9v0.9h-0.9zM198.3 249.2h0.9v0.9h-0.9zM205.2 256.6h0.9v0.9h-0.9zM207.1 245.7h0.9v0.9h-0.9zM200.5 254.8h0.9v0.9h-0.9zM204.1 242.9h0.9v0.9h-0.9zM198.0 251.8h0.9v0.9h-0.9zM201.9 245.5h0.9v0.9h-0.9zM198.4 247.2h0.9v0.9h-0.9zM196.0 248.5h0.9v0.9h-0.9zM209.4 251.5h0.9v0.9h-0.9zM202.4 244.8h0.9v0.9h-0.9zM204.2 248.5h0.9v0.9h-0.9zM200.8 258.4h0.9v0.9h-0.9zM204.4 246.2h0.9v0.9h-0.9zM207.4 250.7h0.9v0.9h-0.9zM204.6 251.8h0.9v0.9h-0.9zM206.5 254.3h0.9v0.9h-0.9zM202.2 254.8h0.9v0.9h-0.9zM202.1 251.7h0.9v0.9h-0.9zM207.9 245.3h0.9v0.9h-0.9zM200.3 248.9h0.9v0.9h-0.9zM201.8 258.0h0.9v0.9h-0.9zM207.7 248.6h0.9v0.9h-0.9zM203.7 249.1h0.9v0.9h-0.9zM205.1 254.6h0.9v0.9h-0.9zM205.3 255.1h0.9v0.9h-0.9zM208.7 250.1h0.9v0.9h-0.9zM205.2 250.0h0.9v0.9h-0.9zM203.3 252.2h0.9v0.9h-0.9zM203.1 252.9h0.9v0.9h-0.9zM200.8 250.2h0.9v0.9h-0.9zM201.5 244.7h0.9v0.9h-0.9zM201.2 248.3h0.9v0.9h-0.9zM202.8 242.6h0.9v0.9h-0.9zM202.5 244.9h0.9v0.9h-0.9zM200.9 252.0h0.9v0.9h-0.9zM206.3 252.5h0.9v0.9h-0.9zM201.8 248.6h0.9v0.9h-0.9zM207.0 242.3h0.9v0.9h-0.9zM206.4 242.9h0.9v0.9h-0.9zM201.4 251.2h0.9v0.9h-0.9zM204.6 250.7h0.9v0.9h-0.9zM205.9 251.2h0.9v0.9h-0.9zM200.9 257.0h0.9v0.9h-0.9zM207.5 257.9h0.9v0.9h-0.9zM202.0 255.1h0.9v0.9h-0.9zM198.6 245.5h0.9v0.9h-0.9zM206.5 253.7h0.9v0.9h-0.9zM202.3 235.3h0.9v0.9h-0.9zM204.5 250.0h0.9v0.9h-0.9zM196.1 248.0h0.9v0.9h-0.9zM203.2 252.3h0.9v0.9h-0.9zM205.3 249.6h0.9v0.9h-0.9zM200.7 249.1h0.9v0.9h-0.9zM197.2 245.0h0.9v0.9h-0.9zM208.8 247.3h0.9v0.9h-0.9zM206.2 251.7h0.9v0.9h-0.9zM205.3 249.6h0.9v0.9h-0.9zM200.6 256.4h0.9v0.9h-0.9zM202.5 249.0h0.9v0.9h-0.9zM204.2 250.0h0.9v0.9h-0.9zM202.3 246.2h0.9v0.9h-0.9zM203.9 252.7h0.9v0.9h-0.9zM208.4 250.9h0.9v0.9h-0.9zM198.2 253.5h0.9v0.9h-0.9zM209.7 248.6h0.9v0.9h-0.9zM200.9 250.1h0.9v0.9h-0.9zM195.1 249.2h0.9v0.9h-0.9zM202.7 242.9h0.9v0.9h-0.9zM204.8 246.3h0.9v0.9h-0.9zM197.9 247.1h0.9v0.9h-0.9zM206.8 252.1h0.9v0.9h-0.9zM201.7 249.6h0.9v0.9h-0.9zM206.0 248.2h0.9v0.9h-0.9zM204.4 256.2h0.9v0.9h-0.9zM200.6 247.8h0.9v0.9h-0.9zM204.5 251.0h0.9v0.9h-0.9zM202.8 248.2h0.9v0.9h-0.9zM207.1 242.3h0.9v0.9h-0.9zM203.3 251.5h0.9v0.9h-0.9zM203.3 243.6h0.9v0.9h-0.9zM202.8 251.8h0.9v0.9h-0.9zM201.3 252.7h0.9v0.9h-0.9zM196.3 242.9h0.9v0.9h-0.9zM203.5 253.1h0.9v0.9h-0.9zM202.7 248.5h0.9v0.9h-0.9zM203.7 256.8h0.9v0.9h-0.9zM205.8 250.6h0.9v0.9h-0.9zM201.9 256.7h0.9v0.9h-0.9zM204.7 255.8h0.9v0.9h-0.9zM202.4 246.4h0.9v0.9h-0.9zM203.7 247.6h0.9v0.9h-0.9zM206.5 255.6h0.9v0.9h-0.9zM197.0 254.6h0.9v0.9h-0.9zM207.0 256.6h0.9v0.9h-0.9zM201.9 246.4h0.9v0.9h-0.9zM206.0 256.5h0.9v0.9h-0.9zM203.4 244.8h0.9v0.9h-0.9zM198.9 252.4h0.9v0.9h-0.9zM200.8 247.3h0.9v0.9h-0.9zM204.5 256.7h0.9v0.9h-0.9zM197.3 247.4h0.9v0.9h-0.9zM206.9 250.8h0.9v0.9h-0.9zM202.2 254.4h0.9v0.9h-0.9zM200.0 244.4h0.9v0.9h-0.9zM206.1 251.0h0.9v0.9h-0.9zM206.1 248.8h0.9v0.9h-0.9zM199.8 242.0h0.9v0.9h-0.9zM204.0 255.8h0.9v0.9h-0.9zM204.3 250.8h0.9v0.9h-0.9zM202.1 256.9h0.9v0.9h-0.9zM203.1 243.2h0.9v0.9h-0.9zM207.1 247.5h0.9v0.9h-0.9zM204.3 251.0h0.9v0.9h-0.9zM206.2 252.3h0.9v0.9h-0.9zM206.7 252.1h0.9v0.9h-0.9zM201.9 248.3h0.9v0.9h-0.9zM205.1 246.5h0.9v0.9h-0.9zM205.8 249.7h0.9v0.9h-0.9zM200.6 246.3h0.9v0.9h-0.9zM205.4 251.1h0.9v0.9h-0.9zM202.4 251.0h0.9v0.9h-0.9zM202.0 258.2h0.9v0.9h-0.9zM203.7 248.5h0.9v0.9h-0.9zM203.7 245.6h0.9v0.9h-0.9zM200.2 250.1h0.9v0.9h-0.9zM195.0 257.3h0.9v0.9h-0.9zM208.9 245.0h0.9v0.9h-0.9zM202.8 242.5h0.9v0.9h-0.9zM203.7 252.1h0.9v0.9h-0.9zM205.3 243.8h0.9v0.9h-0.9zM201.5 247.5h0.9v0.9h-0.9zM202.6 250.8h0.9v0.9h-0.9zM201.8 255.3h0.9v0.9h-0.9zM210.5 257.3h0.9v0.9h-0.9zM207.6 245.2h0.9v0.9h-0.9zM206.2 251.2h0.9v0.9h-0.9zM206.8 256.7h0.9v0.9h-0.9zM205.1 242.0h0.9v0.9h-0.9zM203.6 248.3h0.9v0.9h-0.9zM204.5 251.2h0.9v0.9h-0.9zM206.2 242.4h0.9v0.9h-0.9zM201.1 250.6h0.9v0.9h-0.9zM204.1 248.8h0.9v0.9h-0.9zM203.1 251.3h0.9v0.9h-0.9zM206.2 250.4h0.9v0.9h-0.9zM203.9 241.2h0.9v0.9h-0.9zM195.7 243.1h0.9v0.9h-0.9zM204.2 238.6h0.9v0.9h-0.9zM204.4 250.5h0.9v0.9h-0.9zM203.2 247.1h0.9v0.9h-0.9zM202.0 255.5h0.9v0.9h-0.9zM204.2 250.9h0.9v0.9h-0.9zM201.8 252.1h0.9v0.9h-0.9zM206.6 250.9h0.9v0.9h-0.9zM202.2 244.6h0.9v0.9h-0.9zM203.5 246.0h0.9v0.9h-0.9zM199.1 255.7h0.9v0.9h-0.9zM201.4 240.0h0.9v0.9h-0.9zM202.9 243.8h0.9v0.9h-0.9zM200.1 254.9h0.9v0.9h-0.9zM204.4 252.2h0.9v0.9h-0.9zM202.6 253.6h0.9v0.9h-0.9zM207.6 253.6h0.9v0.9h-0.9zM202.7 243.4h0.9v0.9h-0.9zM205.0 244.2h0.9v0.9h-0.9zM203.7 258.0h0.9v0.9h-0.9zM201.4 253.7h0.9v0.9h-0.9zM198.7 241.6h0.9v0.9h-0.9zM204.3 254.8h0.9v0.9h-0.9zM202.2 250.9h0.9v0.9h-0.9zM202.0 257.5h0.9v0.9h-0.9zM196.9 252.4h0.9v0.9h-0.9zM199.5 247.3h0.9v0.9h-0.9zM198.8 246.1h0.9v0.9h-0.9zM203.1 251.1h0.9v0.9h-0.9zM208.3 249.8h0.9v0.9h-0.9zM204.2 252.9h0.9v0.9h-0.9zM203.6 251.8h0.9v0.9h-0.9zM202.9 251.0h0.9v0.9h-0.9zM203.0 256.4h0.9v0.9h-0.9zM203.3 251.4h0.9v0.9h-0.9zM203.1 255.1h0.9v0.9h-0.9zM201.9 256.1h0.9v0.9h-0.9zM201.6 254.8h0.9v0.9h-0.9zM208.7 252.3h0.9v0.9h-0.9zM203.0 244.6h0.9v0.9h-0.9zM205.3 251.1h0.9v0.9h-0.9zM205.8 247.4h0.9v0.9h-0.9zM204.3 249.2h0.9v0.9h-0.9zM199.5 251.0h0.9v0.9h-0.9zM205.1 254.2h0.9v0.9h-0.9zM200.0 245.4h0.9v0.9h-0.9zM200.4 245.5h0.9v0.9h-0.9zM202.4 252.4h0.9v0.9h-0.9zM208.7 252.1h0.9v0.9h-0.9zM207.4 242.0h0.9v0.9h-0.9zM207.6 255.3h0.9v0.9h-0.9zM204.5 255.5h0.9v0.9h-0.9zM205.5 241.6h0.9v0.9h-0.9zM203.0 258.2h0.9v0.9h-0.9zM202.2 247.4h0.9v0.9h-0.9zM202.2 252.7h0.9v0.9h-0.9zM203.7 247.6h0.9v0.9h-0.9zM204.7 254.3h0.9v0.9h-0.9zM200.6 245.0h0.9v0.9h-0.9zM197.6 249.3h0.9v0.9h-0.9zM203.2 247.2h0.9v0.9h-0.9zM201.5 250.3h0.9v0.9h-0.9zM203.3 254.1h0.9v0.9h-0.9zM205.6 253.4h0.9v0.9h-0.9zM206.4 245.7h0.9v0.9h-0.9zM204.9 253.0h0.9v0.9h-0.9zM200.2 247.3h0.9v0.9h-0.9zM204.5 251.4h0.9v0.9h-0.9zM199.6 248.0h0.9v0.9h-0.9zM207.6 255.6h0.9v0.9h-0.9zM203.4 258.3h0.9v0.9h-0.9zM200.6 250.1h0.9v0.9h-0.9zM205.9 249.2h0.9v0.9h-0.9zM200.0 254.2h0.9v0.9h-0.9zM207.8 237.2h0.9v0.9h-0.9zM203.6 244.2h0.9v0.9h-0.9zM202.3 243.3h0.9v0.9h-0.9zM210.7 247.3h0.9v0.9h-0.9zM203.3 247.2h0.9v0.9h-0.9zM200.4 248.5h0.9v0.9h-0.9zM200.1 251.4h0.9v0.9h-0.9zM201.9 242.5h0.9v0.9h-0.9zM213.9 249.7h0.9v0.9h-0.9zM203.9 246.9h0.9v0.9h-0.9zM201.6 245.4h0.9v0.9h-0.9zM206.1 248.8h0.9v0.9h-0.9zM202.8 252.0h0.9v0.9h-0.9zM199.7 252.3h0.9v0.9h-0.9zM202.7 253.4h0.9v0.9h-0.9zM202.1 251.2h0.9v0.9h-0.9zM204.7 256.3h0.9v0.9h-0.9zM201.2 256.3h0.9v0.9h-0.9zM200.4 250.0h0.9v0.9h-0.9zM203.6 251.8h0.9v0.9h-0.9zM196.0 245.7h0.9v0.9h-0.9zM202.7 256.0h0.9v0.9h-0.9zM198.0 251.4h0.9v0.9h-0.9zM204.7 251.1h0.9v0.9h-0.9zM204.0 256.1h0.9v0.9h-0.9zM200.9 254.2h0.9v0.9h-0.9zM206.2 249.7h0.9v0.9h-0.9zM196.6 244.5h0.9v0.9h-0.9zM200.8 245.2h0.9v0.9h-0.9zM204.4 246.6h0.9v0.9h-0.9zM210.3 254.1h0.9v0.9h-0.9zM199.5 249.4h0.9v0.9h-0.9zM207.6 254.7h0.9v0.9h-0.9zM200.3 256.6h0.9v0.9h-0.9zM201.6 254.2h0.9v0.9h-0.9zM204.8 248.6h0.9v0.9h-0.9zM202.8 257.3h0.9v0.9h-0.9zM204.6 250.7h0.9v0.9h-0.9zM205.9 253.6h0.9v0.9h-0.9zM204.1 242.5h0.9v0.9h-0.9zM203.6 248.4h0.9v0.9h-0.9zM205.3 247.7h0.9v0.9h-0.9zM204.5 245.3h0.9v0.9h-0.9zM205.8 247.0h0.9v0.9h-0.9zM203.1 254.1h0.9v0.9h-0.9zM202.3 251.0h0.9v0.9h-0.9zM198.0 246.1h0.9v0.9h-0.9zM205.1 256.1h0.9v0.9h-0.9zM201.8 251.5h0.9v0.9h-0.9zM202.6 244.5h0.9v0.9h-0.9zM198.8 244.1h0.9v0.9h-0.9zM206.9 248.9h0.9v0.9h-0.9zM208.8 254.5h0.9v0.9h-0.9zM204.3 254.5h0.9v0.9h-0.9zM205.5 256.0h0.9v0.9h-0.9zM200.4 248.0h0.9v0.9h-0.9zM201.6 251.6h0.9v0.9h-0.9zM202.5 244.3h0.9v0.9h-0.9zM209.3 246.4h0.9v0.9h-0.9zM204.3 250.8h0.9v0.9h-0.9zM200.8 254.9h0.9v0.9h-0.9zM204.5 249.3h0.9v0.9h-0.9zM195.6 250.4h0.9v0.9h-0.9zM205.6 247.1h0.9v0.9h-0.9zM205.7 254.7h0.9v0.9h-0.9zM198.1 249.9h0.9v0.9h-0.9zM204.1 255.1h0.9v0.9h-0.9zM203.6 250.9h0.9v0.9h-0.9zM202.2 249.4h0.9v0.9h-0.9zM203.2 245.2h0.9v0.9h-0.9zM205.0 249.2h0.9v0.9h-0.9zM204.7 248.2h0.9v0.9h-0.9zM204.4 251.7h0.9v0.9h-0.9zM205.8 253.5h0.9v0.9h-0.9zM205.9 250.1h0.9v0.9h-0.9zM203.0 249.6h0.9v0.9h-0.9zM199.6 250.3h0.9v0.9h-0.9zM206.3 255.2h0.9v0.9h-0.9zM200.8 252.6h0.9v0.9h-0.9zM205.4 243.6h0.9v0.9h-0.9zM204.2 252.8h0.9v0.9h-0.9zM205.3 252.4h0.9v0.9h-0.9zM198.2 240.1h0.9v0.9h-0.9zM208.9 248.9h0.9v0.9h-0.9zM206.8 257.9h0.9v0.9h-0.9zM203.5 244.8h0.9v0.9h-0.9zM207.1 250.8h0.9v0.9h-0.9zM204.7 253.6h0.9v0.9h-0.9zM205.9 256.5h0.9v0.9h-0.9zM199.1 243.4h0.9v0.9h-0.9zM203.6 251.0h0.9v0.9h-0.9zM205.4 250.3h0.9v0.9h-0.9zM207.1 257.3h0.9v0.9h-0.9zM206.2 246.7h0.9v0.9h-0.9zM203.0 250.6h0.9v0.9h-0.9zM200.1 246.3h0.9v0.9h-0.9zM203.7 244.4h0.9v0.9h-0.9zM204.8 253.6h0.9v0.9h-0.9zM202.5 249.2h0.9v0.9h-0.9zM204.9 253.6h0.9v0.9h-0.9zM204.2 244.4h0.9v0.9h-0.9zM201.3 249.0h0.9v0.9h-0.9zM198.0 246.7h0.9v0.9h-0.9zM201.1 255.3h0.9v0.9h-0.9zM195.6 243.4h0.9v0.9h-0.9zM202.0 248.3h0.9v0.9h-0.9zM201.0 248.6h0.9v0.9h-0.9zM198.7 252.4h0.9v0.9h-0.9zM206.6 251.8h0.9v0.9h-0.9zM201.7 257.8h0.9v0.9h-0.9zM204.6 245.4h0.9v0.9h-0.9zM201.6 247.7h0.9v0.9h-0.9zM203.1 257.6h0.9v0.9h-0.9zM201.2 250.2h0.9v0.9h-0.9zM203.5 244.6h0.9v0.9h-0.9zM201.8 254.3h0.9v0.9h-0.9zM206.4 240.9h0.9v0.9h-0.9zM205.2 249.4h0.9v0.9h-0.9zM206.9 254.4h0.9v0.9h-0.9zM208.8 252.7h0.9v0.9h-0.9zM202.1 246.5h0.9v0.9h-0.9zM199.1 254.0h0.9v0.9h-0.9zM204.7 255.4h0.9v0.9h-0.9zM204.2 242.9h0.9v0.9h-0.9zM202.0 249.7h0.9v0.9h-0.9zM203.7 255.1h0.9v0.9h-0.9zM207.3 252.5h0.9v0.9h-0.9zM197.3 245.5h0.9v0.9h-0.9zM197.1 246.9h0.9v0.9h-0.9zM199.8 252.3h0.9v0.9h-0.9zM202.6 257.0h0.9v0.9h-0.9zM206.3 248.5h0.9v0.9h-0.9zM205.9 251.1h0.9v0.9h-0.9zM204.5 258.3h0.9v0.9h-0.9zM199.9 250.6h0.9v0.9h-0.9zM207.6 246.9h0.9v0.9h-0.9zM203.8 251.7h0.9v0.9h-0.9zM202.0 243.9h0.9v0.9h-0.9zM201.2 245.7h0.9v0.9h-0.9zM206.3 252.3h0.9v0.9h-0.9zM205.2 244.6h0.9v0.9h-0.9zM204.6 251.8h0.9v0.9h-0.9zM206.2 247.1h0.9v0.9h-0.9zM205.5 258.4h0.9v0.9h-0.9zM208.4 246.0h0.9v0.9h-0.9zM200.0 243.1h0.9v0.9h-0.9zM206.0 254.2h0.9v0.9h-0.9zM204.2 246.3h0.9v0.9h-0.9zM203.1 250.4h0.9v0.9h-0.9zM206.6 253.7h0.9v0.9h-0.9zM207.1 248.8h0.9v0.9h-0.9zM204.2 249.2h0.9v0.9h-0.9zM201.6 249.4h0.9v0.9h-0.9zM202.4 253.7h0.9v0.9h-0.9zM202.3 251.4h0.9v0.9h-0.9zM200.9 244.4h0.9v0.9h-0.9zM207.3 245.7h0.9v0.9h-0.9zM208.4 256.1h0.9v0.9h-0.9zM196.6 247.6h0.9v0.9h-0.9zM202.0 251.1h0.9v0.9h-0.9zM202.7 247.7h0.9v0.9h-0.9zM206.8 250.3h0.9v0.9h-0.9zM206.0 247.3h0.9v0.9h-0.9zM201.2 258.2h0.9v0.9h-0.9zM202.4 245.1h0.9v0.9h-0.9zM202.7 256.7h0.9v0.9h-0.9zM202.7 247.1h0.9v0.9h-0.9zM205.0 256.3h0.9v0.9h-0.9zM202.6 249.3h0.9v0.9h-0.9zM202.8 253.2h0.9v0.9h-0.9zM197.4 252.0h0.9v0.9h-0.9z" fill="#000" fill-opacity="0.7"/>
<path d="M203.0 250.1h0.9v0.9h-0.9zM202.0 245.6h0.9v0.9h-0.9zM199.7 252.2h0.9v0.9h-0.9zM201.5 251.1h0.9v0.9h-0.9zM202.5 249.3h0.9v0.9h-0.9zM200.5 249.3h0.9v0.9h-0.9zM202.3 246.5h0.9v0.9h-0.9zM200.8 255.2h0.9v0.9h-0.9zM204.9 252.1h0.9v0.9h-0.9zM209.9 255.1h0.9v0.9h-0.9zM205.6 248.0h0.9v0.9h-0.9zM205.3 258.8h0.9v0.9h-0.9zM201.2 246.6h0.9v0.9h-0.9zM202.8 248.0h0.9v0.9h-0.9zM204.3 246.8h0.9v0.9h-0.9zM203.1 243.1h0.9v0.9h-0.9zM202.8 256.0h0.9v0.9h-0.9zM202.3 252.8h0.9v0.9h-0.9zM205.3 246.8h0.9v0.9h-0.9zM200.1 251.9h0.9v0.9h-0.9zM203.5 250.4h0.9v0.9h-0.9zM200.8 256.7h0.9v0.9h-0.9zM200.4 250.4h0.9v0.9h-0.9zM202.8 254.6h0.9v0.9h-0.9zM201.9 248.0h0.9v0.9h-0.9zM207.3 247.9h0.9v0.9h-0.9zM204.6 250.8h0.9v0.9h-0.9zM201.9 251.3h0.9v0.9h-0.9zM202.4 252.8h0.9v0.9h-0.9zM197.4 251.4h0.9v0.9h-0.9zM203.1 247.3h0.9v0.9h-0.9zM206.9 254.3h0.9v0.9h-0.9zM203.4 250.2h0.9v0.9h-0.9zM205.9 249.6h0.9v0.9h-0.9zM201.1 254.5h0.9v0.9h-0.9zM200.8 248.1h0.9v0.9h-0.9zM206.1 244.6h0.9v0.9h-0.9zM202.8 252.0h0.9v0.9h-0.9zM203.5 245.2h0.9v0.9h-0.9zM202.4 250.1h0.9v0.9h-0.9zM207.1 255.8h0.9v0.9h-0.9zM201.3 255.3h0.9v0.9h-0.9zM204.3 251.0h0.9v0.9h-0.9zM202.4 250.3h0.9v0.9h-0.9zM199.6 248.8h0.9v0.9h-0.9zM204.9 257.7h0.9v0.9h-0.9zM206.9 249.9h0.9v0.9h-0.9zM204.2 241.2h0.9v0.9h-0.9zM202.3 246.1h0.9v0.9h-0.9zM204.7 244.4h0.9v0.9h-0.9zM200.6 246.8h0.9v0.9h-0.9zM203.8 255.1h0.9v0.9h-0.9zM203.3 247.9h0.9v0.9h-0.9zM203.7 251.4h0.9v0.9h-0.9zM204.7 253.0h0.9v0.9h-0.9zM207.7 256.5h0.9v0.9h-0.9zM201.5 254.9h0.9v0.9h-0.9zM204.6 247.2h0.9v0.9h-0.9zM201.3 248.0h0.9v0.9h-0.9zM197.5 254.2h0.9v0.9h-0.9zM202.4 256.8h0.9v0.9h-0.9zM201.7 251.8h0.9v0.9h-0.9zM204.5 255.7h0.9v0.9h-0.9zM203.6 247.0h0.9v0.9h-0.9zM207.7 255.2h0.9v0.9h-0.9zM205.9 258.4h0.9v0.9h-0.9zM206.0 253.3h0.9v0.9h-0.9zM203.9 254.2h0.9v0.9h-0.9zM199.6 255.0h0.9v0.9h-0.9zM200.8 253.3h0.9v0.9h-0.9zM200.7 254.6h0.9v0.9h-0.9zM203.3 253.7h0.9v0.9h-0.9zM200.9 250.3h0.9v0.9h-0.9zM202.8 250.3h0.9v0.9h-0.9zM202.0 247.7h0.9v0.9h-0.9zM204.6 249.9h0.9v0.9h-0.9zM201.1 253.1h0.9v0.9h-0.9zM201.2 250.8h0.9v0.9h-0.9zM201.8 247.5h0.9v0.9h-0.9zM202.4 248.0h0.9v0.9h-0.9zM200.2 253.0h0.9v0.9h-0.9zM202.3 245.2h0.9v0.9h-0.9zM202.1 252.3h0.9v0.9h-0.9zM203.8 253.1h0.9v0.9h-0.9zM203.5 254.1h0.9v0.9h-0.9zM201.8 248.1h0.9v0.9h-0.9zM204.2 249.7h0.9v0.9h-0.9zM202.9 254.3h0.9v0.9h-0.9zM205.0 256.7h0.9v0.9h-0.9zM201.4 249.9h0.9v0.9h-0.9zM204.1 245.4h0.9v0.9h-0.9zM200.2 254.1h0.9v0.9h-0.9zM201.6 247.5h0.9v0.9h-0.9zM204.7 253.8h0.9v0.9h-0.9zM204.9 250.1h0.9v0.9h-0.9zM202.3 250.0h0.9v0.9h-0.9zM203.6 242.8h0.9v0.9h-0.9zM201.4 254.5h0.9v0.9h-0.9zM201.2 251.2h0.9v0.9h-0.9zM203.2 253.7h0.9v0.9h-0.9zM201.9 246.7h0.9v0.9h-0.9zM208.3 248.4h0.9v0.9h-0.9zM206.6 244.0h0.9v0.9h-0.9zM203.2 250.7h0.9v0.9h-0.9zM205.0 247.2h0.9v0.9h-0.9zM201.2 248.3h0.9v0.9h-0.9zM201.8 252.6h0.9v0.9h-0.9zM201.2 250.5h0.9v0.9h-0.9zM206.1 257.7h0.9v0.9h-0.9zM198.9 247.4h0.9v0.9h-0.9zM202.1 257.1h0.9v0.9h-0.9zM203.7 257.6h0.9v0.9h-0.9zM201.1 250.2h0.9v0.9h-0.9zM205.1 253.9h0.9v0.9h-0.9zM198.9 250.3h0.9v0.9h-0.9zM203.3 254.2h0.9v0.9h-0.9zM203.2 257.7h0.9v0.9h-0.9zM203.8 251.9h0.9v0.9h-0.9zM202.2 246.5h0.9v0.9h-0.9zM204.8 254.7h0.9v0.9h-0.9zM204.9 249.9h0.9v0.9h-0.9zM200.7 249.9h0.9v0.9h-0.9zM202.2 251.5h0.9v0.9h-0.9zM205.0 247.6h0.9v0.9h-0.9zM201.9 254.5h0.9v0.9h-0.9zM204.1 247.9h0.9v0.9h-0.9zM200.7 248.1h0.9v0.9h-0.9zM203.1 252.6h0.9v0.9h-0.9zM202.8 248.9h0.9v0.9h-0.9zM202.5 251.2h0.9v0.9h-0.9zM204.2 251.9h0.9v0.9h-0.9zM201.2 246.5h0.9v0.9h-0.9zM206.1 251.1h0.9v0.9h-0.9zM202.5 251.4h0.9v0.9h-0.9zM205.4 250.2h0.9v0.9h-0.9zM203.3 250.5h0.9v0.9h-0.9zM204.2 247.2h0.9v0.9h-0.9zM203.4 255.9h0.9v0.9h-0.9zM205.5 254.1h0.9v0.9h-0.9zM203.6 258.2h0.9v0.9h-0.9zM204.5 257.5h0.9v0.9h-0.9zM200.3 246.8h0.9v0.9h-0.9zM204.7 250.4h0.9v0.9h-0.9zM202.0 247.5h0.9v0.9h-0.9zM206.1 246.4h0.9v0.9h-0.9zM203.2 245.6h0.9v0.9h-0.9zM208.2 249.4h0.9v0.9h-0.9zM200.7 258.5h0.9v0.9h-0.9zM201.1 243.9h0.9v0.9h-0.9zM203.7 246.9h0.9v0.9h-0.9zM199.8 256.3h0.9v0.9h-0.9zM201.4 247.0h0.9v0.9h-0.9zM203.3 250.7h0.9v0.9h-0.9zM205.4 251.9h0.9v0.9h-0.9zM206.4 256.4h0.9v0.9h-0.9zM206.8 256.3h0.9v0.9h-0.9zM203.1 253.8h0.9v0.9h-0.9zM203.0 244.9h0.9v0.9h-0.9zM200.4 254.7h0.9v0.9h-0.9zM197.8 248.0h0.9v0.9h-0.9zM200.2 251.2h0.9v0.9h-0.9zM200.7 252.6h0.9v0.9h-0.9zM202.5 249.5h0.9v0.9h-0.9zM201.1 242.0h0.9v0.9h-0.9zM203.1 246.0h0.9v0.9h-0.9zM202.3 253.1h0.9v0.9h-0.9zM205.2 254.5h0.9v0.9h-0.9zM206.1 245.5h0.9v0.9h-0.9zM204.4 258.2h0.9v0.9h-0.9zM203.8 246.8h0.9v0.9h-0.9zM203.8 249.3h0.9v0.9h-0.9zM201.5 256.0h0.9v0.9h-0.9zM202.6 246.7h0.9v0.9h-0.9zM201.1 254.4h0.9v0.9h-0.9zM203.3 256.5h0.9v0.9h-0.9zM202.3 247.5h0.9v0.9h-0.9zM201.6 247.1h0.9v0.9h-0.9zM208.5 252.3h0.9v0.9h-0.9zM202.2 256.9h0.9v0.9h-0.9zM204.3 250.7h0.9v0.9h-0.9zM204.3 252.7h0.9v0.9h-0.9zM205.4 258.5h0.9v0.9h-0.9zM202.3 251.4h0.9v0.9h-0.9zM202.5 256.7h0.9v0.9h-0.9zM203.8 254.8h0.9v0.9h-0.9zM204.9 248.8h0.9v0.9h-0.9zM203.2 257.4h0.9v0.9h-0.9zM204.9 255.0h0.9v0.9h-0.9zM202.3 250.0h0.9v0.9h-0.9zM201.1 250.4h0.9v0.9h-0.9zM202.8 245.4h0.9v0.9h-0.9zM205.4 248.3h0.9v0.9h-0.9zM203.5 254.1h0.9v0.9h-0.9zM201.8 243.8h0.9v0.9h-0.9zM205.0 253.3h0.9v0.9h-0.9zM202.4 256.3h0.9v0.9h-0.9zM204.9 247.5h0.9v0.9h-0.9zM202.8 244.0h0.9v0.9h-0.9zM202.4 257.5h0.9v0.9h-0.9zM201.1 255.0h0.9v0.9h-0.9zM199.7 250.3h0.9v0.9h-0.9zM205.0 258.8h0.9v0.9h-0.9zM203.9 254.7h0.9v0.9h-0.9zM206.6 241.1h0.9v0.9h-0.9zM208.2 254.1h0.9v0.9h-0.9zM203.1 252.6h0.9v0.9h-0.9zM203.0 248.9h0.9v0.9h-0.9zM202.9 251.0h0.9v0.9h-0.9zM204.4 254.4h0.9v0.9h-0.9zM205.0 254.0h0.9v0.9h-0.9zM200.9 257.4h0.9v0.9h-0.9zM197.2 252.0h0.9v0.9h-0.9zM203.6 249.3h0.9v0.9h-0.9zM207.0 246.9h0.9v0.9h-0.9zM200.4 249.4h0.9v0.9h-0.9zM203.8 254.9h0.9v0.9h-0.9zM203.2 254.4h0.9v0.9h-0.9zM201.4 248.9h0.9v0.9h-0.9zM203.2 245.8h0.9v0.9h-0.9zM203.3 249.8h0.9v0.9h-0.9zM204.4 247.2h0.9v0.9h-0.9zM201.8 249.1h0.9v0.9h-0.9zM202.2 247.3h0.9v0.9h-0.9zM202.4 245.8h0.9v0.9h-0.9zM204.1 254.4h0.9v0.9h-0.9zM202.9 250.7h0.9v0.9h-0.9zM201.0 247.4h0.9v0.9h-0.9zM202.5 247.7h0.9v0.9h-0.9zM200.4 252.2h0.9v0.9h-0.9zM202.9 249.8h0.9v0.9h-0.9zM201.2 251.3h0.9v0.9h-0.9zM201.5 249.7h0.9v0.9h-0.9zM203.3 254.6h0.9v0.9h-0.9zM204.6 248.9h0.9v0.9h-0.9zM205.5 246.6h0.9v0.9h-0.9zM202.6 257.1h0.9v0.9h-0.9zM208.0 252.1h0.9v0.9h-0.9zM202.2 249.9h0.9v0.9h-0.9zM200.3 250.9h0.9v0.9h-0.9zM202.0 248.3h0.9v0.9h-0.9zM205.5 248.2h0.9v0.9h-0.9zM206.5 255.1h0.9v0.9h-0.9zM204.3 249.0h0.9v0.9h-0.9zM201.9 243.0h0.9v0.9h-0.9zM203.5 250.4h0.9v0.9h-0.9zM203.8 248.7h0.9v0.9h-0.9zM204.0 245.1h0.9v0.9h-0.9zM198.3 253.5h0.9v0.9h-0.9zM205.2 238.1h0.9v0.9h-0.9zM205.7 250.0h0.9v0.9h-0.9zM202.6 245.0h0.9v0.9h-0.9zM200.8 254.5h0.9v0.9h-0.9zM201.4 251.3h0.9v0.9h-0.9zM204.8 245.9h0.9v0.9h-0.9zM201.9 246.6h0.9v0.9h-0.9zM200.0 248.6h0.9v0.9h-0.9zM205.3 251.7h0.9v0.9h-0.9zM204.4 250.9h0.9v0.9h-0.9zM202.0 251.9h0.9v0.9h-0.9zM206.8 253.1h0.9v0.9h-0.9zM204.2 243.0h0.9v0.9h-0.9zM201.2 255.0h0.9v0.9h-0.9zM205.5 249.8h0.9v0.9h-0.9zM202.5 249.6h0.9v0.9h-0.9zM204.6 251.6h0.9v0.9h-0.9zM206.1 256.6h0.9v0.9h-0.9zM202.3 248.9h0.9v0.9h-0.9zM202.4 247.8h0.9v0.9h-0.9zM202.0 251.2h0.9v0.9h-0.9zM204.8 244.8h0.9v0.9h-0.9zM200.0 248.2h0.9v0.9h-0.9zM202.3 253.4h0.9v0.9h-0.9zM201.3 257.9h0.9v0.9h-0.9zM201.8 250.6h0.9v0.9h-0.9zM203.0 256.5h0.9v0.9h-0.9zM203.6 251.6h0.9v0.9h-0.9zM201.8 252.2h0.9v0.9h-0.9zM203.8 250.0h0.9v0.9h-0.9zM202.9 243.7h0.9v0.9h-0.9zM201.8 256.5h0.9v0.9h-0.9zM205.9 251.2h0.9v0.9h-0.9zM202.1 255.8h0.9v0.9h-0.9zM201.6 257.4h0.9v0.9h-0.9zM205.4 247.0h0.9v0.9h-0.9zM202.5 246.3h0.9v0.9h-0.9zM203.5 249.8h0.9v0.9h-0.9zM199.7 247.0h0.9v0.9h-0.9zM203.4 245.0h0.9v0.9h-0.9zM205.2 253.4h0.9v0.9h-0.9zM202.5 257.5h0.9v0.9h-0.9zM201.0 254.4h0.9v0.9h-0.9zM200.1 250.1h0.9v0.9h-0.9zM204.3 249.2h0.9v0.9h-0.9zM202.7 254.3h0.9v0.9h-0.9zM206.2 257.1h0.9v0.9h-0.9zM203.9 250.4h0.9v0.9h-0.9zM199.9 258.8h0.9v0.9h-0.9zM206.9 242.3h0.9v0.9h-0.9zM204.8 251.3h0.9v0.9h-0.9zM204.4 252.9h0.9v0.9h-0.9zM202.5 251.5h0.9v0.9h-0.9zM202.8 256.5h0.9v0.9h-0.9zM202.4 249.2h0.9v0.9h-0.9zM204.3 254.3h0.9v0.9h-0.9zM203.8 252.7h0.9v0.9h-0.9zM206.0 256.3h0.9v0.9h-0.9zM203.4 250.6h0.9v0.9h-0.9zM204.3 243.5h0.9v0.9h-0.9zM201.8 248.5h0.9v0.9h-0.9zM203.3 249.9h0.9v0.9h-0.9zM208.1 254.7h0.9v0.9h-0.9zM202.9 250.1h0.9v0.9h-0.9zM205.5 255.0h0.9v0.9h-0.9zM204.9 256.7h0.9v0.9h-0.9zM202.2 248.7h0.9v0.9h-0.9zM201.4 251.9h0.9v0.9h-0.9zM205.0 247.0h0.9v0.9h-0.9zM201.8 245.8h0.9v0.9h-0.9zM207.2 254.9h0.9v0.9h-0.9zM203.4 246.3h0.9v0.9h-0.9zM200.7 248.7h0.9v0.9h-0.9zM203.0 246.1h0.9v0.9h-0.9zM202.4 256.7h0.9v0.9h-0.9zM202.9 251.9h0.9v0.9h-0.9zM198.5 250.3h0.9v0.9h-0.9zM202.6 248.5h0.9v0.9h-0.9zM200.0 251.2h0.9v0.9h-0.9zM200.8 249.2h0.9v0.9h-0.9zM199.5 251.1h0.9v0.9h-0.9zM204.8 247.9h0.9v0.9h-0.9zM203.6 245.0h0.9v0.9h-0.9zM204.1 253.8h0.9v0.9h-0.9zM202.1 255.3h0.9v0.9h-0.9zM201.1 251.7h0.9v0.9h-0.9zM206.5 251.4h0.9v0.9h-0.9zM200.5 256.4h0.9v0.9h-0.9zM204.1 250.3h0.9v0.9h-0.9zM199.1 243.4h0.9v0.9h-0.9zM199.7 257.9h0.9v0.9h-0.9zM203.5 247.9h0.9v0.9h-0.9zM205.4 257.8h0.9v0.9h-0.9zM201.1 253.6h0.9v0.9h-0.9zM199.4 253.1h0.9v0.9h-0.9zM206.8 245.4h0.9v0.9h-0.9zM203.0 248.8h0.9v0.9h-0.9zM202.7 251.9h0.9v0.9h-0.9zM203.5 255.3h0.9v0.9h-0.9zM204.0 256.0h0.9v0.9h-0.9zM205.1 256.2h0.9v0.9h-0.9zM201.5 253.3h0.9v0.9h-0.9zM202.1 247.9h0.9v0.9h-0.9zM207.1 252.8h0.9v0.9h-0.9zM203.0 242.5h0.9v0.9h-0.9zM202.4 254.8h0.9v0.9h-0.9zM202.5 249.2h0.9v0.9h-0.9zM206.0 250.2h0.9v0.9h-0.9zM202.2 251.1h0.9v0.9h-0.9zM202.4 256.0h0.9v0.9h-0.9zM204.1 251.2h0.9v0.9h-0.9zM202.2 250.5h0.9v0.9h-0.9zM206.5 250.2h0.9v0.9h-0.9zM204.3 244.7h0.9v0.9h-0.9zM203.6 254.5h0.9v0.9h-0.9zM205.6 252.9h0.9v0.9h-0.9zM204.1 252.9h0.9v0.9h-0.9zM203.3 248.0h0.9v0.9h-0.9zM204.2 251.0h0.9v0.9h-0.9zM204.3 254.8h0.9v0.9h-0.9zM203.2 249.6h0.9v0.9h-0.9zM203.6 246.1h0.9v0.9h-0.9zM203.5 247.7h0.9v0.9h-0.9zM203.9 252.0h0.9v0.9h-0.9zM202.5 246.3h0.9v0.9h-0.9zM203.0 248.6h0.9v0.9h-0.9zM202.6 254.5h0.9v0.9h-0.9zM204.9 246.0h0.9v0.9h-0.9zM204.9 257.3h0.9v0.9h-0.9zM205.3 252.7h0.9v0.9h-0.9zM202.2 245.0h0.9v0.9h-0.9zM203.1 252.7h0.9v0.9h-0.9zM200.7 246.3h0.9v0.9h-0.9zM207.1 252.0h0.9v0.9h-0.9zM204.6 249.0h0.9v0.9h-0.9zM199.7 250.7h0.9v0.9h-0.9zM205.7 248.6h0.9v0.9h-0.9zM199.2 250.8h0.9v0.9h-0.9zM202.3 251.6h0.9v0.9h-0.9zM200.7 250.2h0.9v0.9h-0.9zM201.8 255.3h0.9v0.9h-0.9zM203.2 255.2h0.9v0.9h-0.9zM202.8 242.3h0.9v0.9h-0.9zM198.8 253.8h0.9v0.9h-0.9zM204.8 255.3h0.9v0.9h-0.9zM202.8 243.8h0.9v0.9h-0.9zM201.9 253.2h0.9v0.9h-0.9zM205.8 250.0h0.9v0.9h-0.9zM201.7 248.2h0.9v0.9h-0.9zM205.1 255.2h0.9v0.9h-0.9zM199.1 256.7h0.9v0.9h-0.9zM201.0 245.2h0.9v0.9h-0.9zM199.6 248.4h0.9v0.9h-0.9zM200.3 248.6h0.9v0.9h-0.9zM203.3 253.3h0.9v0.9h-0.9zM201.9 244.7h0.9v0.9h-0.9zM202.1 248.6h0.9v0.9h-0.9zM199.2 252.1h0.9v0.9h-0.9zM199.8 244.0h0.9v0.9h-0.9zM206.1 255.5h0.9v0.9h-0.9zM206.0 252.0h0.9v0.9h-0.9zM202.1 251.1h0.9v0.9h-0.9zM200.0 254.7h0.9v0.9h-0.9zM203.5 250.2h0.9v0.9h-0.9zM199.0 251.0h0.9v0.9h-0.9zM206.4 257.7h0.9v0.9h-0.9zM204.8 250.0h0.9v0.9h-0.9zM203.2 253.9h0.9v0.9h-0.9zM203.3 256.0h0.9v0.9h-0.9zM201.5 241.5h0.9v0.9h-0.9zM197.8 247.6h0.9v0.9h-0.9zM200.0 254.4h0.9v0.9h-0.9zM205.2 251.5h0.9v0.9h-0.9zM204.1 251.8h0.9v0.9h-0.9zM203.3 249.5h0.9v0.9h-0.9zM202.1 256.6h0.9v0.9h-0.9zM202.4 251.3h0.9v0.9h-0.9zM205.4 255.7h0.9v0.9h-0.9zM202.1 252.6h0.9v0.9h-0.9zM200.8 252.1h0.9v0.9h-0.9zM203.6 251.5h0.9v0.9h-0.9zM203.3 253.1h0.9v0.9h-0.9zM197.6 248.0h0.9v0.9h-0.9zM203.1 249.4h0.9v0.9h-0.9zM200.9 250.5h0.9v0.9h-0.9zM206.3 250.5h0.9v0.9h-0.9zM201.6 249.4h0.9v0.9h-0.9zM200.4 253.6h0.9v0.9h-0.9zM200.8 255.4h0.9v0.9h-0.9zM204.8 254.0h0.9v0.9h-0.9zM205.1 251.1h0.9v0.9h-0.9zM199.2 251.2h0.9v0.9h-0.9zM204.3 244.9h0.9v0.9h-0.9zM200.4 256.2h0.9v0.9h-0.9zM203.8 257.3h0.9v0.9h-0.9zM204.3 251.8h0.9v0.9h-0.9zM203.8 255.2h0.9v0.9h-0.9zM202.9 250.6h0.9v0.9h-0.9zM203.6 250.1h0.9v0.9h-0.9zM208.0 248.2h0.9v0.9h-0.9zM199.7 245.9h0.9v0.9h-0.9zM205.1 249.8h0.9v0.9h-0.9zM203.3 250.6h0.9v0.9h-0.9zM203.5 245.3h0.9v0.9h-0.9zM203.1 249.0h0.9v0.9h-0.9zM205.2 254.2h0.9v0.9h-0.9zM200.3 247.3h0.9v0.9h-0.9zM204.1 256.6h0.9v0.9h-0.9zM204.5 250.8h0.9v0.9h-0.9zM205.3 241.4h0.9v0.9h-0.9zM201.8 247.3h0.9v0.9h-0.9zM200.7 253.9h0.9v0.9h-0.9zM203.5 252.7h0.9v0.9h-0.9zM202.6 254.2h0.9v0.9h-0.9zM204.6 249.0h0.9v0.9h-0.9zM204.9 247.5h0.9v0.9h-0.9zM206.7 245.9h0.9v0.9h-0.9zM202.3 246.8h0.9v0.9h-0.9zM203.0 257.2h0.9v0.9h-0.9zM205.9 253.2h0.9v0.9h-0.9zM201.7 255.4h0.9v0.9h-0.9zM196.9 248.2h0.9v0.9h-0.9zM205.0 251.3h0.9v0.9h-0.9zM208.2 248.6h0.9v0.9h-0.9zM200.1 250.6h0.9v0.9h-0.9zM204.2 258.8h0.9v0.9h-0.9zM199.2 252.2h0.9v0.9h-0.9zM205.6 248.6h0.9v0.9h-0.9zM202.0 246.3h0.9v0.9h-0.9zM204.6 255.1h0.9v0.9h-0.9zM204.2 252.6h0.9v0.9h-0.9zM205.0 251.0h0.9v0.9h-0.9zM204.5 255.0h0.9v0.9h-0.9zM205.7 253.7h0.9v0.9h-0.9zM203.1 254.6h0.9v0.9h-0.9zM199.6 243.9h0.9v0.9h-0.9zM206.4 252.1h0.9v0.9h-0.9zM200.7 249.0h0.9v0.9h-0.9zM202.6 251.8h0.9v0.9h-0.9zM201.3 255.8h0.9v0.9h-0.9zM200.6 258.7h0.9v0.9h-0.9zM204.4 244.2h0.9v0.9h-0.9zM200.3 251.8h0.9v0.9h-0.9zM203.5 249.7h0.9v0.9h-0.9zM203.0 252.2h0.9v0.9h-0.9zM200.5 251.8h0.9v0.9h-0.9zM207.8 248.7h0.9v0.9h-0.9zM200.8 254.4h0.9v0.9h-0.9zM205.8 256.0h0.9v0.9h-0.9zM201.6 251.2h0.9v0.9h-0.9zM203.4 250.6h0.9v0.9h-0.9zM203.8 256.2h0.9v0.9h-0.9zM204.1 251.5h0.9v0.9h-0.9zM204.5 251.9h0.9v0.9h-0.9zM205.5 255.4h0.9v0.9h-0.9zM207.4 243.7h0.9v0.9h-0.9zM203.1 250.2h0.9v0.9h-0.9zM201.4 251.8h0.9v0.9h-0.9zM204.1 253.8h0.9v0.9h-0.9zM202.6 245.8h0.9v0.9h-0.9zM204.1 254.1h0.9v0.9h-0.9zM207.5 255.5h0.9v0.9h-0.9zM203.0 246.5h0.9v0.9h-0.9zM208.8 248.6h0.9v0.9h-0.9zM203.4 254.7h0.9v0.9h-0.9zM204.0 257.3h0.9v0.9h-0.9zM200.7 248.5h0.9v0.9h-0.9zM203.3 246.2h0.9v0.9h-0.9zM201.6 257.5h0.9v0.9h-0.9zM203.6 251.1h0.9v0.9h-0.9zM201.7 251.7h0.9v0.9h-0.9zM202.9 246.8h0.9v0.9h-0.9zM204.6 245.9h0.9v0.9h-0.9zM205.7 250.0h0.9v0.9h-0.9zM198.0 244.8h0.9v0.9h-0.9zM203.6 247.7h0.9v0.9h-0.9zM206.9 257.5h0.9v0.9h-0.9zM207.5 255.4h0.9v0.9h-0.9zM205.9 248.9h0.9v0.9h-0.9zM205.8 249.6h0.9v0.9h-0.9zM202.8 245.6h0.9v0.9h-0.9zM203.1 253.3h0.9v0.9h-0.9zM202.8 246.7h0.9v0.9h-0.9zM204.9 255.5h0.9v0.9h-0.9zM202.7 254.9h0.9v0.9h-0.9zM205.1 247.2h0.9v0.9h-0.9zM202.9 243.4h0.9v0.9h-0.9zM200.7 253.4h0.9v0.9h-0.9zM201.0 253.2h0.9v0.9h-0.9zM203.7 242.5h0.9v0.9h-0.9zM201.9 258.1h0.9v0.9h-0.9zM203.0 252.0h0.9v0.9h-0.9zM201.4 244.5h0.9v0.9h-0.9zM202.5 247.7h0.9v0.9h-0.9zM203.2 243.0h0.9v0.9h-0.9zM201.3 252.9h0.9v0.9h-0.9zM201.0 255.2h0.9v0.9h-0.9zM201.1 250.9h0.9v0.9h-0.9zM205.8 253.8h0.9v0.9h-0.9zM202.2 244.9h0.9v0.9h-0.9zM199.4 256.8h0.9v0.9h-0.9zM204.1 251.8h0.9v0.9h-0.9zM205.7 252.1h0.9v0.9h-0.9zM201.3 251.0h0.9v0.9h-0.9zM202.7 251.4h0.9v0.9h-0.9zM208.4 254.0h0.9v0.9h-0.9zM203.5 250.4h0.9v0.9h-0.9zM201.4 247.2h0.9v0.9h-0.9zM198.8 249.5h0.9v0.9h-0.9zM199.6 243.4h0.9v0.9h-0.9zM200.9 242.6h0.9v0.9h-0.9zM205.9 257.0h0.9v0.9h-0.9zM204.4 240.4h0.9v0.9h-0.9zM203.0 247.1h0.9v0.9h-0.9zM199.1 250.4h0.9v0.9h-0.9zM205.5 253.5h0.9v0.9h-0.9zM199.7 248.6h0.9v0.9h-0.9zM201.3 256.5h0.9v0.9h-0.9zM202.7 247.2h0.9v0.9h-0.9zM200.9 242.8h0.9v0.9h-0.9zM201.1 255.4h0.9v0.9h-0.9zM198.7 252.3h0.9v0.9h-0.9zM202.7 255.1h0.9v0.9h-0.9zM200.4 255.5h0.9v0.9h-0.9zM199.3 251.4h0.9v0.9h-0.9zM202.5 252.0h0.9v0.9h-0.9zM200.7 255.3h0.9v0.9h-0.9zM208.1 258.1h0.9v0.9h-0.9zM200.8 249.0h0.9v0.9h-0.9zM204.5 252.1h0.9v0.9h-0.9zM201.2 256.9h0.9v0.9h-0.9zM204.1 256.0h0.9v0.9h-0.9zM202.5 257.1h0.9v0.9h-0.9zM201.9 246.6h0.9v0.9h-0.9zM202.9 245.4h0.9v0.9h-0.9zM205.7 254.7h0.9v0.9h-0.9zM199.2 252.3h0.9v0.9h-0.9zM204.8 249.9h0.9v0.9h-0.9zM203.8 248.9h0.9v0.9h-0.9zM202.8 251.1h0.9v0.9h-0.9zM204.0 247.2h0.9v0.9h-0.9zM200.4 253.0h0.9v0.9h-0.9zM201.8 253.8h0.9v0.9h-0.9zM201.8 245.7h0.9v0.9h-0.9zM204.5 252.7h0.9v0.9h-0.9zM204.5 250.0h0.9v0.9h-0.9zM202.1 257.1h0.9v0.9h-0.9zM204.0 251.2h0.9v0.9h-0.9zM203.1 254.2h0.9v0.9h-0.9zM201.2 252.7h0.9v0.9h-0.9zM200.8 243.4h0.9v0.9h-0.9zM203.4 251.9h0.9v0.9h-0.9zM204.3 254.0h0.9v0.9h-0.9zM204.5 255.0h0.9v0.9h-0.9zM200.6 256.9h0.9v0.9h-0.9zM208.8 249.0h0.9v0.9h-0.9zM200.1 254.5h0.9v0.9h-0.9zM204.9 256.0h0.9v0.9h-0.9zM206.3 245.4h0.9v0.9h-0.9zM203.7 253.5h0.9v0.9h-0.9zM205.7 247.6h0.9v0.9h-0.9zM203.0 249.9h0.9v0.9h-0.9zM202.6 250.9h0.9v0.9h-0.9zM202.6 243.7h0.9v0.9h-0.9zM202.8 251.8h0.9v0.9h-0.9zM202.1 235.8h0.9v0.9h-0.9zM201.4 248.6h0.9v0.9h-0.9zM201.0 258.6h0.9v0.9h-0.9zM205.0 250.7h0.9v0.9h-0.9zM200.8 253.6h0.9v0.9h-0.9zM201.6 258.1h0.9v0.9h-0.9zM205.4 251.0h0.9v0.9h-0.9zM204.3 248.0h0.9v0.9h-0.9zM199.4 255.2h0.9v0.9h-0.9zM206.5 250.2h0.9v0.9h-0.9zM201.7 243.6h0.9v0.9h-0.9zM207.7 246.2h0.9v0.9h-0.9zM200.8 250.6h0.9v0.9h-0.9zM205.6 251.7h0.9v0.9h-0.9zM202.9 251.6h0.9v0.9h-0.9zM204.8 251.3h0.9v0.9h-0.9zM203.3 251.2h0.9v0.9h-0.9zM200.4 257.4h0.9v0.9h-0.9zM201.4 245.7h0.9v0.9h-0.9zM201.9 251.6h0.9v0.9h-0.9zM204.7 245.0h0.9v0.9h-0.9zM200.1 252.3h0.9v0.9h-0.9zM203.8 246.7h0.9v0.9h-0.9zM200.4 252.3h0.9v0.9h-0.9zM202.6 244.4h0.9v0.9h-0.9zM201.0 258.1h0.9v0.9h-0.9zM200.6 256.1h0.9v0.9h-0.9zM199.5 258.1h0.9v0.9h-0.9zM206.4 248.7h0.9v0.9h-0.9zM201.4 254.3h0.9v0.9h-0.9zM200.2 253.9h0.9v0.9h-0.9zM205.6 252.7h0.9v0.9h-0.9zM203.6 250.8h0.9v0.9h-0.9zM205.1 247.9h0.9v0.9h-0.9zM206.4 251.4h0.9v0.9h-0.9zM202.2 244.3h0.9v0.9h-0.9zM201.9 252.5h0.9v0.9h-0.9zM205.7 244.4h0.9v0.9h-0.9zM202.6 248.5h0.9v0.9h-0.9zM200.3 251.5h0.9v0.9h-0.9zM201.2 255.3h0.9v0.9h-0.9zM196.9 254.8h0.9v0.9h-0.9zM198.7 242.9h0.9v0.9h-0.9zM204.1 250.0h0.9v0.9h-0.9zM203.2 247.2h0.9v0.9h-0.9zM200.6 248.2h0.9v0.9h-0.9zM202.8 247.8h0.9v0.9h-0.9zM202.0 247.7h0.9v0.9h-0.9zM203.4 246.5h0.9v0.9h-0.9zM198.3 239.9h0.9v0.9h-0.9zM202.9 251.9h0.9v0.9h-0.9zM205.0 248.2h0.9v0.9h-0.9zM200.4 244.9h0.9v0.9h-0.9zM204.6 248.7h0.9v0.9h-0.9zM205.1 251.2h0.9v0.9h-0.9zM202.3 243.3h0.9v0.9h-0.9zM201.4 255.0h0.9v0.9h-0.9zM201.6 254.5h0.9v0.9h-0.9zM199.3 256.0h0.9v0.9h-0.9zM209.1 256.4h0.9v0.9h-0.9zM203.6 246.0h0.9v0.9h-0.9zM201.7 248.6h0.9v0.9h-0.9zM203.3 242.6h0.9v0.9h-0.9zM201.0 255.0h0.9v0.9h-0.9zM203.2 254.8h0.9v0.9h-0.9zM204.8 246.4h0.9v0.9h-0.9zM199.9 253.6h0.9v0.9h-0.9zM203.0 251.8h0.9v0.9h-0.9zM201.1 256.0h0.9v0.9h-0.9zM204.0 256.5h0.9v0.9h-0.9zM202.1 254.6h0.9v0.9h-0.9zM202.8 247.3h0.9v0.9h-0.9zM202.7 244.2h0.9v0.9h-0.9zM202.5 252.3h0.9v0.9h-0.9zM204.4 246.8h0.9v0.9h-0.9zM200.0 248.3h0.9v0.9h-0.9zM198.3 248.6h0.9v0.9h-0.9zM208.7 252.1h0.9v0.9h-0.9zM201.2 248.5h0.9v0.9h-0.9zM206.8 246.4h0.9v0.9h-0.9zM202.6 251.2h0.9v0.9h-0.9zM201.3 248.3h0.9v0.9h-0.9zM199.2 247.8h0.9v0.9h-0.9zM205.8 257.8h0.9v0.9h-0.9zM202.3 254.6h0.9v0.9h-0.9zM203.9 252.0h0.9v0.9h-0.9zM202.6 256.9h0.9v0.9h-0.9zM204.2 250.5h0.9v0.9h-0.9zM202.4 255.6h0.9v0.9h-0.9zM201.6 248.3h0.9v0.9h-0.9zM202.3 249.3h0.9v0.9h-0.9zM205.7 253.1h0.9v0.9h-0.9zM202.7 249.2h0.9v0.9h-0.9zM206.0 253.4h0.9v0.9h-0.9zM207.5 255.5h0.9v0.9h-0.9zM202.4 249.1h0.9v0.9h-0.9zM202.3 252.3h0.9v0.9h-0.9zM204.6 253.6h0.9v0.9h-0.9zM206.4 244.8h0.9v0.9h-0.9zM203.0 245.2h0.9v0.9h-0.9zM200.6 248.8h0.9v0.9h-0.9zM201.5 247.2h0.9v0.9h-0.9zM199.5 256.5h0.9v0.9h-0.9zM202.2 255.8h0.9v0.9h-0.9zM200.5 241.3h0.9v0.9h-0.9zM201.6 255.4h0.9v0.9h-0.9zM201.7 253.2h0.9v0.9h-0.9zM200.5 257.6h0.9v0.9h-0.9zM203.9 256.1h0.9v0.9h-0.9zM202.3 257.1h0.9v0.9h-0.9zM203.1 249.3h0.9v0.9h-0.9zM201.5 251.7h0.9v0.9h-0.9zM200.9 246.2h0.9v0.9h-0.9zM203.2 254.6h0.9v0.9h-0.9zM202.3 255.2h0.9v0.9h-0.9zM206.4 245.9h0.9v0.9h-0.9zM203.5 247.2h0.9v0.9h-0.9zM201.5 252.3h0.9v0.9h-0.9zM197.7 254.2h0.9v0.9h-0.9zM204.8 253.9h0.9v0.9h-0.9zM202.1 256.3h0.9v0.9h-0.9zM206.1 253.7h0.9v0.9h-0.9zM199.0 250.8h0.9v0.9h-0.9zM202.3 244.4h0.9v0.9h-0.9zM202.8 254.8h0.9v0.9h-0.9zM202.3 250.7h0.9v0.9h-0.9zM206.1 248.8h0.9v0.9h-0.9zM200.8 251.7h0.9v0.9h-0.9zM205.4 254.1h0.9v0.9h-0.9zM203.1 249.3h0.9v0.9h-0.9zM205.6 255.4h0.9v0.9h-0.9zM199.1 253.0h0.9v0.9h-0.9zM197.6 258.1h0.9v0.9h-0.9zM204.2 248.7h0.9v0.9h-0.9zM200.1 250.2h0.9v0.9h-0.9zM199.0 254.0h0.9v0.9h-0.9zM201.8 243.7h0.9v0.9h-0.9zM202.9 256.7h0.9v0.9h-0.9zM200.1 249.9h0.9v0.9h-0.9zM206.9 252.3h0.9v0.9h-0.9zM201.7 252.3h0.9v0.9h-0.9zM204.6 247.1h0.9v0.9h-0.9zM202.7 244.3h0.9v0.9h-0.9zM199.4 244.7h0.9v0.9h-0.9zM204.8 252.9h0.9v0.9h-0.9zM204.5 256.9h0.9v0.9h-0.9zM203.0 252.5h0.9v0.9h-0.9zM203.8 253.6h0.9v0.9h-0.9zM200.6 250.3h0.9v0.9h-0.9zM202.6 251.7h0.9v0.9h-0.9zM201.2 250.9h0.9v0.9h-0.9zM203.5 252.3h0.9v0.9h-0.9zM204.2 255.1h0.9v0.9h-0.9zM204.1 255.8h0.9v0.9h-0.9zM204.8 257.6h0.9v0.9h-0.9zM204.3 248.8h0.9v0.9h-0.9zM208.0 256.5h0.9v0.9h-0.9zM205.7 254.7h0.9v0.9h-0.9zM203.0 246.5h0.9v0.9h-0.9zM203.9 249.9h0.9v0.9h-0.9zM202.0 242.1h0.9v0.9h-0.9zM206.3 246.3h0.9v0.9h-0.9zM200.5 253.5h0.9v0.9h-0.9zM204.1 248.0h0.9v0.9h-0.9zM202.9 252.6h0.9v0.9h-0.9zM203.2 253.8h0.9v0.9h-0.9zM204.6 249.9h0.9v0.9h-0.9zM202.0 247.1h0.9v0.9h-0.9zM204.6 254.1h0.9v0.9h-0.9zM197.7 257.1h0.9v0.9h-0.9zM202.8 252.9h0.9v0.9h-0.9zM203.6 250.5h0.9v0.9h-0.9zM203.6 245.7h0.9v0.9h-0.9zM197.2 256.9h0.9v0.9h-0.9zM198.0 247.7h0.9v0.9h-0.9zM204.8 249.7h0.9v0.9h-0.9zM201.6 244.9h0.9v0.9h-0.9zM202.6 250.7h0.9v0.9h-0.9zM201.5 244.6h0.9v0.9h-0.9zM203.2 253.3h0.9v0.9h-0.9zM205.4 253.8h0.9v0.9h-0.9zM206.3 256.8h0.9v0.9h-0.9zM196.7 258.8h0.9v0.9h-0.9zM202.7 246.9h0.9v0.9h-0.9zM203.9 255.7h0.9v0.9h-0.9zM199.5 246.0h0.9v0.9h-0.9zM204.4 249.1h0.9v0.9h-0.9zM206.1 252.5h0.9v0.9h-0.9zM201.7 245.6h0.9v0.9h-0.9zM204.2 243.9h0.9v0.9h-0.9zM200.0 245.7h0.9v0.9h-0.9zM202.4 249.8h0.9v0.9h-0.9zM204.4 257.0h0.9v0.9h-0.9zM202.4 256.5h0.9v0.9h-0.9zM197.7 251.3h0.9v0.9h-0.9zM202.4 245.9h0.9v0.9h-0.9zM207.2 248.5h0.9v0.9h-0.9zM202.9 246.0h0.9v0.9h-0.9zM204.4 252.3h0.9v0.9h-0.9zM202.3 249.7h0.9v0.9h-0.9zM201.6 248.3h0.9v0.9h-0.9zM199.8 256.8h0.9v0.9h-0.9zM204.9 245.4h0.9v0.9h-0.9zM200.3 253.3h0.9v0.9h-0.9zM207.9 250.6h0.9v0.9h-0.9zM202.2 250.4h0.9v0.9h-0.9zM203.4 250.7h0.9v0.9h-0.9zM205.3 255.8h0.9v0.9h-0.9zM204.1 258.4h0.9v0.9h-0.9zM202.4 249.1h0.9v0.9h-0.9zM209.5 243.0h0.9v0.9h-0.9zM199.5 241.1h0.9v0.9h-0.9zM203.7 246.8h0.9v0.9h-0.9zM205.2 242.2h0.9v0.9h-0.9zM202.6 249.8h0.9v0.9h-0.9zM200.5 256.4h0.9v0.9h-0.9zM202.0 253.5h0.9v0.9h-0.9zM201.7 252.2h0.9v0.9h-0.9zM201.9 251.8h0.9v0.9h-0.9zM202.7 248.5h0.9v0.9h-0.9zM203.9 250.7h0.9v0.9h-0.9zM200.8 246.9h0.9v0.9h-0.9zM203.9 257.4h0.9v0.9h-0.9zM200.0 249.6h0.9v0.9h-0.9zM203.9 256.1h0.9v0.9h-0.9zM204.5 246.3h0.9v0.9h-0.9zM203.0 255.5h0.9v0.9h-0.9zM203.4 250.5h0.9v0.9h-0.9zM200.3 252.2h0.9v0.9h-0.9zM202.8 251.6h0.9v0.9h-0.9zM206.2 256.7h0.9v0.9h-0.9zM201.1 252.5h0.9v0.9h-0.9zM202.2 251.9h0.9v0.9h-0.9zM206.5 255.5h0.9v0.9h-0.9zM203.0 248.6h0.9v0.9h-0.9zM202.5 253.1h0.9v0.9h-0.9zM201.8 256.4h0.9v0.9h-0.9zM202.9 246.3h0.9v0.9h-0.9zM207.4 238.7h0.9v0.9h-0.9zM202.3 251.0h0.9v0.9h-0.9zM205.1 256.4h0.9v0.9h-0.9zM206.1 258.4h0.9v0.9h-0.9zM203.6 252.0h0.9v0.9h-0.9zM205.1 251.4h0.9v0.9h-0.9zM200.1 249.5h0.9v0.9h-0.9zM204.4 254.2h0.9v0.9h-0.9zM200.5 256.8h0.9v0.9h-0.9zM203.6 244.9h0.9v0.9h-0.9zM203.9 255.9h0.9v0.9h-0.9zM204.1 250.1h0.9v0.9h-0.9zM201.1 256.4h0.9v0.9h-0.9zM203.4 251.5h0.9v0.9h-0.9zM202.0 246.9h0.9v0.9h-0.9zM198.8 250.0h0.9v0.9h-0.9zM205.3 254.9h0.9v0.9h-0.9zM201.4 258.2h0.9v0.9h-0.9zM202.4 247.1h0.9v0.9h-0.9zM205.1 257.6h0.9v0.9h-0.9zM202.0 246.1h0.9v0.9h-0.9zM202.8 240.8h0.9v0.9h-0.9zM203.0 258.2h0.9v0.9h-0.9zM203.5 248.3h0.9v0.9h-0.9zM204.5 249.3h0.9v0.9h-0.9zM205.7 249.9h0.9v0.9h-0.9zM207.4 249.9h0.9v0.9h-0.9zM203.3 247.4h0.9v0.9h-0.9zM200.1 253.0h0.9v0.9h-0.9zM203.7 247.2h0.9v0.9h-0.9zM204.1 249.7h0.9v0.9h-0.9zM201.7 251.2h0.9v0.9h-0.9zM203.8 254.7h0.9v0.9h-0.9zM205.6 253.2h0.9v0.9h-0.9zM201.3 248.5h0.9v0.9h-0.9zM203.7 246.2h0.9v0.9h-0.9zM202.5 249.8h0.9v0.9h-0.9zM202.7 252.3h0.9v0.9h-0.9zM205.2 258.7h0.9v0.9h-0.9zM204.9 256.0h0.9v0.9h-0.9zM200.5 256.1h0.9v0.9h-0.9zM205.8 245.5h0.9v0.9h-0.9zM208.5 249.0h0.9v0.9h-0.9zM203.0 248.0h0.9v0.9h-0.9zM201.6 256.2h0.9v0.9h-0.9zM203.5 249.8h0.9v0.9h-0.9zM205.4 247.4h0.9v0.9h-0.9zM201.0 249.0h0.9v0.9h-0.9zM201.2 254.5h0.9v0.9h-0.9zM202.4 246.9h0.9v0.9h-0.9zM201.9 242.7h0.9v0.9h-0.9zM203.3 251.9h0.9v0.9h-0.9zM204.2 250.5h0.9v0.9h-0.9zM203.8 247.4h0.9v0.9h-0.9zM203.0 252.2h0.9v0.9h-0.9zM200.2 254.1h0.9v0.9h-0.9zM203.2 251.7h0.9v0.9h-0.9zM202.9 248.1h0.9v0.9h-0.9zM201.0 254.1h0.9v0.9h-0.9zM202.4 248.0h0.9v0.9h-0.9zM201.3 255.6h0.9v0.9h-0.9zM203.1 256.1h0.9v0.9h-0.9zM202.9 246.3h0.9v0.9h-0.9zM204.8 252.9h0.9v0.9h-0.9zM201.5 250.1h0.9v0.9h-0.9zM200.8 255.2h0.9v0.9h-0.9zM202.0 253.6h0.9v0.9h-0.9zM203.5 250.4h0.9v0.9h-0.9zM203.7 250.4h0.9v0.9h-0.9zM200.3 249.7h0.9v0.9h-0.9zM200.3 254.8h0.9v0.9h-0.9zM204.3 248.9h0.9v0.9h-0.9zM204.3 252.6h0.9v0.9h-0.9zM205.0 247.4h0.9v0.9h-0.9zM203.0 247.1h0.9v0.9h-0.9zM201.4 257.5h0.9v0.9h-0.9zM198.5 247.5h0.9v0.9h-0.9zM204.0 254.9h0.9v0.9h-0.9zM201.2 242.6h0.9v0.9h-0.9zM199.1 253.1h0.9v0.9h-0.9zM205.3 255.5h0.9v0.9h-0.9zM201.3 257.4h0.9v0.9h-0.9zM202.5 254.2h0.9v0.9h-0.9zM202.5 258.5h0.9v0.9h-0.9zM201.8 242.1h0.9v0.9h-0.9zM202.2 252.3h0.9v0.9h-0.9zM203.5 248.3h0.9v0.9h-0.9zM202.4 246.5h0.9v0.9h-0.9zM202.4 251.9h0.9v0.9h-0.9zM203.4 258.7h0.9v0.9h-0.9zM198.5 253.8h0.9v0.9h-0.9zM203.9 246.4h0.9v0.9h-0.9zM203.1 251.5h0.9v0.9h-0.9zM200.7 254.7h0.9v0.9h-0.9zM207.1 254.5h0.9v0.9h-0.9zM204.6 256.2h0.9v0.9h-0.9zM202.6 255.8h0.9v0.9h-0.9zM201.1 252.3h0.9v0.9h-0.9zM204.4 257.2h0.9v0.9h-0.9zM202.3 250.2h0.9v0.9h-0.9zM203.9 251.1h0.9v0.9h-0.9zM203.2 255.0h0.9v0.9h-0.9zM201.2 255.3h0.9v0.9h-0.9zM203.7 250.3h0.9v0.9h-0.9zM200.2 248.7h0.9v0.9h-0.9zM202.8 255.6h0.9v0.9h-0.9zM198.6 254.6h0.9v0.9h-0.9zM203.3 246.5h0.9v0.9h-0.9zM204.8 253.2h0.9v0.9h-0.9zM203.9 247.2h0.9v0.9h-0.9zM200.5 255.5h0.9v0.9h-0.9zM206.0 253.1h0.9v0.9h-0.9zM202.5 249.5h0.9v0.9h-0.9zM199.1 255.8h0.9v0.9h-0.9zM202.7 256.9h0.9v0.9h-0.9zM201.3 256.1h0.9v0.9h-0.9zM201.3 254.1h0.9v0.9h-0.9zM205.9 248.4h0.9v0.9h-0.9zM204.9 251.5h0.9v0.9h-0.9zM200.8 252.4h0.9v0.9h-0.9zM204.3 248.4h0.9v0.9h-0.9zM202.3 249.0h0.9v0.9h-0.9zM201.2 250.6h0.9v0.9h-0.9zM204.7 249.3h0.9v0.9h-0.9zM205.6 249.8h0.9v0.9h-0.9zM201.4 256.2h0.9v0.9h-0.9zM206.0 248.7h0.9v0.9h-0.9zM204.2 246.4h0.9v0.9h-0.9zM202.0 249.9h0.9v0.9h-0.9zM204.4 246.0h0.9v0.9h-0.9zM201.8 248.5h0.9v0.9h-0.9zM203.1 246.1h0.9v0.9h-0.9zM203.4 244.9h0.9v0.9h-0.9zM204.7 245.8h0.9v0.9h-0.9zM198.8 258.8h0.9v0.9h-0.9zM205.6 247.8h0.9v0.9h-0.9zM200.5 253.6h0.9v0.9h-0.9zM207.3 254.1h0.9v0.9h-0.9zM204.3 246.3h0.9v0.9h-0.9zM199.0 253.2h0.9v0.9h-0.9zM205.1 252.1h0.9v0.9h-0.9zM202.9 257.5h0.9v0.9h-0.9zM201.1 256.3h0.9v0.9h-0.9zM204.7 248.8h0.9v0.9h-0.9zM203.2 252.0h0.9v0.9h-0.9zM204.2 247.2h0.9v0.9h-0.9zM202.4 251.9h0.9v0.9h-0.9zM203.0 251.6h0.9v0.9h-0.9zM203.4 250.7h0.9v0.9h-0.9zM201.8 256.0h0.9v0.9h-0.9zM201.5 250.1h0.9v0.9h-0.9zM201.0 246.5h0.9v0.9h-0.9zM203.9 251.3h0.9v0.9h-0.9zM202.6 253.5h0.9v0.9h-0.9zM202.5 254.5h0.9v0.9h-0.9zM206.8 253.0h0.9v0.9h-0.9zM202.3 258.7h0.9v0.9h-0.9zM204.4 244.3h0.9v0.9h-0.9zM205.8 252.4h0.9v0.9h-0.9zM204.7 246.5h0.9v0.9h-0.9zM201.1 248.7h0.9v0.9h-0.9zM204.1 246.6h0.9v0.9h-0.9zM201.4 255.6h0.9v0.9h-0.9zM201.5 252.0h0.9v0.9h-0.9zM201.0 244.1h0.9v0.9h-0.9zM202.7 251.0h0.9v0.9h-0.9zM199.8 255.7h0.9v0.9h-0.9zM204.7 255.3h0.9v0.9h-0.9zM201.8 246.5h0.9v0.9h-0.9zM202.7 252.2h0.9v0.9h-0.9zM202.5 249.0h0.9v0.9h-0.9zM200.7 248.3h0.9v0.9h-0.9zM202.7 249.4h0.9v0.9h-0.9zM206.5 250.3h0.9v0.9h-0.9zM203.9 249.5h0.9v0.9h-0.9zM202.5 247.3h0.9v0.9h-0.9zM201.9 245.0h0.9v0.9h-0.9zM198.4 257.3h0.9v0.9h-0.9zM200.6 253.4h0.9v0.9h-0.9zM202.6 249.0h0.9v0.9h-0.9zM204.5 249.1h0.9v0.9h-0.9zM203.8 249.9h0.9v0.9h-0.9zM205.0 255.6h0.9v0.9h-0.9zM203.0 256.2h0.9v0.9h-0.9zM204.0 258.2h0.9v0.9h-0.9zM202.6 244.8h0.9v0.9h-0.9zM203.4 252.5h0.9v0.9h-0.9zM202.1 250.6h0.9v0.9h-0.9zM202.3 246.1h0.9v0.9h-0.9zM206.6 248.2h0.9v0.9h-0.9zM200.6 244.7h0.9v0.9h-0.9zM201.1 251.3h0.9v0.9h-0.9zM206.1 254.1h0.9v0.9h-0.9zM201.3 246.1h0.9v0.9h-0.9zM200.5 251.1h0.9v0.9h-0.9zM204.8 249.4h0.9v0.9h-0.9zM203.2 242.2h0.9v0.9h-0.9zM205.2 251.1h0.9v0.9h-0.9zM204.3 255.7h0.9v0.9h-0.9zM200.7 251.8h0.9v0.9h-0.9zM203.3 248.2h0.9v0.9h-0.9zM204.4 250.9h0.9v0.9h-0.9zM203.3 258.5h0.9v0.9h-0.9zM202.6 256.0h0.9v0.9h-0.9zM201.3 252.1h0.9v0.9h-0.9zM205.2 242.1h0.9v0.9h-0.9zM204.1 250.3h0.9v0.9h-0.9zM205.2 252.3h0.9v0.9h-0.9zM202.7 246.0h0.9v0.9h-0.9zM209.2 248.3h0.9v0.9h-0.9zM202.2 248.4h0.9v0.9h-0.9zM202.2 252.4h0.9v0.9h-0.9zM200.0 256.0h0.9v0.9h-0.9zM202.3 254.1h0.9v0.9h-0.9zM198.4 249.2h0.9v0.9h-0.9zM202.3 249.8h0.9v0.9h-0.9zM201.5 252.8h0.9v0.9h-0.9zM203.8 247.3h0.9v0.9h-0.9zM198.7 254.6h0.9v0.9h-0.9zM202.2 256.1h0.9v0.9h-0.9zM204.8 251.0h0.9v0.9h-0.9zM199.8 249.9h0.9v0.9h-0.9zM201.3 256.8h0.9v0.9h-0.9zM199.2 255.4h0.9v0.9h-0.9zM199.6 249.0h0.9v0.9h-0.9zM199.9 248.5h0.9v0.9h-0.9zM201.9 253.1h0.9v0.9h-0.9zM201.6 254.5h0.9v0.9h-0.9zM206.7 252.2h0.9v0.9h-0.9zM200.4 250.7h0.9v0.9h-0.9zM202.7 249.9h0.9v0.9h-0.9zM205.4 256.5h0.9v0.9h-0.9zM207.2 253.7h0.9v0.9h-0.9zM197.2 250.9h0.9v0.9h-0.9zM204.3 248.0h0.9v0.9h-0.9zM201.6 255.4h0.9v0.9h-0.9zM203.2 246.6h0.9v0.9h-0.9zM201.6 238.2h0.9v0.9h-0.9zM202.9 246.2h0.9v0.9h-0.9zM202.8 246.4h0.9v0.9h-0.9zM200.9 249.3h0.9v0.9h-0.9zM208.9 246.4h0.9v0.9h-0.9zM200.3 249.2h0.9v0.9h-0.9zM205.2 254.9h0.9v0.9h-0.9zM204.4 250.1h0.9v0.9h-0.9zM203.2 248.2h0.9v0.9h-0.9zM202.5 248.0h0.9v0.9h-0.9zM199.8 247.2h0.9v0.9h-0.9zM207.0 253.2h0.9v0.9h-0.9zM201.3 251.0h0.9v0.9h-0.9zM201.9 256.7h0.9v0.9h-0.9zM202.8 248.7h0.9v0.9h-0.9zM204.3 252.9h0.9v0.9h-0.9zM201.4 248.2h0.9v0.9h-0.9zM203.2 244.4h0.9v0.9h-0.9zM200.9 255.8h0.9v0.9h-0.9zM204.7 256.3h0.9v0.9h-0.9zM201.9 248.9h0.9v0.9h-0.9zM202.3 249.4h0.9v0.9h-0.9zM205.6 250.5h0.9v0.9h-0.9zM205.8 248.4h0.9v0.9h-0.9zM203.7 258.5h0.9v0.9h-0.9zM201.3 248.7h0.9v0.9h-0.9zM201.6 244.5h0.9v0.9h-0.9zM202.2 248.7h0.9v0.9h-0.9zM207.6 249.4h0.9v0.9h-0.9zM198.3 255.5h0.9v0.9h-0.9zM204.9 251.3h0.9v0.9h-0.9zM203.5 254.6h0.9v0.9h-0.9zM201.7 251.7h0.9v0.9h-0.9zM203.2 258.6h0.9v0.9h-0.9zM205.9 252.2h0.9v0.9h-0.9zM200.0 255.3h0.9v0.9h-0.9zM202.8 256.5h0.9v0.9h-0.9zM203.0 252.3h0.9v0.9h-0.9zM204.3 248.3h0.9v0.9h-0.9zM201.0 255.5h0.9v0.9h-0.9zM204.3 255.0h0.9v0.9h-0.9zM205.8 245.7h0.9v0.9h-0.9zM204.9 242.6h0.9v0.9h-0.9zM203.0 252.9h0.9v0.9h-0.9zM205.1 256.2h0.9v0.9h-0.9zM200.9 250.3h0.9v0.9h-0.9zM202.5 248.5h0.9v0.9h-0.9zM201.1 248.6h0.9v0.9h-0.9zM205.3 257.3h0.9v0.9h-0.9zM204.5 258.7h0.9v0.9h-0.9zM203.1 246.8h0.9v0.9h-0.9zM201.5 252.4h0.9v0.9h-0.9zM205.1 256.7h0.9v0.9h-0.9zM201.0 255.6h0.9v0.9h-0.9zM201.7 254.1h0.9v0.9h-0.9zM204.8 257.9h0.9v0.9h-0.9zM201.7 252.5h0.9v0.9h-0.9zM203.8 249.7h0.9v0.9h-0.9zM203.1 254.1h0.9v0.9h-0.9zM199.3 248.7h0.9v0.9h-0.9zM207.8 253.4h0.9v0.9h-0.9zM201.7 243.6h0.9v0.9h-0.9zM200.8 253.7h0.9v0.9h-0.9zM204.3 253.4h0.9v0.9h-0.9zM204.1 248.9h0.9v0.9h-0.9z" fill="#000" fill-opacity="0.8"/>
<path d="M209.3 235.1h0.9v0.9h-0.9zM206.7 238.1h0.9v0.9h-0.9zM201.3 242.1h0.9v0.9h-0.9zM204.8 241.4h0.9v0.9h-0.9zM208.6 239.6h0.9v0.9h-0.9zM203.9 238.3h0.9v0.9h-0.9zM205.3 243.9h0.9v0.9h-0.9zM207.5 244.4h0.9v0.9h-0.9zM207.3 236.4h0.9v0.9h-0.9zM207.7 242.3h0.9v0.9h-0.9zM205.2 240.6h0.9v0.9h-0.9zM204.7 234.7h0.9v0.9h-0.9zM205.2 241.6h0.9v0.9h-0.9zM204.6 231.3h0.9v0.9h-0.9zM203.5 242.7h0.9v0.9h-0.9zM206.0 242.8h0.9v0.9h-0.9zM203.6 237.6h0.9v0.9h-0.9zM203.0 236.3h0.9v0.9h-0.9zM206.7 239.5h0.9v0.9h-0.9zM204.3 240.0h0.9v0.9h-0.9zM202.3 237.7h0.9v0.9h-0.9zM201.8 233.8h0.9v0.9h-0.9zM202.2 235.2h0.9v0.9h-0.9zM209.3 243.7h0.9v0.9h-0.9zM208.5 237.0h0.9v0.9h-0.9zM207.0 235.1h0.9v0.9h-0.9zM204.1 239.8h0.9v0.9h-0.9zM201.6 239.7h0.9v0.9h-0.9zM207.0 231.9h0.9v0.9h-0.9zM199.5 238.0h0.9v0.9h-0.9zM205.2 239.5h0.9v0.9h-0.9zM202.7 241.0h0.9v0.9h-0.9zM205.8 236.5h0.9v0.9h-0.9zM209.5 239.9h0.9v0.9h-0.9zM207.3 245.4h0.9v0.9h-0.9zM204.3 238.2h0.9v0.9h-0.9zM201.2 238.2h0.9v0.9h-0.9zM206.5 247.6h0.9v0.9h-0.9zM206.8 239.7h0.9v0.9h-0.9zM202.4 236.1h0.9v0.9h-0.9zM201.0 234.2h0.9v0.9h-0.9zM205.7 240.0h0.9v0.9h-0.9zM203.2 238.2h0.9v0.9h-0.9zM203.5 241.1h0.9v0.9h-0.9zM207.0 237.1h0.9v0.9h-0.9zM204.3 234.8h0.9v0.9h-0.9zM204.3 246.5h0.9v0.9h-0.9zM205.4 242.0h0.9v0.9h-0.9zM206.9 244.1h0.9v0.9h-0.9zM204.7 235.9h0.9v0.9h-0.9zM208.0 242.2h0.9v0.9h-0.9zM203.8 242.8h0.9v0.9h-0.9zM205.4 238.8h0.9v0.9h-0.9zM209.9 240.8h0.9v0.9h-0.9zM206.2 237.9h0.9v0.9h-0.9zM205.9 242.6h0.9v0.9h-0.9zM206.6 236.4h0.9v0.9h-0.9zM206.6 238.6h0.9v0.9h-0.9zM206.2 238.3h0.9v0.9h-0.9zM200.1 233.4h0.9v0.9h-0.9zM204.5 231.4h0.9v0.9h-0.9zM201.8 246.0h0.9v0.9h-0.9zM207.1 237.4h0.9v0.9h-0.9zM206.3 231.3h0.9v0.9h-0.9zM206.1 242.4h0.9v0.9h-0.9zM205.9 234.5h0.9v0.9h-0.9zM207.8 237.2h0.9v0.9h-0.9zM204.1 239.7h0.9v0.9h-0.9zM204.7 246.1h0.9v0.9h-0.9zM205.1 246.4h0.9v0.9h-0.9zM206.6 234.7h0.9v0.9h-0.9zM205.5 239.2h0.9v0.9h-0.9zM209.0 243.4h0.9v0.9h-0.9zM211.7 236.7h0.9v0.9h-0.9zM204.4 247.1h0.9v0.9h-0.9zM203.3 240.2h0.9v0.9h-0.9zM209.4 235.5h0.9v0.9h-0.9zM204.6 236.4h0.9v0.9h-0.9zM206.7 240.4h0.9v0.9h-0.9zM205.4 241.3h0.9v0.9h-0.9zM203.5 237.7h0.9v0.9h-0.9zM206.6 246.0h0.9v0.9h-0.9zM205.4 239.2h0.9v0.9h-0.9zM208.7 239.3h0.9v0.9h-0.9zM208.6 239.8h0.9v0.9h-0.9zM208.3 239.6h0.9v0.9h-0.9zM203.2 236.0h0.9v0.9h-0.9zM206.5 245.5h0.9v0.9h-0.9zM210.0 237.9h0.9v0.9h-0.9zM211.6 235.1h0.9v0.9h-0.9z" fill="#000" fill-opacity="0.4"/>
<path d="M199.2 254.0h0.9v0.9h-0.9zM196.2 253.9h0.9v0.9h-0.9zM204.6 252.1h0.9v0.9h-0.9zM197.6 250.5h0.9v0.9h-0.9zM207.1 247.7h0.9v0.9h-0.9zM207.5 248.2h0.9v0.9h-0.9zM204.4 246.0h0.9v0.9h-0.9zM197.0 247.0h0.9v0.9h-0.9zM205.1 243.1h0.9v0.9h-0.9zM194.3 238.0h0.9v0.9h-0.9zM208.7 246.6h0.9v0.9h-0.9zM199.6 256.0h0.9v0.9h-0.9zM202.2 238.3h0.9v0.9h-0.9zM201.0 242.3h0.9v0.9h-0.9zM202.1 242.1h0.9v0.9h-0.9zM203.2 251.0h0.9v0.9h-0.9zM200.4 246.7h0.9v0.9h-0.9zM202.2 253.4h0.9v0.9h-0.9zM199.8 252.9h0.9v0.9h-0.9zM208.4 246.7h0.9v0.9h-0.9zM198.7 246.0h0.9v0.9h-0.9zM195.1 244.5h0.9v0.9h-0.9zM197.7 246.9h0.9v0.9h-0.9zM201.3 251.3h0.9v0.9h-0.9zM203.4 250.7h0.9v0.9h-0.9zM202.7 249.8h0.9v0.9h-0.9zM197.9 252.3h0.9v0.9h-0.9zM208.7 255.2h0.9v0.9h-0.9zM197.0 250.7h0.9v0.9h-0.9zM195.8 252.9h0.9v0.9h-0.9zM202.0 245.0h0.9v0.9h-0.9zM199.6 246.5h0.9v0.9h-0.9zM202.9 241.7h0.9v0.9h-0.9zM203.2 249.7h0.9v0.9h-0.9zM205.3 247.7h0.9v0.9h-0.9zM207.4 250.1h0.9v0.9h-0.9zM196.8 252.0h0.9v0.9h-0.9zM205.5 230.8h0.9v0.9h-0.9zM202.2 250.5h0.9v0.9h-0.9zM203.1 248.6h0.9v0.9h-0.9zM202.3 257.0h0.9v0.9h-0.9zM204.6 246.2h0.9v0.9h-0.9zM199.1 244.6h0.9v0.9h-0.9zM204.4 249.0h0.9v0.9h-0.9zM204.3 256.8h0.9v0.9h-0.9zM208.0 250.7h0.9v0.9h-0.9zM203.1 247.6h0.9v0.9h-0.9zM201.9 254.5h0.9v0.9h-0.9zM197.3 241.2h0.9v0.9h-0.9zM200.9 241.8h0.9v0.9h-0.9zM199.7 255.8h0.9v0.9h-0.9zM193.0 251.7h0.9v0.9h-0.9zM197.1 246.4h0.9v0.9h-0.9zM200.4 241.6h0.9v0.9h-0.9zM196.4 248.5h0.9v0.9h-0.9zM189.8 234.2h0.9v0.9h-0.9zM201.2 255.1h0.9v0.9h-0.9zM211.2 246.1h0.9v0.9h-0.9zM199.4 246.2h0.9v0.9h-0.9zM205.0 254.1h0.9v0.9h-0.9zM198.7 251.1h0.9v0.9h-0.9zM202.8 255.4h0.9v0.9h-0.9zM201.1 246.7h0.9v0.9h-0.9zM199.2 239.4h0.9v0.9h-0.9zM204.1 252.6h0.9v0.9h-0.9zM207.9 249.7h0.9v0.9h-0.9zM200.9 242.0h0.9v0.9h-0.9zM197.8 243.3h0.9v0.9h-0.9zM204.4 248.6h0.9v0.9h-0.9zM192.8 247.3h0.9v0.9h-0.9zM201.7 241.2h0.9v0.9h-0.9zM202.9 251.5h0.9v0.9h-0.9zM198.4 239.2h0.9v0.9h-0.9zM201.5 249.7h0.9v0.9h-0.9zM201.8 258.0h0.9v0.9h-0.9zM203.6 241.5h0.9v0.9h-0.9zM206.4 243.8h0.9v0.9h-0.9zM206.0 248.6h0.9v0.9h-0.9zM208.4 241.5h0.9v0.9h-0.9zM206.2 250.8h0.9v0.9h-0.9zM198.9 252.6h0.9v0.9h-0.9zM213.0 250.3h0.9v0.9h-0.9zM199.5 247.0h0.9v0.9h-0.9zM208.7 249.7h0.9v0.9h-0.9zM209.5 243.8h0.9v0.9h-0.9zM208.8 237.7h0.9v0.9h-0.9zM202.2 246.1h0.9v0.9h-0.9zM200.8 256.0h0.9v0.9h-0.9zM200.3 250.3h0.9v0.9h-0.9zM211.2 253.4h0.9v0.9h-0.9zM201.1 243.2h0.9v0.9h-0.9zM194.0 250.5h0.9v0.9h-0.9zM206.9 255.2h0.9v0.9h-0.9zM206.4 233.0h0.9v0.9h-0.9zM199.0 253.2h0.9v0.9h-0.9zM201.2 253.4h0.9v0.9h-0.9zM214.4 243.0h0.9v0.9h-0.9zM212.8 247.5h0.9v0.9h-0.9zM196.4 248.6h0.9v0.9h-0.9zM207.0 244.2h0.9v0.9h-0.9zM210.0 242.3h0.9v0.9h-0.9zM202.1 254.0h0.9v0.9h-0.9zM202.0 244.4h0.9v0.9h-0.9zM202.9 252.3h0.9v0.9h-0.9zM210.7 256.8h0.9v0.9h-0.9zM211.3 247.8h0.9v0.9h-0.9zM195.6 247.7h0.9v0.9h-0.9zM201.1 241.5h0.9v0.9h-0.9zM200.7 247.6h0.9v0.9h-0.9zM203.2 254.0h0.9v0.9h-0.9zM198.9 255.5h0.9v0.9h-0.9zM203.2 252.8h0.9v0.9h-0.9zM208.5 240.0h0.9v0.9h-0.9zM210.1 243.3h0.9v0.9h-0.9zM204.8 255.1h0.9v0.9h-0.9zM207.1 237.8h0.9v0.9h-0.9zM203.7 255.4h0.9v0.9h-0.9zM202.4 247.5h0.9v0.9h-0.9zM203.3 258.7h0.9v0.9h-0.9zM200.5 241.9h0.9v0.9h-0.9zM198.0 244.6h0.9v0.9h-0.9zM201.9 250.3h0.9v0.9h-0.9zM202.6 236.8h0.9v0.9h-0.9zM195.9 252.4h0.9v0.9h-0.9zM206.2 239.2h0.9v0.9h-0.9zM207.2 232.2h0.9v0.9h-0.9zM213.4 251.8h0.9v0.9h-0.9zM195.5 251.3h0.9v0.9h-0.9zM202.8 245.0h0.9v0.9h-0.9zM201.3 246.5h0.9v0.9h-0.9zM202.5 242.1h0.9v0.9h-0.9zM200.4 251.6h0.9v0.9h-0.9zM205.4 239.3h0.9v0.9h-0.9zM200.8 258.2h0.9v0.9h-0.9zM206.2 258.7h0.9v0.9h-0.9zM196.9 241.2h0.9v0.9h-0.9zM193.2 235.4h0.9v0.9h-0.9z" fill="#000" fill-opacity="0.3"/>
<path d="M204.0 244.5h0.9v0.9h-0.9zM196.7 247.3h0.9v0.9h-0.9zM175.7 240.3h0.9v0.9h-0.9zM211.1 254.1h0.9v0.9h-0.9zM222.6 250.5h0.9v0.9h-0.9zM190.8 242.7h0.9v0.9h-0.9zM204.7 249.5h0.9v0.9h-0.9zM221.1 252.2h0.9v0.9h-0.9zM182.5 239.5h0.9v0.9h-0.9zM159.1 253.1h0.9v0.9h-0.9zM185.5 242.6h0.9v0.9h-0.9zM159.6 245.4h0.9v0.9h-0.9zM218.0 239.5h0.9v0.9h-0.9zM207.3 252.5h0.9v0.9h-0.9zM201.6 248.1h0.9v0.9h-0.9zM173.2 250.2h0.9v0.9h-0.9zM196.3 258.1h0.9v0.9h-0.9zM191.6 241.6h0.9v0.9h-0.9zM218.5 248.9h0.9v0.9h-0.9zM179.6 249.5h0.9v0.9h-0.9zM166.5 237.1h0.9v0.9h-0.9zM217.0 244.5h0.9v0.9h-0.9zM211.3 237.8h0.9v0.9h-0.9zM188.5 238.4h0.9v0.9h-0.9zM211.4 248.1h0.9v0.9h-0.9z" fill="#000" fill-opacity="0.3"/>
<line x1="164.2" y1="328.2" x2="164.2" y2="330.6" stroke="#333" stroke-width="0.9"/>
<text x="161.4" y="336.1" font-size="4.8" font-weight="normal" text-anchor="start" fill="#333">10</text>
<text x="166.5" y="333.8" font-size="3.2" font-weight="normal" text-anchor="start" fill="#333">2</text>
<line x1="169.71" y1="328.2" x2="169.71" y2="329.8" stroke="#444" stroke-width="0.8"/>
<line x1="172.93" y1="328.2" x2="172.93" y2="329.8" stroke="#444" stroke-width="0.8"/>
<line x1="175.22" y1="328.2" x2="175.22" y2="329.8" stroke="#444" stroke-width="0.8"/>
<line x1="176.99" y1="328.2" x2="176.99" y2="329.8" stroke="#444" stroke-width="0.8"/>
<line x1="178.44" y1="328.2" x2="178.44" y2="329.8" stroke="#444" stroke-width="0.8"/>
<line x1="179.67" y1="328.2" x2="179.67" y2="329.8" stroke="#444" stroke-width="0.8"/>
<line x1="180.73" y1="328.2" x2="180.73" y2="329.8" stroke="#444" stroke-width="0.8"/>
<line x1="181.66" y1="328.2" x2="181.66" y2="329.8" stroke="#444" stroke-width="0.8"/>
<line x1="182.5" y1="328.2" x2="182.5" y2="330.6" stroke="#333" stroke-width="0.9"/>
<text x="179.7" y="336.1" font-size="4.8" font-weight="normal" text-anchor="start" fill="#333">10</text>
<text x="184.8" y="333.8" font-size="3.2" font-weight="normal" text-anchor="start" fill="#333">3</text>
<line x1="187.71" y1="328.2" x2="187.71" y2="329.8" stroke="#444" stroke-width="0.8"/>
<line x1="190.75" y1="328.2" x2="190.75" y2="329.8" stroke="#444" stroke-width="0.8"/>
<line x1="192.92" y1="328.2" x2="192.92" y2="329.8" stroke="#444" stroke-width="0.8"/>
<line x1="194.59" y1="328.2" x2="194.59" y2="329.8" stroke="#444" stroke-width="0.8"/>
<line x1="195.96" y1="328.2" x2="195.96" y2="329.8" stroke="#444" stroke-width="0.8"/>
<line x1="197.12" y1="328.2" x2="197.12" y2="329.8" stroke="#444" stroke-width="0.8"/>
<line x1="198.12" y1="328.2" x2="198.12" y2="329.8" stroke="#444" stroke-width="0.8"/>
<line x1="199.01" y1="328.2" x2="199.01" y2="329.8" stroke="#444" stroke-width="0.8"/>
<line x1="199.8" y1="328.2" x2="199.8" y2="330.6" stroke="#333" stroke-width="0.9"/>
<text x="197" y="336.1" font-size="4.8" font-weight="normal" text-anchor="start" fill="#333">10</text>
<text x="202.1" y="333.8" font-size="3.2" font-weight="normal" text-anchor="start" fill="#333">4</text>
<line x1="205.31" y1="328.2" x2="205.31" y2="329.8" stroke="#444" stroke-width="0.8"/>
<line x1="208.53" y1="328.2" x2="208.53" y2="329.8" stroke="#444" stroke-width="0.8"/>
<line x1="210.82" y1="328.2" x2="210.82" y2="329.8" stroke="#444" stroke-width="0.8"/>
<line x1="212.59" y1="328.2" x2="212.59" y2="329.8" stroke="#444" stroke-width="0.8"/>
<line x1="214.04" y1="328.2" x2="214.04" y2="329.8" stroke="#444" stroke-width="0.8"/>
<line x1="215.27" y1="328.2" x2="215.27" y2="329.8" stroke="#444" stroke-width="0.8"/>
<line x1="216.33" y1="328.2" x2="216.33" y2="329.8" stroke="#444" stroke-width="0.8"/>
<line x1="217.26" y1="328.2" x2="217.26" y2="329.8" stroke="#444" stroke-width="0.8"/>
<line x1="218.1" y1="328.2" x2="218.1" y2="330.6" stroke="#333" stroke-width="0.9"/>
<text x="215.3" y="336.1" font-size="4.8" font-weight="normal" text-anchor="start" fill="#333">10</text>
<text x="220.4" y="333.8" font-size="3.2" font-weight="normal" text-anchor="start" fill="#333">5</text>
<line x1="152.1" y1="318" x2="155.5" y2="318" stroke="#333" stroke-width="0.9"/>
<text transform="translate(150.5,320.6) rotate(-90)" font-size="4.8" fill="#333">10<tspan font-size="3.2" dy="-1.9">2</tspan></text>
<line x1="153.9" y1="313.79" x2="155.5" y2="313.79" stroke="#444" stroke-width="0.8"/>
<line x1="153.9" y1="311.32" x2="155.5" y2="311.32" stroke="#444" stroke-width="0.8"/>
<line x1="153.9" y1="309.57" x2="155.5" y2="309.57" stroke="#444" stroke-width="0.8"/>
<line x1="153.9" y1="308.21" x2="155.5" y2="308.21" stroke="#444" stroke-width="0.8"/>
<line x1="153.9" y1="307.11" x2="155.5" y2="307.11" stroke="#444" stroke-width="0.8"/>
<line x1="153.9" y1="306.17" x2="155.5" y2="306.17" stroke="#444" stroke-width="0.8"/>
<line x1="153.9" y1="305.36" x2="155.5" y2="305.36" stroke="#444" stroke-width="0.8"/>
<line x1="153.9" y1="304.64" x2="155.5" y2="304.64" stroke="#444" stroke-width="0.8"/>
<line x1="152.1" y1="304" x2="155.5" y2="304" stroke="#333" stroke-width="0.9"/>
<text transform="translate(150.5,306.6) rotate(-90)" font-size="4.8" fill="#333">10<tspan font-size="3.2" dy="-1.9">3</tspan></text>
<line x1="153.9" y1="299.79" x2="155.5" y2="299.79" stroke="#444" stroke-width="0.8"/>
<line x1="153.9" y1="297.32" x2="155.5" y2="297.32" stroke="#444" stroke-width="0.8"/>
<line x1="153.9" y1="295.57" x2="155.5" y2="295.57" stroke="#444" stroke-width="0.8"/>
<line x1="153.9" y1="294.21" x2="155.5" y2="294.21" stroke="#444" stroke-width="0.8"/>
<line x1="153.9" y1="293.11" x2="155.5" y2="293.11" stroke="#444" stroke-width="0.8"/>
<line x1="153.9" y1="292.17" x2="155.5" y2="292.17" stroke="#444" stroke-width="0.8"/>
<line x1="153.9" y1="291.36" x2="155.5" y2="291.36" stroke="#444" stroke-width="0.8"/>
<line x1="153.9" y1="290.64" x2="155.5" y2="290.64" stroke="#444" stroke-width="0.8"/>
<line x1="152.1" y1="290" x2="155.5" y2="290" stroke="#333" stroke-width="0.9"/>
<text transform="translate(150.5,292.6) rotate(-90)" font-size="4.8" fill="#333">10<tspan font-size="3.2" dy="-1.9">4</tspan></text>
<line x1="153.9" y1="285.79" x2="155.5" y2="285.79" stroke="#444" stroke-width="0.8"/>
<line x1="153.9" y1="283.32" x2="155.5" y2="283.32" stroke="#444" stroke-width="0.8"/>
<line x1="153.9" y1="281.57" x2="155.5" y2="281.57" stroke="#444" stroke-width="0.8"/>
<line x1="153.9" y1="280.21" x2="155.5" y2="280.21" stroke="#444" stroke-width="0.8"/>
<line x1="153.9" y1="279.11" x2="155.5" y2="279.11" stroke="#444" stroke-width="0.8"/>
<line x1="153.9" y1="278.17" x2="155.5" y2="278.17" stroke="#444" stroke-width="0.8"/>
<line x1="153.9" y1="277.36" x2="155.5" y2="277.36" stroke="#444" stroke-width="0.8"/>
<line x1="153.9" y1="276.64" x2="155.5" y2="276.64" stroke="#444" stroke-width="0.8"/>
<line x1="152.1" y1="276" x2="155.5" y2="276" stroke="#333" stroke-width="0.9"/>
<text transform="translate(150.5,278.6) rotate(-90)" font-size="4.8" fill="#333">10<tspan font-size="3.2" dy="-1.9">5</tspan></text>
<rect x="155.5" y="270.6" width="71.5" height="57.6" fill="none" stroke="#888" stroke-width="1"/>
<line x1="177.7" y1="270.6" x2="177.7" y2="328.2" stroke="#888" stroke-width="1"/>
<line x1="155.5" y1="308.3" x2="227" y2="308.3" stroke="#888" stroke-width="1"/>
<text x="161.3" y="299.4" font-size="5.4" font-weight="normal" text-anchor="start" fill="#666">Q1</text>
<text x="185.9" y="299.4" font-size="5.4" font-weight="normal" text-anchor="start" fill="#666">Q2</text>
<text x="161.3" y="320.7" font-size="5.4" font-weight="normal" text-anchor="start" fill="#666">Q3</text>
<text x="185.9" y="320.7" font-size="5.4" font-weight="normal" text-anchor="start" fill="#666">Q4</text>
<path d="M196.0 320.3h0.9v0.9h-0.9zM199.0 320.5h0.9v0.9h-0.9zM197.5 314.9h0.9v0.9h-0.9zM201.1 320.3h0.9v0.9h-0.9zM189.1 321.3h0.9v0.9h-0.9zM196.0 320.5h0.9v0.9h-0.9zM203.7 316.9h0.9v0.9h-0.9zM195.3 319.0h0.9v0.9h-0.9zM198.8 320.2h0.9v0.9h-0.9zM193.9 318.9h0.9v0.9h-0.9zM201.5 320.7h0.9v0.9h-0.9zM200.6 322.6h0.9v0.9h-0.9zM195.8 322.7h0.9v0.9h-0.9zM199.2 314.2h0.9v0.9h-0.9zM197.5 319.0h0.9v0.9h-0.9zM199.6 323.1h0.9v0.9h-0.9zM199.1 316.1h0.9v0.9h-0.9zM205.7 316.7h0.9v0.9h-0.9zM195.8 321.5h0.9v0.9h-0.9zM197.1 315.0h0.9v0.9h-0.9zM195.0 322.5h0.9v0.9h-0.9zM195.0 318.4h0.9v0.9h-0.9zM197.0 317.3h0.9v0.9h-0.9zM195.8 318.6h0.9v0.9h-0.9zM200.5 322.0h0.9v0.9h-0.9zM197.3 313.6h0.9v0.9h-0.9zM193.6 318.0h0.9v0.9h-0.9zM190.3 323.1h0.9v0.9h-0.9zM198.6 318.5h0.9v0.9h-0.9zM193.9 315.6h0.9v0.9h-0.9zM196.0 320.6h0.9v0.9h-0.9zM197.1 320.4h0.9v0.9h-0.9zM200.2 310.7h0.9v0.9h-0.9zM197.7 322.8h0.9v0.9h-0.9zM196.8 318.5h0.9v0.9h-0.9zM198.1 313.3h0.9v0.9h-0.9zM205.7 317.5h0.9v0.9h-0.9zM200.6 316.3h0.9v0.9h-0.9zM203.1 322.4h0.9v0.9h-0.9zM202.4 321.6h0.9v0.9h-0.9zM200.8 323.3h0.9v0.9h-0.9zM199.8 318.5h0.9v0.9h-0.9zM201.2 314.6h0.9v0.9h-0.9zM190.1 321.1h0.9v0.9h-0.9zM199.0 315.3h0.9v0.9h-0.9zM197.6 314.4h0.9v0.9h-0.9zM195.7 318.7h0.9v0.9h-0.9zM198.9 321.2h0.9v0.9h-0.9zM198.2 320.4h0.9v0.9h-0.9zM200.8 315.4h0.9v0.9h-0.9zM192.9 315.4h0.9v0.9h-0.9zM197.7 316.0h0.9v0.9h-0.9zM205.8 315.4h0.9v0.9h-0.9zM200.1 315.1h0.9v0.9h-0.9zM200.8 313.2h0.9v0.9h-0.9zM201.7 318.7h0.9v0.9h-0.9zM197.2 313.5h0.9v0.9h-0.9zM204.0 315.8h0.9v0.9h-0.9zM203.3 308.9h0.9v0.9h-0.9zM194.5 324.9h0.9v0.9h-0.9zM204.4 318.1h0.9v0.9h-0.9zM201.8 320.3h0.9v0.9h-0.9zM197.3 318.5h0.9v0.9h-0.9zM194.7 312.9h0.9v0.9h-0.9zM198.9 320.8h0.9v0.9h-0.9zM199.0 313.4h0.9v0.9h-0.9zM201.3 318.4h0.9v0.9h-0.9zM201.0 316.9h0.9v0.9h-0.9zM197.6 322.0h0.9v0.9h-0.9zM203.0 313.5h0.9v0.9h-0.9zM194.8 321.7h0.9v0.9h-0.9zM199.7 318.2h0.9v0.9h-0.9zM195.3 321.9h0.9v0.9h-0.9zM199.1 318.9h0.9v0.9h-0.9zM199.8 316.1h0.9v0.9h-0.9zM199.8 318.5h0.9v0.9h-0.9zM200.9 319.5h0.9v0.9h-0.9zM194.3 315.4h0.9v0.9h-0.9zM197.6 322.5h0.9v0.9h-0.9zM196.3 322.3h0.9v0.9h-0.9zM202.1 321.4h0.9v0.9h-0.9zM206.0 318.0h0.9v0.9h-0.9zM199.6 322.7h0.9v0.9h-0.9zM199.8 321.8h0.9v0.9h-0.9zM198.1 323.4h0.9v0.9h-0.9zM199.7 310.8h0.9v0.9h-0.9zM202.1 317.3h0.9v0.9h-0.9zM195.6 316.9h0.9v0.9h-0.9zM197.6 322.4h0.9v0.9h-0.9zM199.6 317.8h0.9v0.9h-0.9zM198.5 314.6h0.9v0.9h-0.9zM196.4 316.3h0.9v0.9h-0.9zM197.7 313.6h0.9v0.9h-0.9zM197.2 321.9h0.9v0.9h-0.9zM200.0 318.1h0.9v0.9h-0.9zM199.6 317.1h0.9v0.9h-0.9zM194.6 321.4h0.9v0.9h-0.9zM205.9 320.0h0.9v0.9h-0.9zM200.8 327.4h0.9v0.9h-0.9zM194.5 320.0h0.9v0.9h-0.9zM197.4 317.0h0.9v0.9h-0.9zM193.0 317.8h0.9v0.9h-0.9zM199.8 312.0h0.9v0.9h-0.9zM197.8 316.2h0.9v0.9h-0.9zM195.2 320.4h0.9v0.9h-0.9zM203.9 319.6h0.9v0.9h-0.9zM201.9 320.9h0.9v0.9h-0.9zM198.3 320.3h0.9v0.9h-0.9zM202.9 316.4h0.9v0.9h-0.9zM198.0 312.8h0.9v0.9h-0.9z" fill="#000" fill-opacity="0.45"/>
<path d="M194.9 325.6h0.9v0.9h-0.9zM160.4 316.2h0.9v0.9h-0.9zM171.1 320.3h0.9v0.9h-0.9zM183.2 326.5h0.9v0.9h-0.9zM172.1 314.1h0.9v0.9h-0.9zM219.3 322.7h0.9v0.9h-0.9zM185.6 316.1h0.9v0.9h-0.9zM206.6 311.8h0.9v0.9h-0.9zM205.8 313.3h0.9v0.9h-0.9zM211.6 310.4h0.9v0.9h-0.9zM219.1 325.4h0.9v0.9h-0.9zM157.7 312.0h0.9v0.9h-0.9zM219.1 324.6h0.9v0.9h-0.9zM176.1 324.2h0.9v0.9h-0.9zM196.0 313.7h0.9v0.9h-0.9zM203.5 316.9h0.9v0.9h-0.9zM165.8 325.2h0.9v0.9h-0.9zM205.5 313.6h0.9v0.9h-0.9zM185.5 322.0h0.9v0.9h-0.9zM181.6 313.9h0.9v0.9h-0.9zM192.3 327.1h0.9v0.9h-0.9zM162.6 313.8h0.9v0.9h-0.9zM189.3 327.7h0.9v0.9h-0.9zM224.5 309.2h0.9v0.9h-0.9zM200.3 311.6h0.9v0.9h-0.9z" fill="#000" fill-opacity="0.3"/>
<line x1="27.6" y1="209" x2="27.6" y2="289.7" stroke="#000" stroke-width="1.7"/>
<path d="M27.6 204.3 L30.5 211 L24.7 211 Z" fill="#000"/>
<text transform="translate(30.4,305.5) rotate(-90)" x="0" y="0" font-size="10.08" font-weight="bold" text-anchor="middle" fill="#000" stroke="#000" stroke-width="0.25" textLength="23.9" lengthAdjust="spacingAndGlyphs">B220</text>
<line x1="139.8" y1="224" x2="139.8" y2="310.4" stroke="#000" stroke-width="1.6"/>
<path d="M139.8 219.3 L142.9 226.3 L136.7 226.3 Z" fill="#000"/>
<text transform="translate(136.3,264.9) rotate(-90)" x="0" y="0" font-size="10.08" font-weight="bold" text-anchor="middle" fill="#000" stroke="#000" stroke-width="0.25" textLength="50.9" lengthAdjust="spacingAndGlyphs">Mac-1/Gr-1</text>
<text x="42.6" y="345.3" font-size="10.71" font-weight="bold" text-anchor="start" fill="#000" stroke="#000" stroke-width="0.25" textLength="50.2" lengthAdjust="spacingAndGlyphs">Mac-1/Gr-1</text>
<line x1="93.2" y1="342.1" x2="109" y2="342.1" stroke="#000" stroke-width="1.8"/>
<path d="M114.9 342.1 L107.8 338.6 L107.8 345.6 Z" fill="#000"/>
<text x="166.2" y="345.3" font-size="10.71" font-weight="bold" text-anchor="start" fill="#000" stroke="#000" stroke-width="0.25" textLength="24.2" lengthAdjust="spacingAndGlyphs">B220</text>
<line x1="190.8" y1="342.1" x2="218" y2="342.1" stroke="#000" stroke-width="1.8"/>
<path d="M224.3 342.1 L217.2 338.6 L217.2 345.6 Z" fill="#000"/>
<text x="233.8" y="235.9" font-size="10.29" font-weight="bold" text-anchor="start" fill="#000" stroke="#000" stroke-width="0.25" textLength="35" lengthAdjust="spacingAndGlyphs">Control</text>
<text x="234.7" y="307.6" font-size="10.29" font-weight="bold" text-anchor="start" fill="#000" stroke="#000" stroke-width="0.25" textLength="11.9" lengthAdjust="spacingAndGlyphs">AT</text>
<text x="287" y="190.5" font-size="18.5" font-weight="bold" text-anchor="start" fill="#000" stroke="#000" stroke-width="0.25">D</text>
<rect x="329.3" y="191.2" width="189.6" height="137" fill="none" stroke="#000" stroke-width="1.8"/>
<line x1="329.3" y1="192.5" x2="332" y2="192.5" stroke="#000" stroke-width="1.5"/>
<text x="325.8" y="196.35" font-size="10.5" font-weight="bold" text-anchor="end" fill="#000" stroke="#000" stroke-width="0.25" textLength="10.9" lengthAdjust="spacingAndGlyphs">80</text>
<line x1="329.3" y1="226.43" x2="332" y2="226.43" stroke="#000" stroke-width="1.5"/>
<text x="325.8" y="230.28" font-size="10.5" font-weight="bold" text-anchor="end" fill="#000" stroke="#000" stroke-width="0.25" textLength="10.9" lengthAdjust="spacingAndGlyphs">60</text>
<line x1="329.3" y1="260.35" x2="332" y2="260.35" stroke="#000" stroke-width="1.5"/>
<text x="325.8" y="264.2" font-size="10.5" font-weight="bold" text-anchor="end" fill="#000" stroke="#000" stroke-width="0.25" textLength="10.9" lengthAdjust="spacingAndGlyphs">40</text>
<line x1="329.3" y1="294.27" x2="332" y2="294.27" stroke="#000" stroke-width="1.5"/>
<text x="325.8" y="298.12" font-size="10.5" font-weight="bold" text-anchor="end" fill="#000" stroke="#000" stroke-width="0.25" textLength="10.9" lengthAdjust="spacingAndGlyphs">20</text>
<text x="325.8" y="333.05" font-size="10.5" font-weight="bold" text-anchor="end" fill="#000" stroke="#000" stroke-width="0.25" textLength="5.45" lengthAdjust="spacingAndGlyphs">0</text>
<text transform="translate(312.4,254.5) rotate(-90)" x="0" y="0" font-size="10.08" font-weight="bold" text-anchor="middle" fill="#000" stroke="#000" stroke-width="0.25" textLength="66.2" lengthAdjust="spacingAndGlyphs">% of Lin- cells</text>
<rect x="454.25" y="198.55" width="7.2" height="5.6" fill="#fff" stroke="#000" stroke-width="1.7"/>
<rect x="453.4" y="210.6" width="8.9" height="7.9" fill="#000"/>
<text x="466.8" y="204" font-size="9.8" font-weight="bold" text-anchor="start" fill="#000" stroke="#000" stroke-width="0.25">:</text>
<text x="476.2" y="204" font-size="10.5" font-weight="bold" text-anchor="start" fill="#000" stroke="#000" stroke-width="0.25" textLength="35.3" lengthAdjust="spacingAndGlyphs">Control</text>
<text x="466.8" y="216.8" font-size="9.8" font-weight="bold" text-anchor="start" fill="#000" stroke="#000" stroke-width="0.25">:</text>
<text x="476.2" y="216.8" font-size="10.5" font-weight="bold" text-anchor="start" fill="#000" stroke="#000" stroke-width="0.25" textLength="12.8" lengthAdjust="spacingAndGlyphs">AT</text>
<text x="369.7" y="332.88" font-size="16.5" font-weight="bold" text-anchor="middle" fill="#000" stroke="#000" stroke-width="0.25">*</text>
<line x1="351.5" y1="327.1" x2="380.4" y2="327.1" stroke="#666" stroke-width="1"/>
<line x1="395.4" y1="216" x2="395.4" y2="235.7" stroke="#000" stroke-width="0.8"/>
<line x1="393.7" y1="216" x2="397.1" y2="216" stroke="#000" stroke-width="1"/>
<rect x="380.5" y="235.7" width="29.9" height="92.5" fill="#000"/>
<rect x="437.9" y="325.2" width="30.1" height="3" fill="#999" stroke="#000" stroke-width="0.9"/>
<line x1="483" y1="259.3" x2="483" y2="277.2" stroke="#000" stroke-width="0.8"/>
<line x1="481.3" y1="259.3" x2="484.7" y2="259.3" stroke="#000" stroke-width="1"/>
<rect x="468" y="277.2" width="29.5" height="51" fill="#000"/>
<text x="369.4" y="342" font-size="10.71" font-weight="bold" text-anchor="start" fill="#000" stroke="#000" stroke-width="0.25" textLength="37.2" lengthAdjust="spacingAndGlyphs">Myeloid</text>
<text x="487" y="342" font-size="10.71" font-weight="bold" text-anchor="middle" fill="#000" stroke="#000" stroke-width="0.25" textLength="7.3" lengthAdjust="spacingAndGlyphs">B</text>
<text x="2.6" y="367.6" font-size="18" font-weight="bold" text-anchor="start" fill="#000" stroke="#000" stroke-width="0.25">E</text>
<text x="59.3" y="363.6" font-size="10.29" font-weight="bold" text-anchor="start" fill="#000" stroke="#000" stroke-width="0.25" textLength="58.2" lengthAdjust="spacingAndGlyphs">B220+Sca-1-</text>
<text x="141.3" y="364.4" font-size="10.29" font-weight="bold" text-anchor="start" fill="#000" stroke="#000" stroke-width="0.25" textLength="85" lengthAdjust="spacingAndGlyphs">Mc-1+Gr-1+Sca-1-</text>
<rect x="44.8" y="367" width="189.2" height="130.4" fill="none" stroke="#000" stroke-width="1.8"/>
<line x1="44.8" y1="478.92" x2="46.5" y2="478.92" stroke="#000" stroke-width="1.1"/>
<line x1="44.8" y1="460.43" x2="47.5" y2="460.43" stroke="#000" stroke-width="1.5"/>
<text x="40.1" y="464.85" font-size="10.71" font-weight="bold" text-anchor="end" fill="#000" stroke="#000" stroke-width="0.25" textLength="5.34" lengthAdjust="spacingAndGlyphs">1</text>
<line x1="44.8" y1="441.95" x2="46.5" y2="441.95" stroke="#000" stroke-width="1.1"/>
<line x1="44.8" y1="423.47" x2="47.5" y2="423.47" stroke="#000" stroke-width="1.5"/>
<text x="40.1" y="427.89" font-size="10.71" font-weight="bold" text-anchor="end" fill="#000" stroke="#000" stroke-width="0.25" textLength="5.34" lengthAdjust="spacingAndGlyphs">2</text>
<line x1="44.8" y1="404.98" x2="46.5" y2="404.98" stroke="#000" stroke-width="1.1"/>
<line x1="44.8" y1="386.5" x2="47.5" y2="386.5" stroke="#000" stroke-width="1.5"/>
<text x="40.1" y="390.92" font-size="10.71" font-weight="bold" text-anchor="end" fill="#000" stroke="#000" stroke-width="0.25" textLength="5.34" lengthAdjust="spacingAndGlyphs">3</text>
<text x="40.1" y="503.92" font-size="10.71" font-weight="bold" text-anchor="end" fill="#000" stroke="#000" stroke-width="0.25" textLength="5.34" lengthAdjust="spacingAndGlyphs">0</text>
<text transform="translate(25,437.2) rotate(-90)" x="0" y="0" font-size="9.45" font-weight="bold" text-anchor="middle" fill="#000" stroke="#000" stroke-width="0.25" textLength="117.3" lengthAdjust="spacingAndGlyphs">% of engraftment&#160; (Ly5.1)</text>
<ellipse cx="71.5" cy="438.3" rx="2.6" ry="2.3" fill="#fff" stroke="#000" stroke-width="1.3"/>
<ellipse cx="71.5" cy="431.3" rx="2.6" ry="2.3" fill="#fff" stroke="#000" stroke-width="1.3"/>
<ellipse cx="71.5" cy="427.2" rx="2.6" ry="2.3" fill="#fff" stroke="#000" stroke-width="1.3"/>
<ellipse cx="71.5" cy="423.2" rx="2.6" ry="2.3" fill="#fff" stroke="#000" stroke-width="1.3"/>
<ellipse cx="71.5" cy="419.6" rx="2.6" ry="2.3" fill="#fff" stroke="#000" stroke-width="1.3"/>
<line x1="63.8" y1="425.1" x2="78.8" y2="425.1" stroke="#000" stroke-width="2.2"/>
<text x="80.8" y="428.2" font-size="10.5" font-weight="bold" text-anchor="start" fill="#000" stroke="#000" stroke-width="0.15" textLength="13.6" lengthAdjust="spacingAndGlyphs">1.8</text>
<ellipse cx="112.8" cy="408.4" rx="3.3" ry="2.8" fill="#000" stroke="#000" stroke-width="0.6"/>
<ellipse cx="112.8" cy="438.9" rx="3.3" ry="2.8" fill="#000" stroke="#000" stroke-width="0.6"/>
<ellipse cx="112.8" cy="431.6" rx="3.3" ry="2.8" fill="#000" stroke="#000" stroke-width="0.6"/>
<ellipse cx="112.8" cy="428.3" rx="3.3" ry="2.8" fill="#000" stroke="#000" stroke-width="0.6"/>
<ellipse cx="112.8" cy="424.8" rx="3.3" ry="2.8" fill="#000" stroke="#000" stroke-width="0.6"/>
<ellipse cx="112.8" cy="421.4" rx="3.3" ry="2.8" fill="#000" stroke="#000" stroke-width="0.6"/>
<line x1="105.8" y1="425.1" x2="121" y2="425.1" stroke="#000" stroke-width="2.2"/>
<text x="125.2" y="428.2" font-size="10.5" font-weight="bold" text-anchor="start" fill="#000" stroke="#000" stroke-width="0.15" textLength="13.6" lengthAdjust="spacingAndGlyphs">1.8</text>
<path d="M162.5 429.7L166.2 433.2L162.5 436.7L158.8 433.2Z" fill="#000"/>
<path d="M162.5 426.5L166.2 430L162.5 433.5L158.8 430Z" fill="#000"/>
<path d="M162.5 423.5L166.2 427L162.5 430.5L158.8 427Z" fill="#000"/>
<path d="M162.5 420L166.2 423.5L162.5 427L158.8 423.5Z" fill="#000"/>
<path d="M162.5 416.5L166.2 420L162.5 423.5L158.8 420Z" fill="#000"/>
<line x1="154.5" y1="423.5" x2="169.8" y2="423.5" stroke="#000" stroke-width="2.2"/>
<text x="172.8" y="428" font-size="10.5" font-weight="bold" text-anchor="start" fill="#000" stroke="#000" stroke-width="0.15" textLength="13.2" lengthAdjust="spacingAndGlyphs">1.9</text>
<path d="M201 381.6L204.9 385.1L201 388.6L197.1 385.1Z" fill="#000"/>
<path d="M201 396.8L204.9 400.3L201 403.8L197.1 400.3Z" fill="#000"/>
<path d="M201 408.7L204.9 412.2L201 415.7L197.1 412.2Z" fill="#000"/>
<path d="M201 413.7L204.9 417.2L201 420.7L197.1 417.2Z" fill="#000"/>
<path d="M201 419.4L204.9 422.9L201 426.4L197.1 422.9Z" fill="#000"/>
<line x1="193.5" y1="409.8" x2="208.3" y2="409.8" stroke="#000" stroke-width="2.2"/>
<text x="211.6" y="413.6" font-size="10.5" font-weight="bold" text-anchor="start" fill="#000" stroke="#000" stroke-width="0.15" textLength="13.2" lengthAdjust="spacingAndGlyphs">2.3</text>
<text x="58.8" y="511.7" font-size="10.08" font-weight="bold" text-anchor="start" fill="#000" stroke="#000" stroke-width="0.25" textLength="34.2" lengthAdjust="spacingAndGlyphs">Control</text>
<text x="110" y="511.7" font-size="10.08" font-weight="bold" text-anchor="start" fill="#000" stroke="#000" stroke-width="0.25" textLength="12.5" lengthAdjust="spacingAndGlyphs">AT</text>
<text x="147.5" y="511.7" font-size="10.08" font-weight="bold" text-anchor="start" fill="#000" stroke="#000" stroke-width="0.25" textLength="35.5" lengthAdjust="spacingAndGlyphs">Control</text>
<text x="204.5" y="511.7" font-size="10.08" font-weight="bold" text-anchor="start" fill="#000" stroke="#000" stroke-width="0.25" textLength="11.75" lengthAdjust="spacingAndGlyphs">AT</text>
<text x="1.2" y="527.4" font-size="18" font-weight="bold" text-anchor="start" fill="#000" stroke="#000" stroke-width="0.25">F</text>
<rect x="44.5" y="534.7" width="134.3" height="154.6" fill="none" stroke="#000" stroke-width="1.8"/>
<line x1="44.5" y1="534.9" x2="47.3" y2="534.9" stroke="#000" stroke-width="1.5"/>
<text x="41.4" y="537.78" font-size="10.29" font-weight="bold" text-anchor="end" fill="#000" stroke="#000" stroke-width="0.25" textLength="10.68" lengthAdjust="spacingAndGlyphs">40</text>
<line x1="44.5" y1="572.4" x2="47.3" y2="572.4" stroke="#000" stroke-width="1.5"/>
<text x="41.4" y="575.28" font-size="10.29" font-weight="bold" text-anchor="end" fill="#000" stroke="#000" stroke-width="0.25" textLength="10.68" lengthAdjust="spacingAndGlyphs">30</text>
<line x1="44.5" y1="612.3" x2="47.3" y2="612.3" stroke="#000" stroke-width="1.5"/>
<text x="41.4" y="615.18" font-size="10.29" font-weight="bold" text-anchor="end" fill="#000" stroke="#000" stroke-width="0.25" textLength="10.68" lengthAdjust="spacingAndGlyphs">20</text>
<line x1="44.5" y1="651" x2="47.3" y2="651" stroke="#000" stroke-width="1.5"/>
<text x="41.4" y="653.88" font-size="10.29" font-weight="bold" text-anchor="end" fill="#000" stroke="#000" stroke-width="0.25" textLength="10.68" lengthAdjust="spacingAndGlyphs">10</text>
<line x1="44.5" y1="552.1" x2="46.5" y2="552.1" stroke="#000" stroke-width="1.2"/>
<line x1="44.5" y1="591.9" x2="46.5" y2="591.9" stroke="#000" stroke-width="1.2"/>
<line x1="44.5" y1="630.7" x2="46.5" y2="630.7" stroke="#000" stroke-width="1.2"/>
<line x1="44.5" y1="669.7" x2="46.5" y2="669.7" stroke="#000" stroke-width="1.2"/>
<text x="41.4" y="693.58" font-size="10.29" font-weight="bold" text-anchor="end" fill="#000" stroke="#000" stroke-width="0.25" textLength="5.34" lengthAdjust="spacingAndGlyphs">0</text>
<text transform="translate(21.6,615.6) rotate(-90)" x="0" y="0" font-size="9.77" font-weight="bold" text-anchor="middle" fill="#000" stroke="#000" stroke-width="0.25" textLength="97.5" lengthAdjust="spacingAndGlyphs">% of PI positive cells</text>
<rect x="53.45" y="542.85" width="6.2" height="8.3" fill="#fff" stroke="#000" stroke-width="1.7"/>
<rect x="52.6" y="558.7" width="7.9" height="10" fill="#000"/>
<text x="63.6" y="549.4" font-size="10.5" font-weight="bold" text-anchor="start" fill="#000" stroke="#000" stroke-width="0.25" textLength="41.4" lengthAdjust="spacingAndGlyphs">: Control</text>
<text x="64.2" y="565.6" font-size="10" font-weight="bold" text-anchor="start" fill="#000" stroke="#000" stroke-width="0.25">:</text>
<text x="73" y="565.6" font-size="10.5" font-weight="bold" text-anchor="start" fill="#000" stroke="#000" stroke-width="0.25" textLength="12.2" lengthAdjust="spacingAndGlyphs">AT</text>
<line x1="69.5" y1="683.2" x2="69.5" y2="684.5" stroke="#000" stroke-width="1"/>
<line x1="68" y1="683.2" x2="71" y2="683.2" stroke="#000" stroke-width="1"/>
<rect x="60.3" y="685.3" width="18.9" height="3.7" fill="#fff" stroke="#000" stroke-width="1.6"/>
<line x1="90.5" y1="682.8" x2="90.5" y2="683.75" stroke="#000" stroke-width="1"/>
<line x1="89" y1="682.8" x2="92" y2="682.8" stroke="#000" stroke-width="1"/>
<rect x="80" y="683.75" width="21.25" height="5.55" fill="#000"/>
<line x1="132" y1="669.5" x2="132" y2="673.25" stroke="#000" stroke-width="1.5"/>
<line x1="130.25" y1="669.5" x2="133.75" y2="669.5" stroke="#000" stroke-width="1.5"/>
<rect x="122.05" y="674.05" width="19.45" height="14.95" fill="#fff" stroke="#000" stroke-width="1.6"/>
<line x1="152.6" y1="546" x2="152.6" y2="583.5" stroke="#000" stroke-width="1.5"/>
<line x1="151.1" y1="546" x2="154.1" y2="546" stroke="#000" stroke-width="1.5"/>
<rect x="142.3" y="583.5" width="21.2" height="105.8" fill="#000"/>
<text x="53" y="701.3" font-size="10.29" font-weight="bold" text-anchor="start" fill="#000" stroke="#000" stroke-width="0.25" textLength="58.25" lengthAdjust="spacingAndGlyphs">CD34+CD38-</text>
<text x="129.5" y="701.3" font-size="10.29" font-weight="bold" text-anchor="start" fill="#000" stroke="#000" stroke-width="0.25" textLength="28" lengthAdjust="spacingAndGlyphs">CD34-</text>
<text x="190.8" y="528.4" font-size="18.5" font-weight="bold" text-anchor="start" fill="#000" stroke="#000" stroke-width="0.25">G</text>
<rect x="224.3" y="534" width="142.1" height="153.8" fill="none" stroke="#000" stroke-width="1.8"/>
<line x1="224.3" y1="534.4" x2="227" y2="534.4" stroke="#000" stroke-width="1.5"/>
<text x="220.8" y="537.82" font-size="10.4" font-weight="bold" text-anchor="end" fill="#000" stroke="#000" stroke-width="0.25" textLength="17.01" lengthAdjust="spacingAndGlyphs">100</text>
<line x1="224.3" y1="565" x2="227" y2="565" stroke="#000" stroke-width="1.5"/>
<text x="220.8" y="568.42" font-size="10.4" font-weight="bold" text-anchor="end" fill="#000" stroke="#000" stroke-width="0.25" textLength="11.34" lengthAdjust="spacingAndGlyphs">80</text>
<line x1="224.3" y1="595.8" x2="227" y2="595.8" stroke="#000" stroke-width="1.5"/>
<text x="220.8" y="599.22" font-size="10.4" font-weight="bold" text-anchor="end" fill="#000" stroke="#000" stroke-width="0.25" textLength="11.34" lengthAdjust="spacingAndGlyphs">60</text>
<line x1="224.3" y1="626.8" x2="227" y2="626.8" stroke="#000" stroke-width="1.5"/>
<text x="220.8" y="630.22" font-size="10.4" font-weight="bold" text-anchor="end" fill="#000" stroke="#000" stroke-width="0.25" textLength="11.34" lengthAdjust="spacingAndGlyphs">40</text>
<line x1="224.3" y1="657.4" x2="227" y2="657.4" stroke="#000" stroke-width="1.5"/>
<text x="220.8" y="660.82" font-size="10.4" font-weight="bold" text-anchor="end" fill="#000" stroke="#000" stroke-width="0.25" textLength="11.34" lengthAdjust="spacingAndGlyphs">20</text>
<text x="220.8" y="692.02" font-size="10.4" font-weight="bold" text-anchor="end" fill="#000" stroke="#000" stroke-width="0.25" textLength="5.67" lengthAdjust="spacingAndGlyphs">0</text>
<text transform="translate(203,612.2) rotate(-90)" x="0" y="0" font-size="10.5" font-weight="bold" text-anchor="middle" fill="#000" stroke="#000" stroke-width="0.25" textLength="79" lengthAdjust="spacingAndGlyphs">% of CD34+ cells</text>
<rect x="307.35" y="540.25" width="7.4" height="9.1" fill="#fff" stroke="#000" stroke-width="1.7"/>
<rect x="306.5" y="557.5" width="9.1" height="11.1" fill="#000"/>
<text x="318.6" y="547.3" font-size="10" font-weight="bold" text-anchor="start" fill="#000" stroke="#000" stroke-width="0.25">:</text>
<text x="324.6" y="547.3" font-size="10.5" font-weight="bold" text-anchor="start" fill="#000" stroke="#000" stroke-width="0.25" textLength="34.6" lengthAdjust="spacingAndGlyphs">Control</text>
<text x="318.6" y="565.3" font-size="10" font-weight="bold" text-anchor="start" fill="#000" stroke="#000" stroke-width="0.25">:</text>
<text x="327.1" y="565.3" font-size="10.5" font-weight="bold" text-anchor="start" fill="#000" stroke="#000" stroke-width="0.25" textLength="12.9" lengthAdjust="spacingAndGlyphs">AT</text>
<line x1="251.25" y1="578.75" x2="251.25" y2="583.75" stroke="#000" stroke-width="1.5"/>
<line x1="249.5" y1="578.75" x2="253" y2="578.75" stroke="#000" stroke-width="1.5"/>
<rect x="241" y="584.55" width="20.2" height="102.95" fill="#fff" stroke="#000" stroke-width="1.6"/>
<line x1="273" y1="544.25" x2="273" y2="548.75" stroke="#000" stroke-width="1.5"/>
<line x1="271.25" y1="544.25" x2="274.75" y2="544.25" stroke="#000" stroke-width="1.5"/>
<rect x="262" y="548.75" width="22.6" height="139.05" fill="#000"/>
<rect x="314.8" y="685.5" width="3.4" height="2.3" fill="#000"/>
<line x1="339.25" y1="650.75" x2="339.25" y2="666.25" stroke="#000" stroke-width="1.4"/>
<line x1="337.25" y1="650.75" x2="341.25" y2="650.75" stroke="#000" stroke-width="1.4"/>
<rect x="327.4" y="666.25" width="22.5" height="21.55" fill="#000"/>
<text x="235.3" y="699" font-size="10.08" font-weight="bold" text-anchor="start" fill="#000" stroke="#000" stroke-width="0.25" textLength="61" lengthAdjust="spacingAndGlyphs">CD34+CD38-</text>
<text x="318.3" y="699" font-size="10.08" font-weight="bold" text-anchor="start" fill="#000" stroke="#000" stroke-width="0.25" textLength="28.1" lengthAdjust="spacingAndGlyphs">CD34-</text>
<text x="-0.6" y="722.6" font-size="18" font-weight="bold" text-anchor="start" fill="#000" stroke="#000" stroke-width="0.25">H</text>
<rect x="48" y="738.75" width="134.2" height="152.15" fill="none" stroke="#000" stroke-width="1.8"/>
<line x1="48" y1="738.9" x2="50.7" y2="738.9" stroke="#000" stroke-width="1.5"/>
<text x="44.3" y="743.58" font-size="10.29" font-weight="bold" text-anchor="end" fill="#000" stroke="#000" stroke-width="0.25" textLength="21.35" lengthAdjust="spacingAndGlyphs">1200</text>
<line x1="48" y1="764.23" x2="50.7" y2="764.23" stroke="#000" stroke-width="1.5"/>
<text x="44.3" y="768.91" font-size="10.29" font-weight="bold" text-anchor="end" fill="#000" stroke="#000" stroke-width="0.25" textLength="21.35" lengthAdjust="spacingAndGlyphs">1000</text>
<line x1="48" y1="789.57" x2="50.7" y2="789.57" stroke="#000" stroke-width="1.5"/>
<text x="44.3" y="794.25" font-size="10.29" font-weight="bold" text-anchor="end" fill="#000" stroke="#000" stroke-width="0.25" textLength="16.01" lengthAdjust="spacingAndGlyphs">800</text>
<line x1="48" y1="814.9" x2="50.7" y2="814.9" stroke="#000" stroke-width="1.5"/>
<text x="44.3" y="819.58" font-size="10.29" font-weight="bold" text-anchor="end" fill="#000" stroke="#000" stroke-width="0.25" textLength="16.01" lengthAdjust="spacingAndGlyphs">600</text>
<line x1="48" y1="840.23" x2="50.7" y2="840.23" stroke="#000" stroke-width="1.5"/>
<text x="44.3" y="844.91" font-size="10.29" font-weight="bold" text-anchor="end" fill="#000" stroke="#000" stroke-width="0.25" textLength="16.01" lengthAdjust="spacingAndGlyphs">400</text>
<line x1="48" y1="865.57" x2="50.7" y2="865.57" stroke="#000" stroke-width="1.5"/>
<text x="44.3" y="870.25" font-size="10.29" font-weight="bold" text-anchor="end" fill="#000" stroke="#000" stroke-width="0.25" textLength="16.01" lengthAdjust="spacingAndGlyphs">200</text>
<text x="44.3" y="895.68" font-size="10.29" font-weight="bold" text-anchor="end" fill="#000" stroke="#000" stroke-width="0.25" textLength="5.34" lengthAdjust="spacingAndGlyphs">0</text>
<text transform="translate(20.9,815.5) rotate(-90)" font-size="9.4" font-weight="bold" stroke="#000" stroke-width="0.25" text-anchor="middle" textLength="174.7" lengthAdjust="spacingAndGlyphs">No. of total colonies from 1x10<tspan font-size="5.5" dy="-3.5">4</tspan><tspan dy="3.5"> cells</tspan></text>
<text x="51.3" y="751.6" font-size="10.71" font-weight="bold" text-anchor="start" fill="#000" stroke="#000" stroke-width="0.25" textLength="60.7" lengthAdjust="spacingAndGlyphs">CD34+CD38-</text>
<line x1="83.75" y1="844.25" x2="83.75" y2="850.75" stroke="#000" stroke-width="1.4"/>
<line x1="81.25" y1="844.25" x2="86.25" y2="844.25" stroke="#000" stroke-width="1.4"/>
<rect x="71.25" y="851.5" width="25.5" height="39.15" fill="#fff" stroke="#000" stroke-width="1.5"/>
<line x1="135.5" y1="757" x2="135.5" y2="765.5" stroke="#000" stroke-width="1.4"/>
<line x1="133" y1="757" x2="138" y2="757" stroke="#000" stroke-width="1.4"/>
<rect x="122.5" y="765.5" width="27.5" height="125.4" fill="#000"/>
<text x="67.2" y="904.9" font-size="10.29" font-weight="bold" text-anchor="start" fill="#000" stroke="#000" stroke-width="0.25" textLength="34.2" lengthAdjust="spacingAndGlyphs">control</text>
<text x="129.6" y="904.9" font-size="10.29" font-weight="bold" text-anchor="start" fill="#000" stroke="#000" stroke-width="0.25" textLength="12.3" lengthAdjust="spacingAndGlyphs">AT</text>
<rect x="223.5" y="738.75" width="142.8" height="152.15" fill="none" stroke="#000" stroke-width="1.8"/>
<line x1="223.5" y1="738.9" x2="226.2" y2="738.9" stroke="#000" stroke-width="1.5"/>
<text x="218.2" y="743.58" font-size="10.29" font-weight="bold" text-anchor="end" fill="#000" stroke="#000" stroke-width="0.25" textLength="10.68" lengthAdjust="spacingAndGlyphs">10</text>
<line x1="223.5" y1="769.3" x2="226.2" y2="769.3" stroke="#000" stroke-width="1.5"/>
<text x="218.2" y="773.98" font-size="10.29" font-weight="bold" text-anchor="end" fill="#000" stroke="#000" stroke-width="0.25" textLength="5.34" lengthAdjust="spacingAndGlyphs">8</text>
<line x1="223.5" y1="799.7" x2="226.2" y2="799.7" stroke="#000" stroke-width="1.5"/>
<text x="218.2" y="804.38" font-size="10.29" font-weight="bold" text-anchor="end" fill="#000" stroke="#000" stroke-width="0.25" textLength="5.34" lengthAdjust="spacingAndGlyphs">6</text>
<line x1="223.5" y1="830.1" x2="226.2" y2="830.1" stroke="#000" stroke-width="1.5"/>
<text x="218.2" y="834.78" font-size="10.29" font-weight="bold" text-anchor="end" fill="#000" stroke="#000" stroke-width="0.25" textLength="5.34" lengthAdjust="spacingAndGlyphs">4</text>
<line x1="223.5" y1="860.5" x2="226.2" y2="860.5" stroke="#000" stroke-width="1.5"/>
<text x="218.2" y="865.18" font-size="10.29" font-weight="bold" text-anchor="end" fill="#000" stroke="#000" stroke-width="0.25" textLength="5.34" lengthAdjust="spacingAndGlyphs">2</text>
<text x="218.2" y="895.68" font-size="10.29" font-weight="bold" text-anchor="end" fill="#000" stroke="#000" stroke-width="0.25" textLength="5.34" lengthAdjust="spacingAndGlyphs">0</text>
<text transform="translate(204.3,814) rotate(-90)" font-size="9.4" font-weight="bold" stroke="#000" stroke-width="0.25" text-anchor="middle" textLength="147" lengthAdjust="spacingAndGlyphs">No. of colonies from1x10<tspan font-size="5.5" dy="-3.5">6</tspan><tspan dy="3.5"> cells</tspan></text>
<text x="237" y="753.1" font-size="10.71" font-weight="bold" text-anchor="start" fill="#000" stroke="#000" stroke-width="0.25" textLength="29.2" lengthAdjust="spacingAndGlyphs">CD34-</text>
<line x1="272.3" y1="882.6" x2="272.3" y2="889" stroke="#000" stroke-width="1.2" stroke-linecap="round"/>
<line x1="269.53" y1="884.2" x2="275.07" y2="887.4" stroke="#000" stroke-width="1.2" stroke-linecap="round"/>
<line x1="275.07" y1="884.2" x2="269.53" y2="887.4" stroke="#000" stroke-width="1.2" stroke-linecap="round"/>
<line x1="316.75" y1="775" x2="316.75" y2="810" stroke="#000" stroke-width="1.2"/>
<line x1="314.85" y1="775" x2="318.65" y2="775" stroke="#000" stroke-width="1.2"/>
<rect x="301.3" y="810" width="30.7" height="80.9" fill="#000"/>
<text x="246.5" y="906.5" font-size="10.08" font-weight="bold" text-anchor="start" fill="#000" stroke="#000" stroke-width="0.25" textLength="33.8" lengthAdjust="spacingAndGlyphs">control</text>
<text x="310.4" y="906.5" font-size="10.08" font-weight="bold" text-anchor="start" fill="#000" stroke="#000" stroke-width="0.25" textLength="12.7" lengthAdjust="spacingAndGlyphs">AT</text>
</g>
</svg>
</body></html>
